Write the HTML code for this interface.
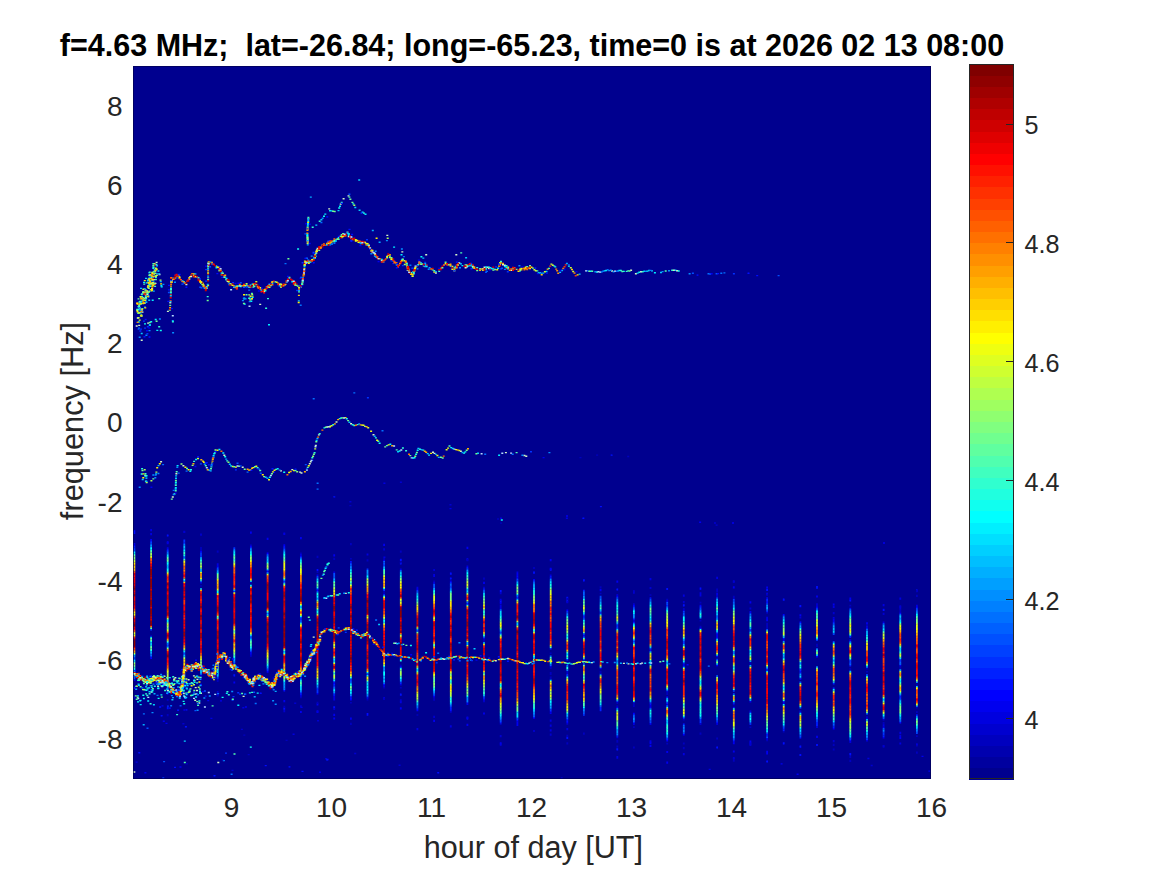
<!DOCTYPE html>
<html lang="en"><head><meta charset="utf-8"><title>spectrogram</title>
<style>
html,body{margin:0;padding:0;background:#fff}
body{width:1167px;height:875px;position:relative;overflow:hidden;font-family:"Liberation Sans",Arial,Helvetica,sans-serif;color:#262626}
.t{position:absolute;white-space:pre;line-height:1;font-size:28px}
#title{font-weight:bold;color:#000;font-size:30.5px;left:0;width:1064px;text-align:center;top:29.8px}
.xl{top:794.3px;width:100px;text-align:center}
.yl{left:0;width:122.5px;text-align:right}
.cl{left:1024.5px;font-size:25.2px}
#xlab{left:134.4px;width:798px;text-align:center;top:832.4px;font-size:30.6px}
#ylab{left:72.6px;top:421.3px;font-size:30.75px;transform:translate(-50%,-50%) rotate(-90deg)}
svg{position:absolute;left:0;top:0}
</style></head><body>
<div class="t" id="title">f=4.63 MHz;  lat=-26.84; long=-65.23, time=0 is at 2026 02 13 08:00</div>
<div class="t xl" style="left:181.5px">9</div>
<div class="t xl" style="left:281.5px">10</div>
<div class="t xl" style="left:381.5px">11</div>
<div class="t xl" style="left:481.5px">12</div>
<div class="t xl" style="left:581.5px">13</div>
<div class="t xl" style="left:681.5px">14</div>
<div class="t xl" style="left:781.5px">15</div>
<div class="t xl" style="left:881.5px">16</div>
<div class="t yl" style="top:92.5px">8</div>
<div class="t yl" style="top:171.7px">6</div>
<div class="t yl" style="top:251.0px">4</div>
<div class="t yl" style="top:330.2px">2</div>
<div class="t yl" style="top:409.4px">0</div>
<div class="t yl" style="top:488.6px">-2</div>
<div class="t yl" style="top:567.8px">-4</div>
<div class="t yl" style="top:647.1px">-6</div>
<div class="t yl" style="top:726.3px">-8</div>
<div class="t cl" style="top:112.7px">5</div>
<div class="t cl" style="top:231.7px">4.8</div>
<div class="t cl" style="top:350.7px">4.6</div>
<div class="t cl" style="top:469.7px">4.4</div>
<div class="t cl" style="top:588.7px">4.2</div>
<div class="t cl" style="top:707.7px">4</div>
<div class="t" id="xlab">hour of day [UT]</div>
<div class="t" id="ylab">frequency [Hz]</div>
<svg width="1167" height="875" viewBox="0 0 1167 875" shape-rendering="crispEdges">
<rect x="133" y="66" width="798" height="713" fill="#00008f"/>
<defs><filter id="sb" x="0" y="0" width="1" height="1"><feGaussianBlur stdDeviation="0.35"/></filter></defs>
<g shape-rendering="auto" filter="url(#sb)">
<path fill="#00cfff" d="M145 277.7h2v1.4h-2zM139.8 301.6h2v1.4h-2zM156 273.2h2v1.4h-2zM154.6 275.2h2v1.4h-2zM151.1 279.5h2v1.4h-2zM142.3 291.6h2v1.4h-2zM144.6 300.2h2v1.4h-2zM137.9 306.5h2v1.4h-2zM142.8 292.1h2v1.4h-2zM152.1 275.7h2v1.4h-2zM148.2 299.6h2v1.4h-2zM141 300.4h2v1.4h-2zM140 287.7h2v1.4h-2zM145 293.9h2v1.4h-2zM149.7 274.7h2v1.4h-2zM542.3 272.4h2v1.4h-2zM545.5 270.8h2v1.4h-2zM553.3 265.3h2v1.4h-2zM559.1 271.5h2v1.4h-2zM578.6 273.4h2v1.4h-2zM643.3 270.5h2v1.4h-2zM651 270.2h2v1.4h-2zM660 271.8h2v1.4h-2zM674.4 269.6h2v1.4h-2zM306.8 241.1h2v1.4h-2zM306.7 238.4h2v1.4h-2zM306.3 233h2v1.4h-2zM306.3 234.4h2v1.4h-2zM315.3 224.4h2v1.4h-2zM320.4 219h2v1.4h-2zM337.5 209.9h2v1.4h-2zM354.3 206.8h2v1.4h-2zM358.6 209.5h2v1.4h-2zM422.3 257.4h2v1.4h-2zM465.1 257h2v1.4h-2zM358.2 179.3h2v1.4h-2zM249.3 297.4h2v1.4h-2zM250.5 298.1h2v1.4h-2zM243 298.1h2v1.4h-2zM243.3 297.5h2v1.4h-2zM140.7 332.8h2v1.4h-2zM297.8 300.2h2v1.4h-2zM141.7 478.8h2v1.4h-2zM174.7 488.3h2v1.4h-2zM174.8 483.2h2v1.4h-2zM175 477.5h2v1.4h-2zM175.1 475.2h2v1.4h-2zM203.8 463.4h2v1.4h-2zM209.7 470.2h2v1.4h-2zM210.8 464h2v1.4h-2zM228.8 463.5h2v1.4h-2zM257.9 468.4h2v1.4h-2zM264.7 476.5h2v1.4h-2zM315.6 439.8h2v1.4h-2zM348.4 421.5h2v1.4h-2zM397 451.1h2v1.4h-2zM417.4 447.7h2v1.4h-2zM426.7 452.9h2v1.4h-2zM451.8 447.8h2v1.4h-2zM477 452.6h2v1.4h-2zM133.5 670.5h1.8v1.6h-1.8zM150.2 546.5h1.8v1.6h-1.8zM150.2 636.5h1.8v1.6h-1.8zM150.2 644h1.8v1.6h-1.8zM216.8 674.3h1.8v1.6h-1.8zM233.4 589.3h1.8v1.6h-1.8zM300 686.1h1.8v1.6h-1.8zM300 687.6h1.8v1.6h-1.8zM300 689.1h1.8v1.6h-1.8zM316.6 579h1.8v1.6h-1.8zM316.6 597h1.8v1.6h-1.8zM316.6 684h1.8v1.6h-1.8zM350 692.9h1.8v1.6h-1.8zM383.2 674.9h1.8v1.6h-1.8zM399.9 573h1.8v1.6h-1.8zM483.1 592.7h1.8v1.6h-1.8zM499.8 610.8h1.8v1.6h-1.8zM499.8 612.3h1.8v1.6h-1.8zM499.8 613.8h1.8v1.6h-1.8zM516.5 624h1.8v1.6h-1.8zM533.1 709.6h1.8v1.6h-1.8zM549.8 663h1.8v1.6h-1.8zM549.8 679.5h1.8v1.6h-1.8zM549.8 703.5h1.8v1.6h-1.8zM599.7 603.2h1.8v1.6h-1.8zM616.4 601.7h1.8v1.6h-1.8zM616.4 628.7h1.8v1.6h-1.8zM616.4 727.7h1.8v1.6h-1.8zM633 700.8h1.8v1.6h-1.8zM649.6 603.2h1.8v1.6h-1.8zM649.6 651.2h1.8v1.6h-1.8zM666.3 663.3h1.8v1.6h-1.8zM666.3 733.8h1.8v1.6h-1.8zM682.9 666.4h1.8v1.6h-1.8zM716.2 715.7h1.8v1.6h-1.8zM732.9 606.2h1.8v1.6h-1.8zM749.5 618.4h1.8v1.6h-1.8zM749.5 651.4h1.8v1.6h-1.8zM766.2 670.7h1.8v1.6h-1.8zM799.5 675.4h1.8v1.6h-1.8zM799.5 730.9h1.8v1.6h-1.8zM832.8 630.4h1.8v1.6h-1.8zM832.8 658.9h1.8v1.6h-1.8zM849.4 613.8h1.8v1.6h-1.8zM899.4 619.8h1.8v1.6h-1.8zM899.4 648.3h1.8v1.6h-1.8zM899.4 649.8h1.8v1.6h-1.8zM899.4 715.8h1.8v1.6h-1.8zM916 685.8h1.8v1.6h-1.8zM916 717.3h1.8v1.6h-1.8zM916 726.3h1.8v1.6h-1.8z"/>
<path fill="#d4f4c4" d="M151.9 282.1h2v1.4h-2zM136.8 317.3h2v1.4h-2zM154.5 282.7h2v1.4h-2zM147.2 286.1h2v1.4h-2zM150 282.6h2v1.4h-2zM151 287.9h2v1.4h-2zM146 290.5h2v1.4h-2zM155.6 261.7h2v1.4h-2zM146.7 291.4h2v1.4h-2zM146.5 293.7h2v1.4h-2zM152.9 278.9h2v1.4h-2zM138.9 307.9h2v1.4h-2zM141.5 311.4h2v1.4h-2zM144.9 297.1h2v1.4h-2zM137.7 308.7h2v1.4h-2zM154.2 270.4h2v1.4h-2zM138.1 305.8h2v1.4h-2zM158.5 273.8h2v1.4h-2zM166.9 310.7h2v1.4h-2zM169.3 302.1h2v1.4h-2zM170.1 281.3h2v1.4h-2zM170.8 280.2h2v1.4h-2zM185.4 283.8h2v1.4h-2zM188.3 278.4h2v1.4h-2zM189.3 275.9h2v1.4h-2zM190.2 275.8h2v1.4h-2zM177.6 275.7h2v1.4h-2zM226.6 280.5h2v1.4h-2zM263.1 290.6h2v1.4h-2zM278.7 283.6h2v1.4h-2zM305.2 260.9h2v1.4h-2zM315.3 252.3h2v1.4h-2zM315.9 249.2h2v1.4h-2zM316.6 247.8h2v1.4h-2zM329 240.9h2v1.4h-2zM225.7 278.7h2v1.4h-2zM315.6 250.5h2v1.4h-2zM321.4 244.5h2v1.4h-2zM347.8 235.9h2v1.4h-2zM350.4 237.7h2v1.4h-2zM367.9 244.6h2v1.4h-2zM369.1 247.3h2v1.4h-2zM380.8 259.9h2v1.4h-2zM418.4 261.4h2v1.4h-2zM376 256.7h2v1.4h-2zM434.9 272.3h2v1.4h-2zM458.3 262.3h2v1.4h-2zM464.6 267h2v1.4h-2zM466 266h2v1.4h-2zM471.9 265.6h2v1.4h-2zM482.1 268.1h2v1.4h-2zM483.5 266.6h2v1.4h-2zM486.4 266.6h2v1.4h-2zM487.9 267.9h2v1.4h-2zM499.1 263.4h2v1.4h-2zM502 264.1h2v1.4h-2zM503.9 264.5h2v1.4h-2zM510.4 269.6h2v1.4h-2zM611.1 270.3h2v1.4h-2zM630.1 269.5h2v1.4h-2zM634.9 273h2v1.4h-2zM640 271.1h2v1.4h-2zM672.8 269.5h2v1.4h-2zM676.1 270.1h2v1.4h-2zM306.8 242.8h2v1.4h-2zM306.6 240h2v1.4h-2zM328.2 208.2h2v1.4h-2zM339.7 203.4h2v1.4h-2zM342.6 198h2v1.4h-2zM347.5 195.2h2v1.4h-2zM386.3 234.7h2v1.4h-2zM401.3 251.2h2v1.4h-2zM406.7 269.7h2v1.4h-2zM425.2 254.1h2v1.4h-2zM455.3 254.1h2v1.4h-2zM259.2 303.7h2v1.4h-2zM140.7 339.6h2v1.4h-2zM135.7 325.3h2v1.4h-2zM138.2 324.7h2v1.4h-2zM147.1 322.4h2v1.4h-2zM160.1 461.1h2v1.4h-2zM171.8 496.3h2v1.4h-2zM175.4 473h2v1.4h-2zM182.4 465h2v1.4h-2zM223.3 454.6h2v1.4h-2zM241.7 466.6h2v1.4h-2zM280 470.2h2v1.4h-2zM291.3 468.9h2v1.4h-2zM299.1 471.4h2v1.4h-2zM300.5 472.3h2v1.4h-2zM308.8 463h2v1.4h-2zM309.8 461.1h2v1.4h-2zM314.8 444.7h2v1.4h-2zM317.9 434.2h2v1.4h-2zM326.2 426.3h2v1.4h-2zM335.5 421.3h2v1.4h-2zM350.1 423h2v1.4h-2zM372.5 434.1h2v1.4h-2zM432 451.5h2v1.4h-2zM433.5 452.7h2v1.4h-2zM459.9 450.5h2v1.4h-2zM504.9 451.9h2v1.4h-2zM523.4 454.8h2v1.4h-2zM525.3 455.5h2v1.4h-2z"/>
<path fill="#ff3000" d="M150.8 274.4h2v1.4h-2zM142.5 293h2v1.4h-2zM144.5 289.8h2v1.4h-2zM136.5 302.6h2v1.4h-2zM154.3 264.4h2v1.4h-2zM152.2 277.1h2v1.4h-2zM149.4 274.4h2v1.4h-2zM144.2 293.5h2v1.4h-2zM140.1 308h2v1.4h-2zM151.1 273.6h2v1.4h-2zM169.6 300.1h2v1.4h-2zM169.9 294.3h2v1.4h-2zM173.2 278.5h2v1.4h-2zM186.3 280.6h2v1.4h-2zM190.2 274.4h2v1.4h-2zM203.3 285.3h2v1.4h-2zM206.7 285.4h2v1.4h-2zM207.1 273.1h2v1.4h-2zM218.4 268.8h2v1.4h-2zM223.1 275.1h2v1.4h-2zM230.1 283.8h2v1.4h-2zM243 283.7h2v1.4h-2zM255.3 283.8h2v1.4h-2zM259.2 288.3h2v1.4h-2zM265.7 286.1h2v1.4h-2zM285.5 280.3h2v1.4h-2zM285.5 281.7h2v1.4h-2zM303.2 270.5h2v1.4h-2zM303.9 263.2h2v1.4h-2zM307.8 261.3h2v1.4h-2zM309.4 260h2v1.4h-2zM324.5 244.6h2v1.4h-2zM357.5 240.3h2v1.4h-2zM364 241.7h2v1.4h-2zM397 266.3h2v1.4h-2zM398 264.5h2v1.4h-2zM407 267.4h2v1.4h-2zM412.2 273h2v1.4h-2zM342.6 235.1h2v1.4h-2zM346.5 231.5h2v1.4h-2zM374.4 253.5h2v1.4h-2zM395.4 262.1h2v1.4h-2zM397 264.4h2v1.4h-2zM418.4 261.4h2v1.4h-2zM425.7 264.4h2v1.4h-2zM439.8 267.5h2v1.4h-2zM446.3 264.3h2v1.4h-2zM455.8 264.2h2v1.4h-2zM489.3 268.3h2v1.4h-2zM505.5 267.9h2v1.4h-2zM513.6 267.1h2v1.4h-2zM521.9 267.7h2v1.4h-2zM529 266h2v1.4h-2zM549.2 265.4h2v1.4h-2zM563.5 266h2v1.4h-2zM564.7 264.2h2v1.4h-2zM574.7 275h2v1.4h-2zM306.5 236h2v1.4h-2zM166.8 575.8h1.8v1.6h-1.8zM166.8 664.3h1.8v1.6h-1.8zM183.4 572.5h1.8v1.6h-1.8zM183.4 599.5h1.8v1.6h-1.8zM183.4 601h1.8v1.6h-1.8zM183.4 602.5h1.8v1.6h-1.8zM200.1 630.2h1.8v1.6h-1.8zM200.1 642.2h1.8v1.6h-1.8zM216.8 651.8h1.8v1.6h-1.8zM216.8 653.3h1.8v1.6h-1.8zM216.8 654.8h1.8v1.6h-1.8zM233.4 580.3h1.8v1.6h-1.8zM233.4 581.8h1.8v1.6h-1.8zM233.4 583.3h1.8v1.6h-1.8zM250 577.3h1.8v1.6h-1.8zM266.7 647.1h1.8v1.6h-1.8zM333.3 649.5h1.8v1.6h-1.8zM350 665.9h1.8v1.6h-1.8zM366.6 619.4h1.8v1.6h-1.8zM366.6 620.9h1.8v1.6h-1.8zM383.2 608.9h1.8v1.6h-1.8zM383.2 655.4h1.8v1.6h-1.8zM399.9 591h1.8v1.6h-1.8zM399.9 597h1.8v1.6h-1.8zM399.9 637.5h1.8v1.6h-1.8zM416.5 625.7h1.8v1.6h-1.8zM416.5 634.7h1.8v1.6h-1.8zM416.5 637.7h1.8v1.6h-1.8zM416.5 652.7h1.8v1.6h-1.8zM416.5 664.7h1.8v1.6h-1.8zM433.2 607.6h1.8v1.6h-1.8zM433.2 615.1h1.8v1.6h-1.8zM433.2 634.6h1.8v1.6h-1.8zM449.9 612.1h1.8v1.6h-1.8zM449.9 619.6h1.8v1.6h-1.8zM449.9 621.1h1.8v1.6h-1.8zM449.9 637.6h1.8v1.6h-1.8zM449.9 639.1h1.8v1.6h-1.8zM449.9 640.6h1.8v1.6h-1.8zM466.5 598.4h1.8v1.6h-1.8zM483.1 625.7h1.8v1.6h-1.8zM483.1 660.2h1.8v1.6h-1.8zM483.1 669.2h1.8v1.6h-1.8zM499.8 696.3h1.8v1.6h-1.8zM533.1 633.1h1.8v1.6h-1.8zM533.1 660.1h1.8v1.6h-1.8zM549.8 615h1.8v1.6h-1.8zM549.8 631.5h1.8v1.6h-1.8zM566.4 643.9h1.8v1.6h-1.8zM566.4 691.9h1.8v1.6h-1.8zM583 687.2h1.8v1.6h-1.8zM599.7 622.7h1.8v1.6h-1.8zM599.7 624.2h1.8v1.6h-1.8zM599.7 627.2h1.8v1.6h-1.8zM599.7 642.2h1.8v1.6h-1.8zM599.7 648.2h1.8v1.6h-1.8zM599.7 651.2h1.8v1.6h-1.8zM599.7 663.2h1.8v1.6h-1.8zM616.4 645.2h1.8v1.6h-1.8zM616.4 651.2h1.8v1.6h-1.8zM616.4 670.7h1.8v1.6h-1.8zM616.4 672.2h1.8v1.6h-1.8zM616.4 673.7h1.8v1.6h-1.8zM616.4 693.2h1.8v1.6h-1.8zM633 633.3h1.8v1.6h-1.8zM633 649.8h1.8v1.6h-1.8zM633 651.3h1.8v1.6h-1.8zM633 654.3h1.8v1.6h-1.8zM633 676.8h1.8v1.6h-1.8zM633 678.3h1.8v1.6h-1.8zM633 696.3h1.8v1.6h-1.8zM649.6 639.2h1.8v1.6h-1.8zM649.6 681.2h1.8v1.6h-1.8zM649.6 682.7h1.8v1.6h-1.8zM649.6 690.2h1.8v1.6h-1.8zM666.3 630.3h1.8v1.6h-1.8zM666.3 631.8h1.8v1.6h-1.8zM666.3 649.8h1.8v1.6h-1.8zM666.3 654.3h1.8v1.6h-1.8zM716.2 649.7h1.8v1.6h-1.8zM716.2 688.7h1.8v1.6h-1.8zM716.2 690.2h1.8v1.6h-1.8zM732.9 630.2h1.8v1.6h-1.8zM732.9 658.7h1.8v1.6h-1.8zM732.9 660.2h1.8v1.6h-1.8zM732.9 675.2h1.8v1.6h-1.8zM766.2 640.7h1.8v1.6h-1.8zM766.2 642.2h1.8v1.6h-1.8zM766.2 648.2h1.8v1.6h-1.8zM766.2 706.7h1.8v1.6h-1.8zM782.8 645.4h1.8v1.6h-1.8zM782.8 672.4h1.8v1.6h-1.8zM799.5 700.9h1.8v1.6h-1.8zM816.1 676.8h1.8v1.6h-1.8zM816.1 681.3h1.8v1.6h-1.8zM832.8 699.4h1.8v1.6h-1.8zM832.8 703.9h1.8v1.6h-1.8zM849.4 696.3h1.8v1.6h-1.8zM849.4 709.8h1.8v1.6h-1.8zM849.4 714.3h1.8v1.6h-1.8zM866.1 692h1.8v1.6h-1.8zM866.1 704h1.8v1.6h-1.8zM882.7 651.4h1.8v1.6h-1.8zM882.7 663.4h1.8v1.6h-1.8zM882.7 687.4h1.8v1.6h-1.8zM899.4 637.8h1.8v1.6h-1.8zM899.4 640.8h1.8v1.6h-1.8zM916 676.8h1.8v1.6h-1.8z"/>
<path fill="#30ffcf" d="M139.8 296.3h2v1.4h-2zM141.4 307.9h2v1.4h-2zM142.2 296.9h2v1.4h-2zM138.3 311.7h2v1.4h-2zM155 275.6h2v1.4h-2zM152.5 266.5h2v1.4h-2zM154.1 285.7h2v1.4h-2zM155.4 263.7h2v1.4h-2zM136.2 308.8h2v1.4h-2zM145.2 290.1h2v1.4h-2zM137 312.4h2v1.4h-2zM142.8 291.6h2v1.4h-2zM137.5 305.9h2v1.4h-2zM140.7 309.9h2v1.4h-2zM139.5 312.1h2v1.4h-2zM142.3 299.2h2v1.4h-2zM137.6 305.9h2v1.4h-2zM142.1 299.2h2v1.4h-2zM154.9 276.7h2v1.4h-2zM144.9 296.2h2v1.4h-2zM148 282.2h2v1.4h-2zM169.9 292h2v1.4h-2zM170 288.9h2v1.4h-2zM170 287.5h2v1.4h-2zM197.5 277h2v1.4h-2zM200.1 282.7h2v1.4h-2zM175.6 275.9h2v1.4h-2zM207.1 268.3h2v1.4h-2zM207.1 264.7h2v1.4h-2zM220.7 271.3h2v1.4h-2zM224.2 276.4h2v1.4h-2zM225.4 279.1h2v1.4h-2zM237.4 285.3h2v1.4h-2zM240.3 285h2v1.4h-2zM245.6 284.3h2v1.4h-2zM249.5 284.4h2v1.4h-2zM252.4 286.4h2v1.4h-2zM264.4 290h2v1.4h-2zM267 286.3h2v1.4h-2zM274.3 281.1h2v1.4h-2zM294.2 283h2v1.4h-2zM295.5 284.6h2v1.4h-2zM306.5 261.7h2v1.4h-2zM309.4 261.4h2v1.4h-2zM312.7 258.2h2v1.4h-2zM314.6 253.2h2v1.4h-2zM239.8 285.9h2v1.4h-2zM255.3 283.9h2v1.4h-2zM307.8 261.3h2v1.4h-2zM313.6 257.1h2v1.4h-2zM314.6 255.6h2v1.4h-2zM333.4 241.1h2v1.4h-2zM337.7 238.5h2v1.4h-2zM366.6 244.3h2v1.4h-2zM405.9 263h2v1.4h-2zM410.1 272.1h2v1.4h-2zM412.8 271.6h2v1.4h-2zM412.8 273h2v1.4h-2zM417.1 264h2v1.4h-2zM340.7 236.4h2v1.4h-2zM372.7 252.2h2v1.4h-2zM412.3 271.1h2v1.4h-2zM418.4 262.8h2v1.4h-2zM433.3 270h2v1.4h-2zM438.2 270.5h2v1.4h-2zM453.4 267.2h2v1.4h-2zM470.4 265.2h2v1.4h-2zM471.9 267h2v1.4h-2zM476.2 267h2v1.4h-2zM479.1 268.1h2v1.4h-2zM487.9 266.5h2v1.4h-2zM500 260.8h2v1.4h-2zM505.5 265.1h2v1.4h-2zM507.2 268h2v1.4h-2zM519 270h2v1.4h-2zM526.2 266h2v1.4h-2zM536.3 270.2h2v1.4h-2zM548 267.7h2v1.4h-2zM554.3 266.2h2v1.4h-2zM619.9 269.8h2v1.4h-2zM625.7 270.7h2v1.4h-2zM641.7 271h2v1.4h-2zM671.2 269.6h2v1.4h-2zM306.7 226.3h2v1.4h-2zM311.7 226.5h2v1.4h-2zM318.7 220.5h2v1.4h-2zM340.7 201.8h2v1.4h-2zM363 212.4h2v1.4h-2zM248.1 297.6h2v1.4h-2zM265.1 307.6h2v1.4h-2zM206.7 295.9h2v1.4h-2zM267 297.9h2v1.4h-2zM171.9 321h2v1.4h-2zM158.2 326h2v1.4h-2zM144.6 475.4h2v1.4h-2zM144.5 473h2v1.4h-2zM141.1 468.1h2v1.4h-2zM144.9 480.6h2v1.4h-2zM173.7 493.1h2v1.4h-2zM193.1 460.7h2v1.4h-2zM210.4 466.2h2v1.4h-2zM226.2 460.2h2v1.4h-2zM233.3 466.1h2v1.4h-2zM253.9 466h2v1.4h-2zM256.6 467h2v1.4h-2zM311.3 457h2v1.4h-2zM313.6 452h2v1.4h-2zM318.7 433.1h2v1.4h-2zM332.2 424h2v1.4h-2zM374.9 437.2h2v1.4h-2zM401.9 447.3h2v1.4h-2zM405.1 450h2v1.4h-2zM419.1 448.6h2v1.4h-2zM422.3 449.4h2v1.4h-2zM133.5 553.5h1.8v1.6h-1.8zM133.5 654h1.8v1.6h-1.8zM133.5 667.5h1.8v1.6h-1.8zM150.2 549.5h1.8v1.6h-1.8zM166.8 556.3h1.8v1.6h-1.8zM166.8 682.3h1.8v1.6h-1.8zM183.4 551.5h1.8v1.6h-1.8zM233.4 554.8h1.8v1.6h-1.8zM300 608.1h1.8v1.6h-1.8zM316.6 586.5h1.8v1.6h-1.8zM316.6 679.5h1.8v1.6h-1.8zM350 581.9h1.8v1.6h-1.8zM350 676.4h1.8v1.6h-1.8zM366.6 680.9h1.8v1.6h-1.8zM399.9 576h1.8v1.6h-1.8zM449.9 700.6h1.8v1.6h-1.8zM466.5 587.9h1.8v1.6h-1.8zM466.5 604.4h1.8v1.6h-1.8zM483.1 610.7h1.8v1.6h-1.8zM483.1 612.2h1.8v1.6h-1.8zM483.1 691.7h1.8v1.6h-1.8zM483.1 693.2h1.8v1.6h-1.8zM499.8 685.8h1.8v1.6h-1.8zM499.8 712.8h1.8v1.6h-1.8zM516.5 711h1.8v1.6h-1.8zM533.1 703.6h1.8v1.6h-1.8zM533.1 705.1h1.8v1.6h-1.8zM533.1 706.6h1.8v1.6h-1.8zM549.8 586.5h1.8v1.6h-1.8zM566.4 616.9h1.8v1.6h-1.8zM566.4 667.9h1.8v1.6h-1.8zM566.4 676.9h1.8v1.6h-1.8zM583 621.2h1.8v1.6h-1.8zM616.4 610.7h1.8v1.6h-1.8zM616.4 621.2h1.8v1.6h-1.8zM616.4 699.2h1.8v1.6h-1.8zM616.4 709.7h1.8v1.6h-1.8zM666.3 724.8h1.8v1.6h-1.8zM666.3 726.3h1.8v1.6h-1.8zM666.3 729.3h1.8v1.6h-1.8zM666.3 730.8h1.8v1.6h-1.8zM682.9 621.4h1.8v1.6h-1.8zM699.6 613.8h1.8v1.6h-1.8zM699.6 708.3h1.8v1.6h-1.8zM716.2 619.7h1.8v1.6h-1.8zM716.2 660.2h1.8v1.6h-1.8zM732.9 666.2h1.8v1.6h-1.8zM732.9 688.7h1.8v1.6h-1.8zM732.9 729.2h1.8v1.6h-1.8zM749.5 621.4h1.8v1.6h-1.8zM749.5 625.9h1.8v1.6h-1.8zM766.2 666.2h1.8v1.6h-1.8zM766.2 727.7h1.8v1.6h-1.8zM782.8 622.9h1.8v1.6h-1.8zM782.8 688.9h1.8v1.6h-1.8zM782.8 699.4h1.8v1.6h-1.8zM799.5 705.4h1.8v1.6h-1.8zM816.1 612.3h1.8v1.6h-1.8zM816.1 711.3h1.8v1.6h-1.8zM849.4 732.3h1.8v1.6h-1.8zM866.1 638h1.8v1.6h-1.8zM866.1 729.5h1.8v1.6h-1.8zM882.7 630.4h1.8v1.6h-1.8zM916 615.3h1.8v1.6h-1.8z"/>
<path fill="#10ffef" d="M149.2 280.5h2v1.4h-2zM145.2 298h2v1.4h-2zM146.7 292.6h2v1.4h-2zM139.9 315.1h2v1.4h-2zM153 282.9h2v1.4h-2zM138.3 303.8h2v1.4h-2zM150.4 276.6h2v1.4h-2zM143.4 302.6h2v1.4h-2zM143.8 302.6h2v1.4h-2zM138.3 301.4h2v1.4h-2zM137.4 309.1h2v1.4h-2zM149 285.5h2v1.4h-2zM152.3 267.5h2v1.4h-2zM152.1 283.8h2v1.4h-2zM145.6 282.2h2v1.4h-2zM155 268.3h2v1.4h-2zM137.7 321.3h2v1.4h-2zM154 270.2h2v1.4h-2zM141.1 295.7h2v1.4h-2zM146.9 280h2v1.4h-2zM160.7 286.2h2v1.4h-2zM537.7 272.2h2v1.4h-2zM567.9 265.4h2v1.4h-2zM589.6 270.5h2v1.4h-2zM595.9 271.3h2v1.4h-2zM622.8 270.7h2v1.4h-2zM638.3 271.6h2v1.4h-2zM677.7 270.3h2v1.4h-2zM306.5 237.4h2v1.4h-2zM306.4 234.6h2v1.4h-2zM306.4 236h2v1.4h-2zM307 222.4h2v1.4h-2zM307 223.8h2v1.4h-2zM307.3 220.9h2v1.4h-2zM323 215.5h2v1.4h-2zM338.2 207.3h2v1.4h-2zM352.3 203.2h2v1.4h-2zM420.4 256.1h2v1.4h-2zM297.1 248.3h2v1.4h-2zM144 323.2h2v1.4h-2zM159.8 329.8h2v1.4h-2zM150.2 321.1h2v1.4h-2zM140.7 473.3h2v1.4h-2zM174.9 481.5h2v1.4h-2zM189.3 470.7h2v1.4h-2zM190 469h2v1.4h-2zM224.2 456.1h2v1.4h-2zM268.9 476.5h2v1.4h-2zM283.2 471.6h2v1.4h-2zM323.4 427.2h2v1.4h-2zM340.2 417.3h2v1.4h-2zM345.8 418.1h2v1.4h-2zM351.7 424.1h2v1.4h-2zM378.6 442.5h2v1.4h-2zM389.3 443.5h2v1.4h-2zM398.6 450.3h2v1.4h-2zM413.5 457.1h2v1.4h-2zM415.1 453.5h2v1.4h-2zM463.1 452.4h2v1.4h-2zM464.4 451.2h2v1.4h-2zM150.2 641h1.8v1.6h-1.8zM150.2 650h1.8v1.6h-1.8zM183.4 554.5h1.8v1.6h-1.8zM216.8 572.3h1.8v1.6h-1.8zM216.8 590.3h1.8v1.6h-1.8zM216.8 591.8h1.8v1.6h-1.8zM233.4 553.3h1.8v1.6h-1.8zM250 646.3h1.8v1.6h-1.8zM266.7 561.6h1.8v1.6h-1.8zM300 605.1h1.8v1.6h-1.8zM300 615.6h1.8v1.6h-1.8zM300 680.1h1.8v1.6h-1.8zM316.6 580.5h1.8v1.6h-1.8zM316.6 682.5h1.8v1.6h-1.8zM333.3 580.5h1.8v1.6h-1.8zM350 571.4h1.8v1.6h-1.8zM350 689.9h1.8v1.6h-1.8zM366.6 671.9h1.8v1.6h-1.8zM383.2 587.9h1.8v1.6h-1.8zM383.2 619.4h1.8v1.6h-1.8zM449.9 591.1h1.8v1.6h-1.8zM449.9 681.1h1.8v1.6h-1.8zM483.1 594.2h1.8v1.6h-1.8zM533.1 589.6h1.8v1.6h-1.8zM533.1 630.1h1.8v1.6h-1.8zM549.8 583.5h1.8v1.6h-1.8zM566.4 636.4h1.8v1.6h-1.8zM566.4 666.4h1.8v1.6h-1.8zM583 598.7h1.8v1.6h-1.8zM599.7 604.7h1.8v1.6h-1.8zM599.7 702.2h1.8v1.6h-1.8zM616.4 607.7h1.8v1.6h-1.8zM616.4 663.2h1.8v1.6h-1.8zM649.6 616.7h1.8v1.6h-1.8zM649.6 699.2h1.8v1.6h-1.8zM649.6 709.7h1.8v1.6h-1.8zM649.6 712.7h1.8v1.6h-1.8zM666.3 660.3h1.8v1.6h-1.8zM699.6 615.3h1.8v1.6h-1.8zM699.6 628.8h1.8v1.6h-1.8zM699.6 712.8h1.8v1.6h-1.8zM716.2 714.2h1.8v1.6h-1.8zM732.9 730.7h1.8v1.6h-1.8zM749.5 652.9h1.8v1.6h-1.8zM782.8 621.4h1.8v1.6h-1.8zM782.8 652.9h1.8v1.6h-1.8zM782.8 685.9h1.8v1.6h-1.8zM799.5 666.4h1.8v1.6h-1.8zM849.4 733.8h1.8v1.6h-1.8zM882.7 697.9h1.8v1.6h-1.8zM899.4 678.3h1.8v1.6h-1.8zM899.4 681.3h1.8v1.6h-1.8zM916 724.8h1.8v1.6h-1.8z"/>
<path fill="#cfff30" d="M155.9 274.7h2v1.4h-2zM138 312.3h2v1.4h-2zM151 285.4h2v1.4h-2zM142.4 299.4h2v1.4h-2zM154.5 275.6h2v1.4h-2zM153.1 273.3h2v1.4h-2zM155.1 269.1h2v1.4h-2zM150.6 290.2h2v1.4h-2zM138.7 319.4h2v1.4h-2zM154.8 267.6h2v1.4h-2zM151.2 271.7h2v1.4h-2zM142.2 302.8h2v1.4h-2zM136.2 309.7h2v1.4h-2zM137.6 317h2v1.4h-2zM142.4 288.6h2v1.4h-2zM147.9 291.4h2v1.4h-2zM150.3 277.8h2v1.4h-2zM140 303.1h2v1.4h-2zM170.1 280h2v1.4h-2zM192.8 273.2h2v1.4h-2zM201.9 282.8h2v1.4h-2zM207.1 284.5h2v1.4h-2zM207.1 276.9h2v1.4h-2zM207.1 272.2h2v1.4h-2zM215.5 265.7h2v1.4h-2zM235.9 285.6h2v1.4h-2zM244.3 285h2v1.4h-2zM245.6 282.9h2v1.4h-2zM255.3 281h2v1.4h-2zM259.2 286.9h2v1.4h-2zM280 283.5h2v1.4h-2zM280 286.3h2v1.4h-2zM299.6 286.5h2v1.4h-2zM303.6 264.3h2v1.4h-2zM303.9 261.8h2v1.4h-2zM314 257h2v1.4h-2zM327.5 242.9h2v1.4h-2zM288.4 276.7h2v1.4h-2zM305.9 260.9h2v1.4h-2zM333.4 239.7h2v1.4h-2zM365.3 242.8h2v1.4h-2zM371.5 249.8h2v1.4h-2zM403.3 260h2v1.4h-2zM405.9 264.4h2v1.4h-2zM413.4 270.3h2v1.4h-2zM413.9 267.5h2v1.4h-2zM414.5 266.8h2v1.4h-2zM336.8 238.2h2v1.4h-2zM364 241.8h2v1.4h-2zM451.4 265.8h2v1.4h-2zM451.4 268.6h2v1.4h-2zM453.4 270h2v1.4h-2zM457 264.3h2v1.4h-2zM466 264.6h2v1.4h-2zM482.1 269.5h2v1.4h-2zM499.1 262h2v1.4h-2zM519 268.6h2v1.4h-2zM520.4 267.8h2v1.4h-2zM533.4 269.1h2v1.4h-2zM534.8 270.1h2v1.4h-2zM543.9 271h2v1.4h-2zM550.4 263.4h2v1.4h-2zM551.8 264.6h2v1.4h-2zM569.8 267.1h2v1.4h-2zM572.2 270.8h2v1.4h-2zM306.8 242.5h2v1.4h-2zM306.6 237.2h2v1.4h-2zM197 457.8h2v1.4h-2zM231.7 465.8h2v1.4h-2zM314.2 448.2h2v1.4h-2zM361.1 424.4h2v1.4h-2zM367.2 427.1h2v1.4h-2zM458.3 449.8h2v1.4h-2zM133.5 633h1.8v1.6h-1.8zM133.5 652.5h1.8v1.6h-1.8zM166.8 623.8h1.8v1.6h-1.8zM183.4 658h1.8v1.6h-1.8zM200.1 658.7h1.8v1.6h-1.8zM216.8 578.3h1.8v1.6h-1.8zM216.8 662.3h1.8v1.6h-1.8zM266.7 573.6h1.8v1.6h-1.8zM283.4 577.3h1.8v1.6h-1.8zM283.4 670.3h1.8v1.6h-1.8zM283.4 671.8h1.8v1.6h-1.8zM283.4 674.8h1.8v1.6h-1.8zM316.6 607.5h1.8v1.6h-1.8zM416.5 693.2h1.8v1.6h-1.8zM416.5 694.7h1.8v1.6h-1.8zM416.5 696.2h1.8v1.6h-1.8zM449.9 600.1h1.8v1.6h-1.8zM449.9 678.1h1.8v1.6h-1.8zM449.9 691.6h1.8v1.6h-1.8zM466.5 581.9h1.8v1.6h-1.8zM466.5 599.9h1.8v1.6h-1.8zM466.5 640.4h1.8v1.6h-1.8zM483.1 682.7h1.8v1.6h-1.8zM499.8 705.3h1.8v1.6h-1.8zM516.5 703.5h1.8v1.6h-1.8zM533.1 631.6h1.8v1.6h-1.8zM533.1 699.1h1.8v1.6h-1.8zM549.8 591h1.8v1.6h-1.8zM549.8 592.5h1.8v1.6h-1.8zM549.8 696h1.8v1.6h-1.8zM566.4 624.4h1.8v1.6h-1.8zM566.4 639.4h1.8v1.6h-1.8zM616.4 715.7h1.8v1.6h-1.8zM616.4 717.2h1.8v1.6h-1.8zM616.4 718.7h1.8v1.6h-1.8zM649.6 658.7h1.8v1.6h-1.8zM666.3 618.3h1.8v1.6h-1.8zM666.3 658.8h1.8v1.6h-1.8zM699.6 699.3h1.8v1.6h-1.8zM716.2 640.7h1.8v1.6h-1.8zM716.2 703.7h1.8v1.6h-1.8zM749.5 666.4h1.8v1.6h-1.8zM782.8 631.9h1.8v1.6h-1.8zM782.8 633.4h1.8v1.6h-1.8zM782.8 682.9h1.8v1.6h-1.8zM782.8 705.4h1.8v1.6h-1.8zM782.8 712.9h1.8v1.6h-1.8zM799.5 724.9h1.8v1.6h-1.8zM816.1 621.3h1.8v1.6h-1.8zM832.8 664.9h1.8v1.6h-1.8zM832.8 711.4h1.8v1.6h-1.8zM849.4 672.3h1.8v1.6h-1.8zM866.1 722h1.8v1.6h-1.8zM882.7 633.4h1.8v1.6h-1.8zM882.7 634.9h1.8v1.6h-1.8zM899.4 624.3h1.8v1.6h-1.8z"/>
<path fill="#ff8f00" d="M136.6 303.6h2v1.4h-2zM143.9 301.9h2v1.4h-2zM142.2 301.3h2v1.4h-2zM153.6 283.7h2v1.4h-2zM140.2 310.8h2v1.4h-2zM151.9 279.7h2v1.4h-2zM151.3 286.4h2v1.4h-2zM150.9 278.6h2v1.4h-2zM140.4 297.8h2v1.4h-2zM136.6 321.7h2v1.4h-2zM144.3 291.5h2v1.4h-2zM172 278.7h2v1.4h-2zM174.4 277.3h2v1.4h-2zM192.8 274.6h2v1.4h-2zM199 281.1h2v1.4h-2zM211 261.8h2v1.4h-2zM220.7 274.1h2v1.4h-2zM234.4 286.9h2v1.4h-2zM246.9 285.3h2v1.4h-2zM256.6 285.9h2v1.4h-2zM264.4 288.6h2v1.4h-2zM277.2 282.4h2v1.4h-2zM280 284.9h2v1.4h-2zM313.3 256.4h2v1.4h-2zM316.6 249.2h2v1.4h-2zM326 242.7h2v1.4h-2zM351.8 238.9h2v1.4h-2zM360.1 241.4h2v1.4h-2zM365.3 244.2h2v1.4h-2zM370.3 248.9h2v1.4h-2zM387.3 254.7h2v1.4h-2zM388.9 254h2v1.4h-2zM399 262.8h2v1.4h-2zM404.8 260.6h2v1.4h-2zM406.5 267.3h2v1.4h-2zM410.1 273.5h2v1.4h-2zM415.8 265h2v1.4h-2zM555.2 268.4h2v1.4h-2zM556.2 270.1h2v1.4h-2zM557.2 272.5h2v1.4h-2zM562.3 267.8h2v1.4h-2zM573.5 272.3h2v1.4h-2zM306.7 241.2h2v1.4h-2zM306.3 232.5h2v1.4h-2zM306.4 229.6h2v1.4h-2zM166.8 631.3h1.8v1.6h-1.8zM200.1 573.2h1.8v1.6h-1.8zM200.1 574.7h1.8v1.6h-1.8zM216.8 585.8h1.8v1.6h-1.8zM216.8 657.8h1.8v1.6h-1.8zM233.4 625.3h1.8v1.6h-1.8zM233.4 635.8h1.8v1.6h-1.8zM250 563.8h1.8v1.6h-1.8zM250 631.3h1.8v1.6h-1.8zM283.4 667.3h1.8v1.6h-1.8zM300 626.1h1.8v1.6h-1.8zM300 668.1h1.8v1.6h-1.8zM333.3 669h1.8v1.6h-1.8zM366.6 587.9h1.8v1.6h-1.8zM366.6 589.4h1.8v1.6h-1.8zM366.6 590.9h1.8v1.6h-1.8zM366.6 617.9h1.8v1.6h-1.8zM383.2 584.9h1.8v1.6h-1.8zM383.2 625.4h1.8v1.6h-1.8zM383.2 659.9h1.8v1.6h-1.8zM416.5 688.7h1.8v1.6h-1.8zM433.2 603.1h1.8v1.6h-1.8zM466.5 680.9h1.8v1.6h-1.8zM483.1 676.7h1.8v1.6h-1.8zM499.8 697.8h1.8v1.6h-1.8zM516.5 699h1.8v1.6h-1.8zM533.1 690.1h1.8v1.6h-1.8zM533.1 691.6h1.8v1.6h-1.8zM566.4 681.4h1.8v1.6h-1.8zM583 691.7h1.8v1.6h-1.8zM599.7 618.2h1.8v1.6h-1.8zM599.7 619.7h1.8v1.6h-1.8zM633 645.3h1.8v1.6h-1.8zM649.6 625.7h1.8v1.6h-1.8zM649.6 694.7h1.8v1.6h-1.8zM666.3 712.8h1.8v1.6h-1.8zM682.9 630.4h1.8v1.6h-1.8zM682.9 631.9h1.8v1.6h-1.8zM732.9 697.7h1.8v1.6h-1.8zM732.9 711.2h1.8v1.6h-1.8zM766.2 711.2h1.8v1.6h-1.8zM782.8 708.4h1.8v1.6h-1.8zM816.1 700.8h1.8v1.6h-1.8zM849.4 646.8h1.8v1.6h-1.8zM866.1 662h1.8v1.6h-1.8zM866.1 681.5h1.8v1.6h-1.8zM899.4 672.3h1.8v1.6h-1.8zM916 634.8h1.8v1.6h-1.8z"/>
<path fill="#ffef00" d="M152.9 262.9h2v1.4h-2zM151.4 272.9h2v1.4h-2zM136.2 302.5h2v1.4h-2zM153.8 269h2v1.4h-2zM147.4 282h2v1.4h-2zM148.6 277.5h2v1.4h-2zM149.8 288.9h2v1.4h-2zM151.6 282.3h2v1.4h-2zM143.8 279.9h2v1.4h-2zM144.1 299.6h2v1.4h-2zM151.2 288.3h2v1.4h-2zM147.2 284.9h2v1.4h-2zM136.5 311h2v1.4h-2zM145.4 290h2v1.4h-2zM149.2 283.3h2v1.4h-2zM151.9 279.1h2v1.4h-2zM153.5 262.9h2v1.4h-2zM155.9 268.4h2v1.4h-2zM151 289.7h2v1.4h-2zM139.6 296.1h2v1.4h-2zM160.1 283.2h2v1.4h-2zM194.4 276.1h2v1.4h-2zM200.4 281.6h2v1.4h-2zM263.1 289.2h2v1.4h-2zM268.5 286.6h2v1.4h-2zM275.7 281.6h2v1.4h-2zM302.7 274h2v1.4h-2zM303.1 270.9h2v1.4h-2zM303.8 264.1h2v1.4h-2zM303.9 260.4h2v1.4h-2zM307.8 262.7h2v1.4h-2zM340.7 235.5h2v1.4h-2zM356.2 239.8h2v1.4h-2zM366.6 242.9h2v1.4h-2zM370.3 250.3h2v1.4h-2zM373.9 254.2h2v1.4h-2zM386.1 255.7h2v1.4h-2zM388.9 256.8h2v1.4h-2zM400.9 260.1h2v1.4h-2zM390.5 258.8h2v1.4h-2zM410.1 273.3h2v1.4h-2zM413.8 268h2v1.4h-2zM433.3 271.4h2v1.4h-2zM444.6 263h2v1.4h-2zM496.2 269.1h2v1.4h-2zM498.1 265.4h2v1.4h-2zM507.2 266.6h2v1.4h-2zM517.5 270.6h2v1.4h-2zM520.4 269.2h2v1.4h-2zM524.8 266.6h2v1.4h-2zM529 267.8h2v1.4h-2zM530.5 266.6h2v1.4h-2zM576.6 274.2h2v1.4h-2zM306.6 227.5h2v1.4h-2zM307.4 218.1h2v1.4h-2zM375.6 237.6h2v1.4h-2zM249.6 295.5h2v1.4h-2zM251 298h2v1.4h-2zM243 294h2v1.4h-2zM297.7 301.8h2v1.4h-2zM142.4 473.2h2v1.4h-2zM142.3 477.1h2v1.4h-2zM156.2 467h2v1.4h-2zM158.8 463h2v1.4h-2zM184.4 466.5h2v1.4h-2zM187.6 469h2v1.4h-2zM201.9 460.4h2v1.4h-2zM202.9 461.5h2v1.4h-2zM216.5 449.6h2v1.4h-2zM234.9 466.4h2v1.4h-2zM249.5 469.3h2v1.4h-2zM261.8 474h2v1.4h-2zM273.5 469.5h2v1.4h-2zM292.9 469.9h2v1.4h-2zM344.5 416.9h2v1.4h-2zM430.1 452.7h2v1.4h-2zM133.5 562.5h1.8v1.6h-1.8zM133.5 612h1.8v1.6h-1.8zM183.4 664h1.8v1.6h-1.8zM216.8 660.8h1.8v1.6h-1.8zM250 560.8h1.8v1.6h-1.8zM333.3 646.5h1.8v1.6h-1.8zM333.3 663h1.8v1.6h-1.8zM366.6 677.9h1.8v1.6h-1.8zM383.2 662.9h1.8v1.6h-1.8zM399.9 585h1.8v1.6h-1.8zM433.2 600.1h1.8v1.6h-1.8zM466.5 683.9h1.8v1.6h-1.8zM483.1 604.7h1.8v1.6h-1.8zM499.8 636.3h1.8v1.6h-1.8zM499.8 702.3h1.8v1.6h-1.8zM516.5 702h1.8v1.6h-1.8zM533.1 697.6h1.8v1.6h-1.8zM549.8 645h1.8v1.6h-1.8zM549.8 682.5h1.8v1.6h-1.8zM566.4 706.9h1.8v1.6h-1.8zM616.4 666.2h1.8v1.6h-1.8zM649.6 622.7h1.8v1.6h-1.8zM649.6 654.2h1.8v1.6h-1.8zM649.6 696.2h1.8v1.6h-1.8zM666.3 622.8h1.8v1.6h-1.8zM666.3 666.3h1.8v1.6h-1.8zM666.3 714.3h1.8v1.6h-1.8zM682.9 699.4h1.8v1.6h-1.8zM699.6 687.3h1.8v1.6h-1.8zM716.2 627.2h1.8v1.6h-1.8zM716.2 702.2h1.8v1.6h-1.8zM732.9 622.7h1.8v1.6h-1.8zM732.9 709.7h1.8v1.6h-1.8zM749.5 634.9h1.8v1.6h-1.8zM749.5 696.4h1.8v1.6h-1.8zM782.8 649.9h1.8v1.6h-1.8zM799.5 634.9h1.8v1.6h-1.8zM799.5 703.9h1.8v1.6h-1.8zM832.8 691.9h1.8v1.6h-1.8zM832.8 708.4h1.8v1.6h-1.8zM849.4 624.3h1.8v1.6h-1.8zM849.4 630.3h1.8v1.6h-1.8zM866.1 644h1.8v1.6h-1.8zM866.1 678.5h1.8v1.6h-1.8zM882.7 637.9h1.8v1.6h-1.8zM899.4 627.3h1.8v1.6h-1.8z"/>
<path fill="#00afff" d="M138.7 307h2v1.4h-2zM147.7 287.6h2v1.4h-2zM145.4 301.6h2v1.4h-2zM147.4 295.1h2v1.4h-2zM139 308.8h2v1.4h-2zM144.8 289.5h2v1.4h-2zM148.3 272h2v1.4h-2zM147.4 279.1h2v1.4h-2zM152.8 290.4h2v1.4h-2zM153.9 269.2h2v1.4h-2zM152.9 270.7h2v1.4h-2zM143.7 287.9h2v1.4h-2zM147.7 296.1h2v1.4h-2zM145.1 290.7h2v1.4h-2zM147.8 278.5h2v1.4h-2zM141.2 293.1h2v1.4h-2zM152.5 280.4h2v1.4h-2zM144 306.5h2v1.4h-2zM138.8 307.1h2v1.4h-2zM156 265h2v1.4h-2zM158.2 273.1h2v1.4h-2zM159.8 280.8h2v1.4h-2zM169.5 300.8h2v1.4h-2zM194.4 273.3h2v1.4h-2zM203.6 287.6h2v1.4h-2zM206.7 283.8h2v1.4h-2zM172.4 277.3h2v1.4h-2zM196.1 276.5h2v1.4h-2zM207.1 275.4h2v1.4h-2zM211 263.2h2v1.4h-2zM220.7 272.7h2v1.4h-2zM233 286.6h2v1.4h-2zM234.4 285.5h2v1.4h-2zM260.5 289.6h2v1.4h-2zM271.4 282.6h2v1.4h-2zM278.7 285h2v1.4h-2zM288.4 277.5h2v1.4h-2zM301 283.5h2v1.4h-2zM301.6 281.7h2v1.4h-2zM301.8 281h2v1.4h-2zM303.5 266h2v1.4h-2zM237.8 284.9h2v1.4h-2zM247.6 284.9h2v1.4h-2zM251.4 283.4h2v1.4h-2zM302 277.2h2v1.4h-2zM327.1 241.4h2v1.4h-2zM334.8 240.7h2v1.4h-2zM346.5 231.5h2v1.4h-2zM346.5 232.9h2v1.4h-2zM358.8 242h2v1.4h-2zM360.1 242.8h2v1.4h-2zM400.9 258.7h2v1.4h-2zM329 241.9h2v1.4h-2zM392.2 260.1h2v1.4h-2zM411.6 275.5h2v1.4h-2zM424.2 263.1h2v1.4h-2zM424.2 265.9h2v1.4h-2zM428.6 267h2v1.4h-2zM434.9 270.9h2v1.4h-2zM470.4 263.8h2v1.4h-2zM485 266h2v1.4h-2zM485 268.8h2v1.4h-2zM492.3 268h2v1.4h-2zM539.2 272.1h2v1.4h-2zM561.1 269.8h2v1.4h-2zM565.9 262.8h2v1.4h-2zM648 269.8h2v1.4h-2zM306.8 244.2h2v1.4h-2zM306.7 239.8h2v1.4h-2zM306.8 224.8h2v1.4h-2zM307.3 218.1h2v1.4h-2zM307.3 219.5h2v1.4h-2zM371.8 229.8h2v1.4h-2zM378.6 241.5h2v1.4h-2zM309.8 196.4h2v1.4h-2zM244.6 298.2h2v1.4h-2zM171.8 319.9h2v1.4h-2zM298 289.7h2v1.4h-2zM144.3 475.4h2v1.4h-2zM145.6 480.8h2v1.4h-2zM155 473.3h2v1.4h-2zM157.5 464.9h2v1.4h-2zM208.2 469.6h2v1.4h-2zM225.2 458.4h2v1.4h-2zM266.4 477.6h2v1.4h-2zM316.4 437.8h2v1.4h-2zM329 425.5h2v1.4h-2zM358.2 423.2h2v1.4h-2zM373.7 435.5h2v1.4h-2zM420.7 449.1h2v1.4h-2zM434.9 453.7h2v1.4h-2zM437.8 456.7h2v1.4h-2zM461.5 451.8h2v1.4h-2zM133.5 672h1.8v1.6h-1.8zM150.2 651.5h1.8v1.6h-1.8zM166.8 565.3h1.8v1.6h-1.8zM166.8 566.8h1.8v1.6h-1.8zM166.8 646.3h1.8v1.6h-1.8zM166.8 685.3h1.8v1.6h-1.8zM183.4 548.5h1.8v1.6h-1.8zM200.1 568.7h1.8v1.6h-1.8zM250 550.3h1.8v1.6h-1.8zM266.7 557.1h1.8v1.6h-1.8zM266.7 569.1h1.8v1.6h-1.8zM283.4 650.8h1.8v1.6h-1.8zM300 606.6h1.8v1.6h-1.8zM333.3 579h1.8v1.6h-1.8zM350 568.4h1.8v1.6h-1.8zM383.2 566.9h1.8v1.6h-1.8zM383.2 679.4h1.8v1.6h-1.8zM399.9 679.5h1.8v1.6h-1.8zM499.8 633.3h1.8v1.6h-1.8zM516.5 582h1.8v1.6h-1.8zM516.5 598.5h1.8v1.6h-1.8zM533.1 585.1h1.8v1.6h-1.8zM533.1 586.6h1.8v1.6h-1.8zM533.1 711.1h1.8v1.6h-1.8zM549.8 705h1.8v1.6h-1.8zM566.4 714.4h1.8v1.6h-1.8zM583 597.2h1.8v1.6h-1.8zM599.7 613.7h1.8v1.6h-1.8zM616.4 729.2h1.8v1.6h-1.8zM633 609.3h1.8v1.6h-1.8zM666.3 700.8h1.8v1.6h-1.8zM666.3 721.8h1.8v1.6h-1.8zM682.9 615.4h1.8v1.6h-1.8zM699.6 616.8h1.8v1.6h-1.8zM716.2 618.2h1.8v1.6h-1.8zM732.9 733.7h1.8v1.6h-1.8zM749.5 616.9h1.8v1.6h-1.8zM749.5 627.4h1.8v1.6h-1.8zM749.5 664.9h1.8v1.6h-1.8zM749.5 720.4h1.8v1.6h-1.8zM782.8 636.4h1.8v1.6h-1.8zM782.8 654.4h1.8v1.6h-1.8zM799.5 663.4h1.8v1.6h-1.8zM832.8 631.9h1.8v1.6h-1.8zM832.8 681.4h1.8v1.6h-1.8zM849.4 612.3h1.8v1.6h-1.8zM849.4 634.8h1.8v1.6h-1.8zM849.4 658.8h1.8v1.6h-1.8zM866.1 630.5h1.8v1.6h-1.8zM866.1 632h1.8v1.6h-1.8zM866.1 633.5h1.8v1.6h-1.8zM866.1 734h1.8v1.6h-1.8zM882.7 625.9h1.8v1.6h-1.8zM899.4 616.8h1.8v1.6h-1.8zM899.4 693.3h1.8v1.6h-1.8zM916 727.8h1.8v1.6h-1.8z"/>
<path fill="#8fff70" d="M147.7 278.3h2v1.4h-2zM143.4 297.7h2v1.4h-2zM147.8 287.6h2v1.4h-2zM146.9 286.5h2v1.4h-2zM153.6 282.4h2v1.4h-2zM140.8 315.3h2v1.4h-2zM144.6 289.4h2v1.4h-2zM144.8 295.2h2v1.4h-2zM140.4 314.3h2v1.4h-2zM142.1 291.8h2v1.4h-2zM151.3 283.5h2v1.4h-2zM154.3 272.6h2v1.4h-2zM149.2 274.1h2v1.4h-2zM139.8 303.2h2v1.4h-2zM531.9 267.4h2v1.4h-2zM306.6 238.6h2v1.4h-2zM180.5 463.3h2v1.4h-2zM191.6 464.7h2v1.4h-2zM211.1 462.4h2v1.4h-2zM214.5 449.3h2v1.4h-2zM227.5 461.6h2v1.4h-2zM263.1 475.9h2v1.4h-2zM296.2 471.1h2v1.4h-2zM312.1 455.6h2v1.4h-2zM341.6 417.2h2v1.4h-2zM364 425.7h2v1.4h-2zM414.3 455.6h2v1.4h-2zM133.5 558h1.8v1.6h-1.8zM133.5 664.5h1.8v1.6h-1.8zM150.2 552.5h1.8v1.6h-1.8zM166.8 628.3h1.8v1.6h-1.8zM166.8 647.8h1.8v1.6h-1.8zM166.8 677.8h1.8v1.6h-1.8zM200.1 660.2h1.8v1.6h-1.8zM216.8 615.8h1.8v1.6h-1.8zM233.4 629.8h1.8v1.6h-1.8zM250 556.3h1.8v1.6h-1.8zM316.6 613.5h1.8v1.6h-1.8zM316.6 678h1.8v1.6h-1.8zM333.3 586.5h1.8v1.6h-1.8zM383.2 664.4h1.8v1.6h-1.8zM399.9 670.5h1.8v1.6h-1.8zM433.2 594.1h1.8v1.6h-1.8zM433.2 676.6h1.8v1.6h-1.8zM433.2 682.6h1.8v1.6h-1.8zM433.2 684.1h1.8v1.6h-1.8zM466.5 689.9h1.8v1.6h-1.8zM483.1 600.2h1.8v1.6h-1.8zM499.8 627.3h1.8v1.6h-1.8zM516.5 586.5h1.8v1.6h-1.8zM516.5 600h1.8v1.6h-1.8zM533.1 597.1h1.8v1.6h-1.8zM549.8 660h1.8v1.6h-1.8zM566.4 621.4h1.8v1.6h-1.8zM566.4 631.9h1.8v1.6h-1.8zM583 673.7h1.8v1.6h-1.8zM599.7 615.2h1.8v1.6h-1.8zM616.4 720.2h1.8v1.6h-1.8zM649.6 645.2h1.8v1.6h-1.8zM649.6 697.7h1.8v1.6h-1.8zM716.2 661.7h1.8v1.6h-1.8zM732.9 612.2h1.8v1.6h-1.8zM732.9 613.7h1.8v1.6h-1.8zM749.5 648.4h1.8v1.6h-1.8zM749.5 655.9h1.8v1.6h-1.8zM766.2 720.2h1.8v1.6h-1.8zM782.8 627.4h1.8v1.6h-1.8zM782.8 628.9h1.8v1.6h-1.8zM782.8 630.4h1.8v1.6h-1.8zM782.8 642.4h1.8v1.6h-1.8zM816.1 618.3h1.8v1.6h-1.8zM816.1 651.3h1.8v1.6h-1.8zM816.1 652.8h1.8v1.6h-1.8zM832.8 655.9h1.8v1.6h-1.8zM832.8 690.4h1.8v1.6h-1.8zM849.4 618.3h1.8v1.6h-1.8zM849.4 727.8h1.8v1.6h-1.8zM866.1 677h1.8v1.6h-1.8zM882.7 712.9h1.8v1.6h-1.8zM899.4 645.3h1.8v1.6h-1.8zM899.4 652.8h1.8v1.6h-1.8zM899.4 709.8h1.8v1.6h-1.8zM899.4 711.3h1.8v1.6h-1.8zM916 720.3h1.8v1.6h-1.8z"/>
<path fill="#50ffaf" d="M148.4 290.5h2v1.4h-2zM141 309.3h2v1.4h-2zM138.2 305h2v1.4h-2zM148.3 284.3h2v1.4h-2zM154.9 278.8h2v1.4h-2zM148.8 271.4h2v1.4h-2zM148.8 271.4h2v1.4h-2zM152.3 265.1h2v1.4h-2zM139.1 300.8h2v1.4h-2zM143.2 283.4h2v1.4h-2zM140.7 293.7h2v1.4h-2zM152.4 263h2v1.4h-2zM148.5 283.2h2v1.4h-2zM591.2 270.5h2v1.4h-2zM621.3 270.8h2v1.4h-2zM627.2 270.2h2v1.4h-2zM664.7 270.3h2v1.4h-2zM307.4 216.7h2v1.4h-2zM348.4 196.4h2v1.4h-2zM460.2 252.2h2v1.4h-2zM245.5 294.1h2v1.4h-2zM250.9 292.7h2v1.4h-2zM158.2 297.9h2v1.4h-2zM298 291.2h2v1.4h-2zM174.7 490h2v1.4h-2zM174.8 484.5h2v1.4h-2zM175.7 471h2v1.4h-2zM186 467.8h2v1.4h-2zM204.8 465.1h2v1.4h-2zM210 468.1h2v1.4h-2zM213.9 452h2v1.4h-2zM259.2 469.8h2v1.4h-2zM275.1 468.7h2v1.4h-2zM294.5 469.8h2v1.4h-2zM306.8 466.7h2v1.4h-2zM338.7 417.9h2v1.4h-2zM353.3 424.8h2v1.4h-2zM356.5 423.9h2v1.4h-2zM377.3 440.6h2v1.4h-2zM385.9 444.9h2v1.4h-2zM395.7 449.2h2v1.4h-2zM448.5 445.3h2v1.4h-2zM515.6 451.9h2v1.4h-2zM133.5 661.5h1.8v1.6h-1.8zM166.8 560.8h1.8v1.6h-1.8zM166.8 680.8h1.8v1.6h-1.8zM183.4 559h1.8v1.6h-1.8zM183.4 578.5h1.8v1.6h-1.8zM200.1 561.2h1.8v1.6h-1.8zM216.8 668.3h1.8v1.6h-1.8zM233.4 557.8h1.8v1.6h-1.8zM250 554.8h1.8v1.6h-1.8zM250 643.3h1.8v1.6h-1.8zM300 623.1h1.8v1.6h-1.8zM300 674.1h1.8v1.6h-1.8zM300 681.6h1.8v1.6h-1.8zM350 574.4h1.8v1.6h-1.8zM350 685.4h1.8v1.6h-1.8zM350 688.4h1.8v1.6h-1.8zM383.2 569.9h1.8v1.6h-1.8zM383.2 571.4h1.8v1.6h-1.8zM383.2 572.9h1.8v1.6h-1.8zM416.5 667.7h1.8v1.6h-1.8zM433.2 645.1h1.8v1.6h-1.8zM466.5 577.4h1.8v1.6h-1.8zM466.5 694.4h1.8v1.6h-1.8zM483.1 609.2h1.8v1.6h-1.8zM483.1 672.2h1.8v1.6h-1.8zM499.8 618.3h1.8v1.6h-1.8zM499.8 711.3h1.8v1.6h-1.8zM533.1 594.1h1.8v1.6h-1.8zM549.8 699h1.8v1.6h-1.8zM566.4 651.4h1.8v1.6h-1.8zM566.4 711.4h1.8v1.6h-1.8zM583 603.2h1.8v1.6h-1.8zM583 702.2h1.8v1.6h-1.8zM583 703.7h1.8v1.6h-1.8zM583 705.2h1.8v1.6h-1.8zM599.7 607.7h1.8v1.6h-1.8zM599.7 666.2h1.8v1.6h-1.8zM599.7 699.2h1.8v1.6h-1.8zM649.6 664.7h1.8v1.6h-1.8zM666.3 687.3h1.8v1.6h-1.8zM666.3 706.8h1.8v1.6h-1.8zM682.9 645.4h1.8v1.6h-1.8zM682.9 705.4h1.8v1.6h-1.8zM716.2 712.7h1.8v1.6h-1.8zM732.9 649.7h1.8v1.6h-1.8zM732.9 669.2h1.8v1.6h-1.8zM732.9 694.7h1.8v1.6h-1.8zM732.9 727.7h1.8v1.6h-1.8zM766.2 630.2h1.8v1.6h-1.8zM782.8 624.4h1.8v1.6h-1.8zM782.8 634.9h1.8v1.6h-1.8zM782.8 658.9h1.8v1.6h-1.8zM816.1 615.3h1.8v1.6h-1.8zM832.8 715.9h1.8v1.6h-1.8zM849.4 633.3h1.8v1.6h-1.8zM849.4 730.8h1.8v1.6h-1.8zM866.1 728h1.8v1.6h-1.8zM899.4 691.8h1.8v1.6h-1.8zM916 723.3h1.8v1.6h-1.8z"/>
<path fill="#008fff" d="M139.7 309.6h2v1.4h-2zM138.3 306.9h2v1.4h-2zM151.9 276.4h2v1.4h-2zM148.8 276.5h2v1.4h-2zM141 309.6h2v1.4h-2zM138.7 336.6h2v1.4h-2zM145.4 334.5h2v1.4h-2zM148.6 324.4h2v1.4h-2zM162.4 283.7h2v1.4h-2zM174 281.5h2v1.4h-2zM214.9 265.1h2v1.4h-2zM286 281.4h2v1.4h-2zM307.2 259.5h2v1.4h-2zM313.1 257.5h2v1.4h-2zM310.7 255.4h2v1.4h-2zM329.1 244.2h2v1.4h-2zM349.8 236.1h2v1.4h-2zM370.3 253.1h2v1.4h-2zM374.7 250.6h2v1.4h-2zM373.9 255.6h2v1.4h-2zM416.5 268.2h2v1.4h-2zM331 243.3h2v1.4h-2zM427.7 268.6h2v1.4h-2zM459 267.1h2v1.4h-2zM503.9 268.7h2v1.4h-2zM518.4 265h2v1.4h-2zM540.7 272.7h2v1.4h-2zM594.3 271.1h2v1.4h-2zM600.5 271.3h2v1.4h-2zM608.2 269.9h2v1.4h-2zM609.7 269.6h2v1.4h-2zM612.6 271h2v1.4h-2zM616.9 270.3h2v1.4h-2zM644.8 270.7h2v1.4h-2zM661.6 270.9h2v1.4h-2zM668 270.1h2v1.4h-2zM688.6 273h2v1.4h-2zM321.7 217.5h2v1.4h-2zM385.9 239.9h2v1.4h-2zM400.9 248.3h2v1.4h-2zM248.7 300.9h2v1.4h-2zM242.8 297.7h2v1.4h-2zM241.9 299.9h2v1.4h-2zM172.1 332.1h2v1.4h-2zM158.9 318.3h2v1.4h-2zM148.5 329.9h2v1.4h-2zM154.3 477.1h2v1.4h-2zM152.3 474.3h2v1.4h-2zM154.7 474.4h2v1.4h-2zM157.4 472.8h2v1.4h-2zM172.7 493.8h2v1.4h-2zM176.3 466.6h2v1.4h-2zM278.7 469.4h2v1.4h-2zM521.4 454.5h2v1.4h-2zM548.4 451.9h2v1.4h-2zM138.7 486.5h2v1.4h-2zM133.5 550.5h1.8v1.6h-1.8zM133.5 655.5h1.8v1.6h-1.8zM150.2 545h1.8v1.6h-1.8zM150.2 653h1.8v1.6h-1.8zM166.8 553.3h1.8v1.6h-1.8zM183.4 557.5h1.8v1.6h-1.8zM183.4 682h1.8v1.6h-1.8zM200.1 556.7h1.8v1.6h-1.8zM216.8 675.8h1.8v1.6h-1.8zM266.7 572.1h1.8v1.6h-1.8zM283.4 685.3h1.8v1.6h-1.8zM283.4 686.8h1.8v1.6h-1.8zM300 621.6h1.8v1.6h-1.8zM316.6 588h1.8v1.6h-1.8zM316.6 685.5h1.8v1.6h-1.8zM333.3 691.5h1.8v1.6h-1.8zM350 677.9h1.8v1.6h-1.8zM366.6 569.9h1.8v1.6h-1.8zM366.6 571.4h1.8v1.6h-1.8zM383.2 668.9h1.8v1.6h-1.8zM416.5 628.7h1.8v1.6h-1.8zM416.5 705.2h1.8v1.6h-1.8zM433.2 691.6h1.8v1.6h-1.8zM449.9 703.6h1.8v1.6h-1.8zM466.5 569.9h1.8v1.6h-1.8zM483.1 636.2h1.8v1.6h-1.8zM499.8 630.3h1.8v1.6h-1.8zM499.8 717.3h1.8v1.6h-1.8zM516.5 717h1.8v1.6h-1.8zM533.1 712.6h1.8v1.6h-1.8zM566.4 675.4h1.8v1.6h-1.8zM566.4 715.9h1.8v1.6h-1.8zM583 595.7h1.8v1.6h-1.8zM616.4 660.2h1.8v1.6h-1.8zM616.4 730.7h1.8v1.6h-1.8zM616.4 732.2h1.8v1.6h-1.8zM633 613.8h1.8v1.6h-1.8zM633 615.3h1.8v1.6h-1.8zM633 639.3h1.8v1.6h-1.8zM633 717.3h1.8v1.6h-1.8zM633 718.8h1.8v1.6h-1.8zM649.6 708.2h1.8v1.6h-1.8zM649.6 717.2h1.8v1.6h-1.8zM716.2 717.2h1.8v1.6h-1.8zM749.5 615.4h1.8v1.6h-1.8zM766.2 604.7h1.8v1.6h-1.8zM782.8 616.9h1.8v1.6h-1.8zM799.5 667.9h1.8v1.6h-1.8zM799.5 676.9h1.8v1.6h-1.8zM816.1 609.3h1.8v1.6h-1.8zM816.1 666.3h1.8v1.6h-1.8zM849.4 610.8h1.8v1.6h-1.8zM849.4 736.8h1.8v1.6h-1.8zM866.1 735.5h1.8v1.6h-1.8zM899.4 699.3h1.8v1.6h-1.8zM916 681.3h1.8v1.6h-1.8zM916 705.3h1.8v1.6h-1.8z"/>
<path fill="#ffcf00" d="M152.5 275.8h2v1.4h-2zM138.8 303.2h2v1.4h-2zM141.1 309.1h2v1.4h-2zM148.8 280.2h2v1.4h-2zM144.3 307.2h2v1.4h-2zM154.3 270.1h2v1.4h-2zM145.6 290.4h2v1.4h-2zM141.6 297.4h2v1.4h-2zM152.3 285.1h2v1.4h-2zM148.1 282.7h2v1.4h-2zM150.8 275.3h2v1.4h-2zM140.1 315.1h2v1.4h-2zM140.2 298.2h2v1.4h-2zM149.3 281.4h2v1.4h-2zM147.3 286h2v1.4h-2zM148.4 278.8h2v1.4h-2zM142.8 302.6h2v1.4h-2zM151.8 284.2h2v1.4h-2zM147 295.8h2v1.4h-2zM170.8 281.6h2v1.4h-2zM188.3 277h2v1.4h-2zM199 279.7h2v1.4h-2zM202.5 285.7h2v1.4h-2zM243 285.1h2v1.4h-2zM245.6 285.7h2v1.4h-2zM252.4 283.6h2v1.4h-2zM260.5 288.2h2v1.4h-2zM301.3 282.4h2v1.4h-2zM303 273.7h2v1.4h-2zM303.4 267.9h2v1.4h-2zM314 254.2h2v1.4h-2zM315.3 250.9h2v1.4h-2zM329 242.3h2v1.4h-2zM406.5 265.9h2v1.4h-2zM407.6 268.4h2v1.4h-2zM411.6 274.1h2v1.4h-2zM540.7 274.1h2v1.4h-2zM546.7 268.4h2v1.4h-2zM571 268.8h2v1.4h-2zM306.6 228.9h2v1.4h-2zM307.1 221.7h2v1.4h-2zM297.9 294.7h2v1.4h-2zM133.5 565.5h1.8v1.6h-1.8zM133.5 567h1.8v1.6h-1.8zM133.5 631.5h1.8v1.6h-1.8zM150.2 557h1.8v1.6h-1.8zM183.4 581.5h1.8v1.6h-1.8zM183.4 662.5h1.8v1.6h-1.8zM216.8 579.8h1.8v1.6h-1.8zM233.4 643.3h1.8v1.6h-1.8zM233.4 647.8h1.8v1.6h-1.8zM283.4 584.8h1.8v1.6h-1.8zM300 573.6h1.8v1.6h-1.8zM316.6 672h1.8v1.6h-1.8zM350 673.4h1.8v1.6h-1.8zM366.6 584.9h1.8v1.6h-1.8zM399.9 636h1.8v1.6h-1.8zM433.2 601.6h1.8v1.6h-1.8zM433.2 616.6h1.8v1.6h-1.8zM449.9 687.1h1.8v1.6h-1.8zM449.9 688.6h1.8v1.6h-1.8zM466.5 593.9h1.8v1.6h-1.8zM466.5 682.4h1.8v1.6h-1.8zM483.1 670.7h1.8v1.6h-1.8zM533.1 694.6h1.8v1.6h-1.8zM549.8 597h1.8v1.6h-1.8zM566.4 649.9h1.8v1.6h-1.8zM566.4 703.9h1.8v1.6h-1.8zM583 697.7h1.8v1.6h-1.8zM649.6 655.7h1.8v1.6h-1.8zM666.3 625.8h1.8v1.6h-1.8zM666.3 708.3h1.8v1.6h-1.8zM699.6 675.3h1.8v1.6h-1.8zM732.9 672.2h1.8v1.6h-1.8zM732.9 696.2h1.8v1.6h-1.8zM782.8 691.9h1.8v1.6h-1.8zM782.8 709.9h1.8v1.6h-1.8zM799.5 636.4h1.8v1.6h-1.8zM816.1 625.8h1.8v1.6h-1.8zM866.1 645.5h1.8v1.6h-1.8zM866.1 647h1.8v1.6h-1.8zM866.1 648.5h1.8v1.6h-1.8zM899.4 643.8h1.8v1.6h-1.8zM916 631.8h1.8v1.6h-1.8z"/>
<path fill="#00efff" d="M143 281.7h2v1.4h-2zM151.7 299.5h2v1.4h-2zM157.4 270.3h2v1.4h-2zM160.4 285.1h2v1.4h-2zM169.8 295.2h2v1.4h-2zM205.8 286.1h2v1.4h-2zM181.5 280.3h2v1.4h-2zM209.3 261.4h2v1.4h-2zM215.5 267.1h2v1.4h-2zM225.4 277.7h2v1.4h-2zM248.2 286.6h2v1.4h-2zM291.3 281h2v1.4h-2zM299.6 285.1h2v1.4h-2zM326 244.1h2v1.4h-2zM228.6 283.8h2v1.4h-2zM245.6 286.1h2v1.4h-2zM301 283.2h2v1.4h-2zM329 240.5h2v1.4h-2zM334.8 239.3h2v1.4h-2zM337.7 237.1h2v1.4h-2zM347.8 233.1h2v1.4h-2zM347.8 234.5h2v1.4h-2zM375.2 256.3h2v1.4h-2zM395.8 264.2h2v1.4h-2zM407.6 269.8h2v1.4h-2zM380.8 258.8h2v1.4h-2zM382.4 261.3h2v1.4h-2zM406.7 265.7h2v1.4h-2zM419.9 262.2h2v1.4h-2zM424.2 264.5h2v1.4h-2zM425.7 265.8h2v1.4h-2zM454.6 265.8h2v1.4h-2zM459.9 263.2h2v1.4h-2zM461.5 264.9h2v1.4h-2zM467.5 265.3h2v1.4h-2zM468.9 264.4h2v1.4h-2zM489.3 266.9h2v1.4h-2zM490.8 267.8h2v1.4h-2zM497.1 267.6h2v1.4h-2zM503.9 265.9h2v1.4h-2zM505.5 266.5h2v1.4h-2zM603.6 270.2h2v1.4h-2zM605.2 269.8h2v1.4h-2zM618.4 269.8h2v1.4h-2zM636.6 272.4h2v1.4h-2zM646.4 270.4h2v1.4h-2zM653.9 272.1h2v1.4h-2zM324.3 213.4h2v1.4h-2zM329 210.1h2v1.4h-2zM330.6 210.2h2v1.4h-2zM339 205.5h2v1.4h-2zM361.6 211.5h2v1.4h-2zM364.5 213.6h2v1.4h-2zM393.1 246.4h2v1.4h-2zM400.5 254.1h2v1.4h-2zM251.7 296.7h2v1.4h-2zM250.3 300.5h2v1.4h-2zM243.8 303.4h2v1.4h-2zM268 324.1h2v1.4h-2zM156.3 329.7h2v1.4h-2zM154.7 318.8h2v1.4h-2zM149 324.3h2v1.4h-2zM145.6 475.1h2v1.4h-2zM145.4 477.4h2v1.4h-2zM174.8 487.1h2v1.4h-2zM176.6 464.9h2v1.4h-2zM195.1 458.8h2v1.4h-2zM212.6 455.1h2v1.4h-2zM213.2 453.1h2v1.4h-2zM218.4 448.8h2v1.4h-2zM222.3 452.3h2v1.4h-2zM230.1 465.2h2v1.4h-2zM276.7 468h2v1.4h-2zM412.1 457.3h2v1.4h-2zM416.7 449.6h2v1.4h-2zM428.1 454.4h2v1.4h-2zM450.2 446.9h2v1.4h-2zM498.1 454.6h2v1.4h-2zM133.5 552h1.8v1.6h-1.8zM133.5 669h1.8v1.6h-1.8zM166.8 568.3h1.8v1.6h-1.8zM166.8 619.3h1.8v1.6h-1.8zM166.8 620.8h1.8v1.6h-1.8zM166.8 683.8h1.8v1.6h-1.8zM183.4 550h1.8v1.6h-1.8zM183.4 650.5h1.8v1.6h-1.8zM183.4 677.5h1.8v1.6h-1.8zM183.4 679h1.8v1.6h-1.8zM200.1 588.2h1.8v1.6h-1.8zM200.1 667.7h1.8v1.6h-1.8zM216.8 669.8h1.8v1.6h-1.8zM250 580.3h1.8v1.6h-1.8zM250 634.3h1.8v1.6h-1.8zM283.4 680.8h1.8v1.6h-1.8zM300 560.1h1.8v1.6h-1.8zM333.3 658.5h1.8v1.6h-1.8zM350 683.9h1.8v1.6h-1.8zM350 691.4h1.8v1.6h-1.8zM366.6 674.9h1.8v1.6h-1.8zM366.6 685.4h1.8v1.6h-1.8zM366.6 686.9h1.8v1.6h-1.8zM366.6 689.9h1.8v1.6h-1.8zM383.2 620.9h1.8v1.6h-1.8zM399.9 667.5h1.8v1.6h-1.8zM416.5 595.7h1.8v1.6h-1.8zM416.5 669.2h1.8v1.6h-1.8zM433.2 589.6h1.8v1.6h-1.8zM466.5 695.9h1.8v1.6h-1.8zM499.8 615.3h1.8v1.6h-1.8zM499.8 714.3h1.8v1.6h-1.8zM516.5 594h1.8v1.6h-1.8zM549.8 702h1.8v1.6h-1.8zM583 619.7h1.8v1.6h-1.8zM599.7 609.2h1.8v1.6h-1.8zM649.6 618.2h1.8v1.6h-1.8zM649.6 714.2h1.8v1.6h-1.8zM666.3 609.3h1.8v1.6h-1.8zM666.3 699.3h1.8v1.6h-1.8zM666.3 723.3h1.8v1.6h-1.8zM682.9 660.4h1.8v1.6h-1.8zM699.6 612.3h1.8v1.6h-1.8zM699.6 681.3h1.8v1.6h-1.8zM699.6 682.8h1.8v1.6h-1.8zM699.6 703.8h1.8v1.6h-1.8zM699.6 705.3h1.8v1.6h-1.8zM716.2 603.2h1.8v1.6h-1.8zM716.2 604.7h1.8v1.6h-1.8zM716.2 610.7h1.8v1.6h-1.8zM716.2 654.2h1.8v1.6h-1.8zM716.2 663.2h1.8v1.6h-1.8zM732.9 607.7h1.8v1.6h-1.8zM732.9 700.7h1.8v1.6h-1.8zM749.5 619.9h1.8v1.6h-1.8zM749.5 714.4h1.8v1.6h-1.8zM749.5 715.9h1.8v1.6h-1.8zM782.8 723.4h1.8v1.6h-1.8zM799.5 727.9h1.8v1.6h-1.8zM816.1 654.3h1.8v1.6h-1.8zM816.1 714.3h1.8v1.6h-1.8zM832.8 688.9h1.8v1.6h-1.8zM849.4 642.3h1.8v1.6h-1.8zM866.1 635h1.8v1.6h-1.8zM866.1 675.5h1.8v1.6h-1.8zM866.1 731h1.8v1.6h-1.8zM882.7 628.9h1.8v1.6h-1.8zM899.4 679.8h1.8v1.6h-1.8zM899.4 702.3h1.8v1.6h-1.8zM899.4 714.3h1.8v1.6h-1.8zM916 613.8h1.8v1.6h-1.8z"/>
<path fill="#afff50" d="M145.7 292.2h2v1.4h-2zM142.3 291.2h2v1.4h-2zM159.5 279.4h2v1.4h-2zM353.3 204.5h2v1.4h-2zM386.7 237.6h2v1.4h-2zM403.8 263.8h2v1.4h-2zM248.2 294.2h2v1.4h-2zM251.2 293.7h2v1.4h-2zM251.5 295.4h2v1.4h-2zM249.2 299.2h2v1.4h-2zM145.7 481.9h2v1.4h-2zM143.7 469.1h2v1.4h-2zM150.4 480h2v1.4h-2zM155.4 471.4h2v1.4h-2zM150.2 554h1.8v1.6h-1.8zM166.8 625.3h1.8v1.6h-1.8zM183.4 671.5h1.8v1.6h-1.8zM266.7 657.6h1.8v1.6h-1.8zM283.4 560.8h1.8v1.6h-1.8zM333.3 670.5h1.8v1.6h-1.8zM350 577.4h1.8v1.6h-1.8zM366.6 580.4h1.8v1.6h-1.8zM366.6 581.9h1.8v1.6h-1.8zM366.6 679.4h1.8v1.6h-1.8zM399.9 600h1.8v1.6h-1.8zM399.9 672h1.8v1.6h-1.8zM399.9 673.5h1.8v1.6h-1.8zM433.2 675.1h1.8v1.6h-1.8zM466.5 580.4h1.8v1.6h-1.8zM466.5 686.9h1.8v1.6h-1.8zM483.1 615.2h1.8v1.6h-1.8zM499.8 621.3h1.8v1.6h-1.8zM499.8 687.3h1.8v1.6h-1.8zM533.1 658.6h1.8v1.6h-1.8zM566.4 630.4h1.8v1.6h-1.8zM583 609.2h1.8v1.6h-1.8zM583 625.7h1.8v1.6h-1.8zM599.7 693.2h1.8v1.6h-1.8zM616.4 615.2h1.8v1.6h-1.8zM616.4 664.7h1.8v1.6h-1.8zM616.4 711.2h1.8v1.6h-1.8zM633 699.3h1.8v1.6h-1.8zM649.6 652.7h1.8v1.6h-1.8zM666.3 615.3h1.8v1.6h-1.8zM666.3 715.8h1.8v1.6h-1.8zM682.9 625.9h1.8v1.6h-1.8zM699.6 676.8h1.8v1.6h-1.8zM699.6 685.8h1.8v1.6h-1.8zM716.2 705.2h1.8v1.6h-1.8zM732.9 670.7h1.8v1.6h-1.8zM766.2 718.7h1.8v1.6h-1.8zM799.5 714.4h1.8v1.6h-1.8zM816.1 622.8h1.8v1.6h-1.8zM816.1 706.8h1.8v1.6h-1.8zM832.8 643.9h1.8v1.6h-1.8zM849.4 724.8h1.8v1.6h-1.8zM849.4 726.3h1.8v1.6h-1.8zM866.1 725h1.8v1.6h-1.8zM916 703.8h1.8v1.6h-1.8z"/>
<path fill="#70ff8f" d="M137.5 298.2h2v1.4h-2zM152.7 271.3h2v1.4h-2zM148.3 274.6h2v1.4h-2zM168.8 309.3h2v1.4h-2zM169.2 304.7h2v1.4h-2zM169.9 290.4h2v1.4h-2zM182.8 281h2v1.4h-2zM201.3 283.8h2v1.4h-2zM205.8 287.5h2v1.4h-2zM183.4 282h2v1.4h-2zM207.1 279h2v1.4h-2zM207.1 266.1h2v1.4h-2zM207.1 262.6h2v1.4h-2zM221.9 272.6h2v1.4h-2zM223.1 276.5h2v1.4h-2zM228.9 282.9h2v1.4h-2zM252.4 285h2v1.4h-2zM268.5 283.8h2v1.4h-2zM269.9 284.8h2v1.4h-2zM284 284.2h2v1.4h-2zM296.8 285.4h2v1.4h-2zM301.3 283.8h2v1.4h-2zM301.6 280.3h2v1.4h-2zM318.2 249.7h2v1.4h-2zM218.4 270.1h2v1.4h-2zM230.1 283.3h2v1.4h-2zM253.4 285.7h2v1.4h-2zM303.6 264.9h2v1.4h-2zM331.9 240.4h2v1.4h-2zM336.3 238.6h2v1.4h-2zM339.2 235.7h2v1.4h-2zM340.7 234.1h2v1.4h-2zM342.1 233.1h2v1.4h-2zM386.1 257.1h2v1.4h-2zM388.9 255.4h2v1.4h-2zM390.5 256.9h2v1.4h-2zM395.8 262.8h2v1.4h-2zM401.9 258.5h2v1.4h-2zM405.4 262.1h2v1.4h-2zM419.9 263.6h2v1.4h-2zM421.3 263.3h2v1.4h-2zM422.8 265.2h2v1.4h-2zM431.7 269.2h2v1.4h-2zM441.4 267h2v1.4h-2zM444.6 261.6h2v1.4h-2zM447.9 264.1h2v1.4h-2zM454.6 267.2h2v1.4h-2zM464.6 264.2h2v1.4h-2zM476.2 269.8h2v1.4h-2zM485 267.4h2v1.4h-2zM492.3 269.4h2v1.4h-2zM494.2 268.8h2v1.4h-2zM512 268.2h2v1.4h-2zM515.6 268.7h2v1.4h-2zM529 265h2v1.4h-2zM588.1 270.5h2v1.4h-2zM628.6 270.3h2v1.4h-2zM332.1 210.5h2v1.4h-2zM333.7 210.8h2v1.4h-2zM349.4 198.5h2v1.4h-2zM351.4 201.7h2v1.4h-2zM287.4 258h2v1.4h-2zM242.9 302.8h2v1.4h-2zM206.7 299.8h2v1.4h-2zM148.8 321.8h2v1.4h-2zM155.6 320.5h2v1.4h-2zM141.5 469.9h2v1.4h-2zM144.2 474.5h2v1.4h-2zM152.3 478.2h2v1.4h-2zM170.8 498.4h2v1.4h-2zM174.9 479.8h2v1.4h-2zM238.2 465.5h2v1.4h-2zM243.7 468.5h2v1.4h-2zM270.9 473.1h2v1.4h-2zM312.9 453.5h2v1.4h-2zM315.3 441h2v1.4h-2zM324.8 426.5h2v1.4h-2zM347.1 419.9h2v1.4h-2zM384.2 446.2h2v1.4h-2zM409.3 454.9h2v1.4h-2zM415.9 451.8h2v1.4h-2zM439.8 456.5h2v1.4h-2zM441.7 457.3h2v1.4h-2zM465.7 449.6h2v1.4h-2zM475.4 453.1h2v1.4h-2zM133.5 555h1.8v1.6h-1.8zM150.2 638h1.8v1.6h-1.8zM150.2 647h1.8v1.6h-1.8zM166.8 559.3h1.8v1.6h-1.8zM166.8 571.3h1.8v1.6h-1.8zM166.8 679.3h1.8v1.6h-1.8zM200.1 664.7h1.8v1.6h-1.8zM216.8 617.3h1.8v1.6h-1.8zM233.4 560.8h1.8v1.6h-1.8zM233.4 631.3h1.8v1.6h-1.8zM266.7 563.1h1.8v1.6h-1.8zM266.7 659.1h1.8v1.6h-1.8zM283.4 559.3h1.8v1.6h-1.8zM333.3 582h1.8v1.6h-1.8zM350 580.4h1.8v1.6h-1.8zM350 583.4h1.8v1.6h-1.8zM383.2 617.9h1.8v1.6h-1.8zM383.2 622.4h1.8v1.6h-1.8zM399.9 577.5h1.8v1.6h-1.8zM399.9 669h1.8v1.6h-1.8zM416.5 601.7h1.8v1.6h-1.8zM433.2 643.6h1.8v1.6h-1.8zM449.9 592.6h1.8v1.6h-1.8zM449.9 696.1h1.8v1.6h-1.8zM466.5 688.4h1.8v1.6h-1.8zM483.1 598.7h1.8v1.6h-1.8zM499.8 619.8h1.8v1.6h-1.8zM499.8 634.8h1.8v1.6h-1.8zM499.8 709.8h1.8v1.6h-1.8zM516.5 589.5h1.8v1.6h-1.8zM516.5 706.5h1.8v1.6h-1.8zM533.1 628.6h1.8v1.6h-1.8zM583 600.2h1.8v1.6h-1.8zM583 624.2h1.8v1.6h-1.8zM583 631.7h1.8v1.6h-1.8zM583 664.7h1.8v1.6h-1.8zM599.7 694.7h1.8v1.6h-1.8zM599.7 696.2h1.8v1.6h-1.8zM599.7 697.7h1.8v1.6h-1.8zM616.4 657.2h1.8v1.6h-1.8zM633 625.8h1.8v1.6h-1.8zM633 637.8h1.8v1.6h-1.8zM633 643.8h1.8v1.6h-1.8zM649.6 610.7h1.8v1.6h-1.8zM666.3 612.3h1.8v1.6h-1.8zM699.6 700.8h1.8v1.6h-1.8zM716.2 709.7h1.8v1.6h-1.8zM766.2 721.7h1.8v1.6h-1.8zM782.8 625.9h1.8v1.6h-1.8zM782.8 717.4h1.8v1.6h-1.8zM816.1 667.8h1.8v1.6h-1.8zM832.8 663.4h1.8v1.6h-1.8zM849.4 729.3h1.8v1.6h-1.8zM899.4 622.8h1.8v1.6h-1.8zM899.4 705.3h1.8v1.6h-1.8zM916 721.8h1.8v1.6h-1.8z"/>
<path fill="#0070ff" d="M138 327.4h2v1.4h-2zM177.6 274.3h2v1.4h-2zM203.3 286.7h2v1.4h-2zM248.2 289.4h2v1.4h-2zM300.1 276.7h2v1.4h-2zM305.9 257.6h2v1.4h-2zM333.4 242.5h2v1.4h-2zM402.9 255.9h2v1.4h-2zM409.4 264.5h2v1.4h-2zM449.9 265.5h2v1.4h-2zM485.9 270.7h2v1.4h-2zM567.9 264.2h2v1.4h-2zM586.5 270h2v1.4h-2zM602.1 270.6h2v1.4h-2zM606.7 269.1h2v1.4h-2zM615.5 270.5h2v1.4h-2zM649.5 269.7h2v1.4h-2zM707.5 273.1h2v1.4h-2zM720.3 272.6h2v1.4h-2zM723.4 272.2h2v1.4h-2zM320.4 221.8h2v1.4h-2zM284.5 262.9h2v1.4h-2zM299.7 304.6h2v1.4h-2zM162.1 463.9h2v1.4h-2zM172.7 489.7h2v1.4h-2zM177.7 472.4h2v1.4h-2zM185.6 470.4h2v1.4h-2zM212.6 456.5h2v1.4h-2zM246.6 471.4h2v1.4h-2zM484.2 453.6h2v1.4h-2zM511.7 453.6h2v1.4h-2zM353.3 392.2h2v1.4h-2zM381.5 430.1h2v1.4h-2zM312.7 398h2v1.4h-2zM316.6 482.6h2v1.4h-2zM316.6 488.4h2v1.4h-2zM133.5 658.5h1.8v1.6h-1.8zM150.2 654.5h1.8v1.6h-1.8zM166.8 551.8h1.8v1.6h-1.8zM216.8 569.3h1.8v1.6h-1.8zM233.4 548.8h1.8v1.6h-1.8zM233.4 661.3h1.8v1.6h-1.8zM266.7 612.6h1.8v1.6h-1.8zM283.4 581.8h1.8v1.6h-1.8zM300 675.6h1.8v1.6h-1.8zM350 565.4h1.8v1.6h-1.8zM383.2 565.4h1.8v1.6h-1.8zM399.9 681h1.8v1.6h-1.8zM449.9 588.1h1.8v1.6h-1.8zM466.5 601.4h1.8v1.6h-1.8zM499.8 718.8h1.8v1.6h-1.8zM516.5 580.5h1.8v1.6h-1.8zM533.1 582.1h1.8v1.6h-1.8zM533.1 714.1h1.8v1.6h-1.8zM549.8 655.5h1.8v1.6h-1.8zM549.8 708h1.8v1.6h-1.8zM583 618.2h1.8v1.6h-1.8zM583 633.2h1.8v1.6h-1.8zM583 711.2h1.8v1.6h-1.8zM599.7 598.7h1.8v1.6h-1.8zM599.7 610.7h1.8v1.6h-1.8zM599.7 673.7h1.8v1.6h-1.8zM616.4 598.7h1.8v1.6h-1.8zM649.6 600.2h1.8v1.6h-1.8zM649.6 718.7h1.8v1.6h-1.8zM666.3 736.8h1.8v1.6h-1.8zM682.9 661.9h1.8v1.6h-1.8zM682.9 724.9h1.8v1.6h-1.8zM682.9 727.9h1.8v1.6h-1.8zM699.6 609.3h1.8v1.6h-1.8zM732.9 652.7h1.8v1.6h-1.8zM749.5 613.9h1.8v1.6h-1.8zM749.5 630.4h1.8v1.6h-1.8zM766.2 609.2h1.8v1.6h-1.8zM766.2 667.7h1.8v1.6h-1.8zM766.2 732.2h1.8v1.6h-1.8zM799.5 733.9h1.8v1.6h-1.8zM816.1 648.3h1.8v1.6h-1.8zM849.4 663.3h1.8v1.6h-1.8zM866.1 713h1.8v1.6h-1.8zM866.1 737h1.8v1.6h-1.8zM899.4 663.3h1.8v1.6h-1.8zM899.4 720.3h1.8v1.6h-1.8zM916 610.8h1.8v1.6h-1.8z"/>
<path fill="#0030ff" d="M142.9 320.4h2v1.4h-2zM146.8 326.1h2v1.4h-2zM144 327.4h2v1.4h-2zM146.4 333h2v1.4h-2zM140 328.4h2v1.4h-2zM139.4 330.3h2v1.4h-2zM182.8 282.4h2v1.4h-2zM199 278.3h2v1.4h-2zM207.1 277.4h2v1.4h-2zM205.1 280.4h2v1.4h-2zM205.1 268.9h2v1.4h-2zM218.4 266h2v1.4h-2zM296.1 289.8h2v1.4h-2zM232.1 281.9h2v1.4h-2zM268.9 282.9h2v1.4h-2zM301.6 262.1h2v1.4h-2zM401.9 264.9h2v1.4h-2zM411.4 267.5h2v1.4h-2zM415.9 264.7h2v1.4h-2zM342.7 235h2v1.4h-2zM350.3 239.7h2v1.4h-2zM366 239h2v1.4h-2zM390.5 260.2h2v1.4h-2zM424.2 261.7h2v1.4h-2zM453.4 270h2v1.4h-2zM470.4 268h2v1.4h-2zM469.9 262.8h2v1.4h-2zM495.1 266.2h2v1.4h-2zM498 263.6h2v1.4h-2zM506.8 271.1h2v1.4h-2zM534.3 267.4h2v1.4h-2zM732.9 273h2v1.4h-2zM360.6 212.3h2v1.4h-2zM204.8 462.3h2v1.4h-2zM211.8 457.2h2v1.4h-2zM234.9 469.2h2v1.4h-2zM311.3 459.8h2v1.4h-2zM530 451.1h2v1.4h-2zM366.9 397.1h2v1.4h-2zM133.5 547.5h1.8v1.6h-1.8zM150.2 656h1.8v1.6h-1.8zM183.4 539.5h1.8v1.6h-1.8zM183.4 541h1.8v1.6h-1.8zM200.1 552.2h1.8v1.6h-1.8zM200.1 553.7h1.8v1.6h-1.8zM200.1 555.2h1.8v1.6h-1.8zM216.8 677.3h1.8v1.6h-1.8zM233.4 547.3h1.8v1.6h-1.8zM233.4 590.8h1.8v1.6h-1.8zM233.4 662.8h1.8v1.6h-1.8zM250 650.8h1.8v1.6h-1.8zM266.7 669.6h1.8v1.6h-1.8zM283.4 580.3h1.8v1.6h-1.8zM300 692.1h1.8v1.6h-1.8zM316.6 690h1.8v1.6h-1.8zM316.6 691.5h1.8v1.6h-1.8zM333.3 685.5h1.8v1.6h-1.8zM350 562.4h1.8v1.6h-1.8zM366.6 568.4h1.8v1.6h-1.8zM383.2 589.4h1.8v1.6h-1.8zM416.5 589.7h1.8v1.6h-1.8zM416.5 708.2h1.8v1.6h-1.8zM433.2 694.6h1.8v1.6h-1.8zM466.5 701.9h1.8v1.6h-1.8zM516.5 718.5h1.8v1.6h-1.8zM549.8 577.5h1.8v1.6h-1.8zM549.8 648h1.8v1.6h-1.8zM549.8 709.5h1.8v1.6h-1.8zM566.4 610.9h1.8v1.6h-1.8zM566.4 658.9h1.8v1.6h-1.8zM583 615.2h1.8v1.6h-1.8zM583 714.2h1.8v1.6h-1.8zM616.4 624.2h1.8v1.6h-1.8zM616.4 735.2h1.8v1.6h-1.8zM633 606.3h1.8v1.6h-1.8zM649.6 648.2h1.8v1.6h-1.8zM649.6 702.2h1.8v1.6h-1.8zM666.3 702.3h1.8v1.6h-1.8zM666.3 738.3h1.8v1.6h-1.8zM699.6 718.8h1.8v1.6h-1.8zM699.6 720.3h1.8v1.6h-1.8zM699.6 721.8h1.8v1.6h-1.8zM749.5 612.4h1.8v1.6h-1.8zM749.5 711.4h1.8v1.6h-1.8zM766.2 735.2h1.8v1.6h-1.8zM782.8 700.9h1.8v1.6h-1.8zM782.8 727.9h1.8v1.6h-1.8zM799.5 669.4h1.8v1.6h-1.8zM799.5 711.4h1.8v1.6h-1.8zM816.1 607.8h1.8v1.6h-1.8zM816.1 639.3h1.8v1.6h-1.8zM832.8 687.4h1.8v1.6h-1.8zM849.4 660.3h1.8v1.6h-1.8zM882.7 732.4h1.8v1.6h-1.8zM882.7 733.9h1.8v1.6h-1.8zM899.4 660.3h1.8v1.6h-1.8zM899.4 697.8h1.8v1.6h-1.8zM916 607.8h1.8v1.6h-1.8z"/>
<path fill="#0050ff" d="M137.6 328.4h2v1.4h-2zM167.9 291.8h2v1.4h-2zM170.1 279.9h2v1.4h-2zM199.3 286.6h2v1.4h-2zM200.5 287.1h2v1.4h-2zM177.6 277.3h2v1.4h-2zM181.4 283.4h2v1.4h-2zM207.1 269.4h2v1.4h-2zM209.1 266.1h2v1.4h-2zM212 263.7h2v1.4h-2zM227.7 282.4h2v1.4h-2zM243 286.5h2v1.4h-2zM312.6 251.8h2v1.4h-2zM239.8 282.1h2v1.4h-2zM485 271.6h2v1.4h-2zM500.1 268.2h2v1.4h-2zM501.1 267.6h2v1.4h-2zM691.9 272.6h2v1.4h-2zM709.1 273.3h2v1.4h-2zM715.6 273h2v1.4h-2zM777.6 274.9h2v1.4h-2zM304.4 233.2h2v1.4h-2zM348.4 193.6h2v1.4h-2zM199.9 463.2h2v1.4h-2zM207.7 468.8h2v1.4h-2zM210.4 464.8h2v1.4h-2zM236.5 462.5h2v1.4h-2zM239.7 465.2h2v1.4h-2zM259.8 472.6h2v1.4h-2zM305.9 468.2h2v1.4h-2zM304.8 463.9h2v1.4h-2zM133.5 675h1.8v1.6h-1.8zM133.5 676.5h1.8v1.6h-1.8zM133.5 678h1.8v1.6h-1.8zM166.8 689.8h1.8v1.6h-1.8zM200.1 673.7h1.8v1.6h-1.8zM250 547.3h1.8v1.6h-1.8zM250 637.3h1.8v1.6h-1.8zM266.7 668.1h1.8v1.6h-1.8zM283.4 548.8h1.8v1.6h-1.8zM300 557.1h1.8v1.6h-1.8zM300 617.1h1.8v1.6h-1.8zM300 620.1h1.8v1.6h-1.8zM316.6 591h1.8v1.6h-1.8zM333.3 573h1.8v1.6h-1.8zM333.3 574.5h1.8v1.6h-1.8zM333.3 576h1.8v1.6h-1.8zM333.3 681h1.8v1.6h-1.8zM350 563.9h1.8v1.6h-1.8zM350 680.9h1.8v1.6h-1.8zM366.6 695.9h1.8v1.6h-1.8zM383.2 562.4h1.8v1.6h-1.8zM399.9 570h1.8v1.6h-1.8zM433.2 583.6h1.8v1.6h-1.8zM433.2 585.1h1.8v1.6h-1.8zM433.2 586.6h1.8v1.6h-1.8zM449.9 585.1h1.8v1.6h-1.8zM483.1 589.7h1.8v1.6h-1.8zM483.1 696.2h1.8v1.6h-1.8zM499.8 631.8h1.8v1.6h-1.8zM499.8 720.3h1.8v1.6h-1.8zM516.5 595.5h1.8v1.6h-1.8zM583 712.7h1.8v1.6h-1.8zM616.4 627.2h1.8v1.6h-1.8zM633 607.8h1.8v1.6h-1.8zM633 714.3h1.8v1.6h-1.8zM649.6 661.7h1.8v1.6h-1.8zM649.6 720.2h1.8v1.6h-1.8zM666.3 601.8h1.8v1.6h-1.8zM682.9 612.4h1.8v1.6h-1.8zM682.9 613.9h1.8v1.6h-1.8zM732.9 600.2h1.8v1.6h-1.8zM732.9 693.2h1.8v1.6h-1.8zM766.2 603.2h1.8v1.6h-1.8zM766.2 628.7h1.8v1.6h-1.8zM766.2 736.7h1.8v1.6h-1.8zM799.5 622.9h1.8v1.6h-1.8zM799.5 672.4h1.8v1.6h-1.8zM799.5 681.4h1.8v1.6h-1.8zM799.5 735.4h1.8v1.6h-1.8zM849.4 640.8h1.8v1.6h-1.8zM882.7 717.4h1.8v1.6h-1.8zM882.7 727.9h1.8v1.6h-1.8zM899.4 658.8h1.8v1.6h-1.8zM899.4 694.8h1.8v1.6h-1.8zM916 609.3h1.8v1.6h-1.8z"/>
<path fill="#0010ff" d="M144.6 318.8h2v1.4h-2zM148.5 336.3h2v1.4h-2zM143.5 336.1h2v1.4h-2zM170.8 307.9h2v1.4h-2zM167.3 300.7h2v1.4h-2zM167.9 289.2h2v1.4h-2zM168 284.7h2v1.4h-2zM178.6 273.7h2v1.4h-2zM185.4 286.6h2v1.4h-2zM174.4 274.5h2v1.4h-2zM261.1 287.8h2v1.4h-2zM286.9 275.8h2v1.4h-2zM301 284.9h2v1.4h-2zM299.3 286.6h2v1.4h-2zM299.6 277.5h2v1.4h-2zM304.5 257.5h2v1.4h-2zM327.5 240.1h2v1.4h-2zM216.4 272.9h2v1.4h-2zM221.3 276.7h2v1.4h-2zM245.6 286.3h2v1.4h-2zM312.7 262h2v1.4h-2zM312.6 252.8h2v1.4h-2zM337.7 235.7h2v1.4h-2zM351.1 233.8h2v1.4h-2zM350.4 240.5h2v1.4h-2zM369.1 248.7h2v1.4h-2zM394.2 261.1h2v1.4h-2zM395.8 267h2v1.4h-2zM348.5 228.7h2v1.4h-2zM392.2 262.9h2v1.4h-2zM423.3 264.7h2v1.4h-2zM455.8 261.4h2v1.4h-2zM488.8 269.2h2v1.4h-2zM536.8 272.9h2v1.4h-2zM545.9 272.4h2v1.4h-2zM559.2 269.7h2v1.4h-2zM696.5 274.4h2v1.4h-2zM717.1 272.9h2v1.4h-2zM747.5 272.6h2v1.4h-2zM756.2 274.9h2v1.4h-2zM308.6 242.8h2v1.4h-2zM306.4 228.2h2v1.4h-2zM326.3 216.2h2v1.4h-2zM341 202.7h2v1.4h-2zM197.1 456h2v1.4h-2zM205.8 462h2v1.4h-2zM207.8 464.2h2v1.4h-2zM214.5 451h2v1.4h-2zM250.4 469.7h2v1.4h-2zM271.5 468.1h2v1.4h-2zM273.1 471.5h2v1.4h-2zM294.5 468.4h2v1.4h-2zM610.6 454.4h2v1.4h-2zM133.5 530.2h1.8v2.2h-1.8zM133.5 531.7h1.8v2.2h-1.8zM133.5 686.7h1.8v2.2h-1.8zM166.8 548.8h1.8v1.6h-1.8zM166.8 692.8h1.8v1.6h-1.8zM166.8 707h1.8v2.2h-1.8zM166.8 534.4h1.8v2.2h-1.8zM200.1 683.8h1.8v2.2h-1.8zM216.8 566.3h1.8v1.6h-1.8zM233.4 674.3h1.8v2.2h-1.8zM283.4 545.8h1.8v1.6h-1.8zM283.4 689.8h1.8v1.6h-1.8zM283.4 707.5h1.8v2.2h-1.8zM300 555.6h1.8v1.6h-1.8zM300 677.1h1.8v1.6h-1.8zM300 693.6h1.8v1.6h-1.8zM316.6 589.5h1.8v1.6h-1.8zM316.6 569h1.8v2.2h-1.8zM333.3 694.5h1.8v1.6h-1.8zM333.3 706.3h1.8v2.2h-1.8zM350 560.9h1.8v1.6h-1.8zM350 697.4h1.8v1.6h-1.8zM366.6 713.1h1.8v2.2h-1.8zM366.6 713.6h1.8v2.2h-1.8zM383.2 683.9h1.8v1.6h-1.8zM399.9 558.8h1.8v2.2h-1.8zM399.9 693.6h1.8v2.2h-1.8zM399.9 562.2h1.8v2.2h-1.8zM449.9 709.6h1.8v1.6h-1.8zM449.9 572.5h1.8v2.2h-1.8zM449.9 577.4h1.8v2.2h-1.8zM466.5 566.9h1.8v1.6h-1.8zM466.5 717.2h1.8v2.2h-1.8zM499.8 600.2h1.8v2.2h-1.8zM499.8 590.1h1.8v2.2h-1.8zM516.5 577.5h1.8v1.6h-1.8zM516.5 720h1.8v1.6h-1.8zM533.1 571.5h1.8v2.2h-1.8zM549.8 576h1.8v1.6h-1.8zM549.8 711h1.8v1.6h-1.8zM549.8 568.5h1.8v2.2h-1.8zM566.4 720.4h1.8v1.6h-1.8zM566.4 596.8h1.8v2.2h-1.8zM566.4 736.8h1.8v2.2h-1.8zM566.4 600.2h1.8v2.2h-1.8zM566.4 597.6h1.8v2.2h-1.8zM583 579.3h1.8v2.2h-1.8zM616.4 588.4h1.8v2.2h-1.8zM616.4 748.3h1.8v2.2h-1.8zM633 618.3h1.8v1.6h-1.8zM649.6 597.2h1.8v1.6h-1.8zM649.6 649.7h1.8v1.6h-1.8zM649.6 703.7h1.8v1.6h-1.8zM666.3 587.9h1.8v2.2h-1.8zM682.9 604.3h1.8v2.2h-1.8zM699.6 627.3h1.8v1.6h-1.8zM699.6 587.5h1.8v2.2h-1.8zM716.2 721.7h1.8v1.6h-1.8zM716.2 746.4h1.8v2.2h-1.8zM732.9 706.7h1.8v1.6h-1.8zM766.2 601.7h1.8v1.6h-1.8zM766.2 733.7h1.8v1.6h-1.8zM766.2 588.7h1.8v2.2h-1.8zM766.2 760.4h1.8v2.2h-1.8zM782.8 637.9h1.8v1.6h-1.8zM782.8 598.6h1.8v2.2h-1.8zM782.8 742.3h1.8v2.2h-1.8zM799.5 621.4h1.8v1.6h-1.8zM799.5 670.9h1.8v1.6h-1.8zM799.5 753.9h1.8v2.2h-1.8zM799.5 745.5h1.8v2.2h-1.8zM799.5 605h1.8v2.2h-1.8zM816.1 585.9h1.8v2.2h-1.8zM816.1 743.9h1.8v2.2h-1.8zM816.1 586.6h1.8v2.2h-1.8zM849.4 607.8h1.8v1.6h-1.8zM849.4 636.3h1.8v1.6h-1.8zM849.4 739.8h1.8v1.6h-1.8zM849.4 599.4h1.8v2.2h-1.8zM849.4 753.4h1.8v2.2h-1.8zM849.4 753.1h1.8v2.2h-1.8zM866.1 627.5h1.8v1.6h-1.8zM882.7 608.7h1.8v2.2h-1.8zM899.4 721.8h1.8v1.6h-1.8zM916 714.3h1.8v1.6h-1.8zM916 589.6h1.8v2.2h-1.8z"/>
<path fill="#0000ef" d="M148.3 327.3h2v1.4h-2zM146 330h2v1.4h-2zM205.1 265.5h2v1.4h-2zM234.4 282.7h2v1.4h-2zM237.4 282.5h2v1.4h-2zM257.9 290.3h2v1.4h-2zM359.4 244.9h2v1.4h-2zM396 263.1h2v1.4h-2zM377.6 260.9h2v1.4h-2zM417.9 259.4h2v1.4h-2zM438.2 267.7h2v1.4h-2zM442.6 264.4h2v1.4h-2zM521.4 266.2h2v1.4h-2zM559.1 270.1h2v1.4h-2zM563.5 268.8h2v1.4h-2zM575.5 270.9h2v1.4h-2zM710.7 273h2v1.4h-2zM308.7 223.5h2v1.4h-2zM305.1 223.1h2v1.4h-2zM174.7 492.4h2v1.4h-2zM194.4 465.8h2v1.4h-2zM211.5 463.2h2v1.4h-2zM257.3 468.4h2v1.4h-2zM542.6 456.9h2v1.4h-2zM150.4 486.5h2v1.4h-2zM133.5 543h1.8v1.6h-1.8zM133.5 679.5h1.8v1.6h-1.8zM166.8 541.3h1.8v2.2h-1.8zM183.4 695.2h1.8v2.2h-1.8zM216.8 693.8h1.8v2.2h-1.8zM233.4 665.8h1.8v1.6h-1.8zM233.4 681.4h1.8v2.2h-1.8zM250 652.3h1.8v1.6h-1.8zM250 531.5h1.8v2.2h-1.8zM266.7 537.8h1.8v2.2h-1.8zM283.4 544.3h1.8v1.6h-1.8zM283.4 700.1h1.8v2.2h-1.8zM300 537h1.8v2.2h-1.8zM300 710.9h1.8v2.2h-1.8zM316.6 574.5h1.8v1.6h-1.8zM316.6 693h1.8v1.6h-1.8zM316.6 710.8h1.8v2.2h-1.8zM316.6 703.2h1.8v2.2h-1.8zM333.3 713.8h1.8v2.2h-1.8zM333.3 554.2h1.8v2.2h-1.8zM333.3 717.4h1.8v2.2h-1.8zM350 717.6h1.8v2.2h-1.8zM383.2 559.4h1.8v1.6h-1.8zM383.2 543.8h1.8v2.2h-1.8zM383.2 697.2h1.8v2.2h-1.8zM399.9 666h1.8v1.6h-1.8zM399.9 707.2h1.8v2.2h-1.8zM433.2 696.1h1.8v1.6h-1.8zM433.2 719.7h1.8v2.2h-1.8zM449.9 580.6h1.8v1.6h-1.8zM466.5 703.4h1.8v1.6h-1.8zM466.5 558.3h1.8v2.2h-1.8zM466.5 546.7h1.8v2.2h-1.8zM466.5 723.7h1.8v2.2h-1.8zM483.1 637.7h1.8v1.6h-1.8zM483.1 699.2h1.8v1.6h-1.8zM483.1 581.7h1.8v2.2h-1.8zM483.1 712.4h1.8v2.2h-1.8zM499.8 742.3h1.8v2.2h-1.8zM499.8 602.1h1.8v2.2h-1.8zM516.5 573h1.8v1.6h-1.8zM516.5 574.5h1.8v1.6h-1.8zM516.5 721.5h1.8v1.6h-1.8zM516.5 723h1.8v1.6h-1.8zM516.5 724.5h1.8v1.6h-1.8zM549.8 666h1.8v1.6h-1.8zM549.8 712.5h1.8v1.6h-1.8zM549.8 567.7h1.8v2.2h-1.8zM549.8 559h1.8v2.2h-1.8zM583 634.7h1.8v1.6h-1.8zM599.7 589h1.8v2.2h-1.8zM616.4 580.6h1.8v2.2h-1.8zM649.6 705.2h1.8v1.6h-1.8zM649.6 741.8h1.8v2.2h-1.8zM649.6 744.7h1.8v2.2h-1.8zM666.3 696.3h1.8v1.6h-1.8zM666.3 750.9h1.8v2.2h-1.8zM666.3 761.6h1.8v2.2h-1.8zM682.9 663.4h1.8v1.6h-1.8zM682.9 664.9h1.8v1.6h-1.8zM716.2 634.7h1.8v1.6h-1.8zM716.2 636.2h1.8v1.6h-1.8zM716.2 655.7h1.8v1.6h-1.8zM716.2 723.2h1.8v1.6h-1.8zM732.9 742.7h1.8v1.6h-1.8zM732.9 586.3h1.8v2.2h-1.8zM732.9 750.4h1.8v2.2h-1.8zM749.5 610.9h1.8v1.6h-1.8zM749.5 700.9h1.8v1.6h-1.8zM749.5 601.3h1.8v2.2h-1.8zM749.5 740.5h1.8v2.2h-1.8zM766.2 597.2h1.8v1.6h-1.8zM766.2 619.7h1.8v1.6h-1.8zM766.2 738.2h1.8v1.6h-1.8zM766.2 750.8h1.8v2.2h-1.8zM766.2 592.7h1.8v2.2h-1.8zM766.2 586.4h1.8v2.2h-1.8zM766.2 752.2h1.8v2.2h-1.8zM782.8 639.4h1.8v1.6h-1.8zM799.5 678.4h1.8v1.6h-1.8zM799.5 614.3h1.8v2.2h-1.8zM816.1 595.4h1.8v2.2h-1.8zM816.1 735.8h1.8v2.2h-1.8zM832.8 618.4h1.8v1.6h-1.8zM832.8 619.9h1.8v1.6h-1.8zM832.8 603.4h1.8v2.2h-1.8zM849.4 639.3h1.8v1.6h-1.8zM849.4 597.6h1.8v2.2h-1.8zM866.1 622.3h1.8v2.2h-1.8zM882.7 726.4h1.8v1.6h-1.8zM882.7 736.9h1.8v1.6h-1.8zM899.4 612.3h1.8v1.6h-1.8zM899.4 664.8h1.8v1.6h-1.8zM899.4 736.9h1.8v2.2h-1.8zM916 743.4h1.8v2.2h-1.8z"/>
<path fill="#cf0000" d="M169 308.4h2v1.4h-2zM173.2 277.1h2v1.4h-2zM174.4 274.5h2v1.4h-2zM175.6 275.2h2v1.4h-2zM204.8 289.9h2v1.4h-2zM197.5 279.9h2v1.4h-2zM207.1 280.2h2v1.4h-2zM226.6 279.1h2v1.4h-2zM227.7 279.6h2v1.4h-2zM228.9 284.3h2v1.4h-2zM231.5 283.3h2v1.4h-2zM256.6 284.5h2v1.4h-2zM257.9 287.5h2v1.4h-2zM269.9 283.4h2v1.4h-2zM281.3 285.4h2v1.4h-2zM295.5 283.2h2v1.4h-2zM312.7 259.6h2v1.4h-2zM314 255.6h2v1.4h-2zM321.4 246h2v1.4h-2zM327.5 244.3h2v1.4h-2zM219.9 270.3h2v1.4h-2zM221.3 273.9h2v1.4h-2zM299.6 285.1h2v1.4h-2zM302.6 272.8h2v1.4h-2zM318.2 246.1h2v1.4h-2zM349.1 235.2h2v1.4h-2zM353.3 237.6h2v1.4h-2zM382.4 261.2h2v1.4h-2zM387.3 253.3h2v1.4h-2zM392.2 258.3h2v1.4h-2zM407 268.8h2v1.4h-2zM412.8 270.2h2v1.4h-2zM413.4 268.9h2v1.4h-2zM350.4 238h2v1.4h-2zM371.1 251.4h2v1.4h-2zM422.8 263.8h2v1.4h-2zM431.7 267.8h2v1.4h-2zM438.2 269.1h2v1.4h-2zM439.8 268.9h2v1.4h-2zM441.4 265.6h2v1.4h-2zM457 262.9h2v1.4h-2zM463.1 265.4h2v1.4h-2zM467.5 263.9h2v1.4h-2zM471.9 264.2h2v1.4h-2zM474.8 268.3h2v1.4h-2zM483.5 268h2v1.4h-2zM483.5 269.4h2v1.4h-2zM492.3 266.6h2v1.4h-2zM508.8 268.3h2v1.4h-2zM513.6 268.5h2v1.4h-2zM526.2 267.4h2v1.4h-2zM529 266.4h2v1.4h-2zM133.5 592.5h1.8v1.6h-1.8zM133.5 595.5h1.8v1.6h-1.8zM133.5 601.5h1.8v1.6h-1.8zM133.5 603h1.8v1.6h-1.8zM150.2 566h1.8v1.6h-1.8zM150.2 588.5h1.8v1.6h-1.8zM150.2 618.5h1.8v1.6h-1.8zM166.8 584.8h1.8v1.6h-1.8zM166.8 587.8h1.8v1.6h-1.8zM166.8 590.8h1.8v1.6h-1.8zM166.8 598.3h1.8v1.6h-1.8zM166.8 635.8h1.8v1.6h-1.8zM166.8 652.3h1.8v1.6h-1.8zM166.8 656.8h1.8v1.6h-1.8zM183.4 590.5h1.8v1.6h-1.8zM183.4 637h1.8v1.6h-1.8zM200.1 594.2h1.8v1.6h-1.8zM200.1 607.7h1.8v1.6h-1.8zM200.1 613.7h1.8v1.6h-1.8zM200.1 637.7h1.8v1.6h-1.8zM200.1 648.2h1.8v1.6h-1.8zM216.8 605.3h1.8v1.6h-1.8zM216.8 638.3h1.8v1.6h-1.8zM216.8 642.8h1.8v1.6h-1.8zM233.4 586.3h1.8v1.6h-1.8zM233.4 598.3h1.8v1.6h-1.8zM233.4 599.8h1.8v1.6h-1.8zM233.4 602.8h1.8v1.6h-1.8zM233.4 604.3h1.8v1.6h-1.8zM233.4 605.8h1.8v1.6h-1.8zM233.4 617.8h1.8v1.6h-1.8zM250 598.3h1.8v1.6h-1.8zM250 602.8h1.8v1.6h-1.8zM250 625.3h1.8v1.6h-1.8zM266.7 590.1h1.8v1.6h-1.8zM266.7 632.1h1.8v1.6h-1.8zM266.7 642.6h1.8v1.6h-1.8zM283.4 590.8h1.8v1.6h-1.8zM283.4 599.8h1.8v1.6h-1.8zM283.4 605.8h1.8v1.6h-1.8zM283.4 610.3h1.8v1.6h-1.8zM283.4 616.3h1.8v1.6h-1.8zM283.4 655.3h1.8v1.6h-1.8zM283.4 656.8h1.8v1.6h-1.8zM300 588.6h1.8v1.6h-1.8zM300 600.6h1.8v1.6h-1.8zM300 629.1h1.8v1.6h-1.8zM300 642.6h1.8v1.6h-1.8zM300 656.1h1.8v1.6h-1.8zM300 660.6h1.8v1.6h-1.8zM316.6 618h1.8v1.6h-1.8zM316.6 630h1.8v1.6h-1.8zM316.6 645h1.8v1.6h-1.8zM333.3 600h1.8v1.6h-1.8zM333.3 616.5h1.8v1.6h-1.8zM333.3 630h1.8v1.6h-1.8zM350 608.9h1.8v1.6h-1.8zM350 613.4h1.8v1.6h-1.8zM350 617.9h1.8v1.6h-1.8zM350 622.4h1.8v1.6h-1.8zM350 628.4h1.8v1.6h-1.8zM350 631.4h1.8v1.6h-1.8zM350 638.9h1.8v1.6h-1.8zM350 649.4h1.8v1.6h-1.8zM350 652.4h1.8v1.6h-1.8zM350 653.9h1.8v1.6h-1.8zM350 661.4h1.8v1.6h-1.8zM366.6 631.4h1.8v1.6h-1.8zM366.6 650.9h1.8v1.6h-1.8zM383.2 602.9h1.8v1.6h-1.8zM383.2 604.4h1.8v1.6h-1.8zM383.2 605.9h1.8v1.6h-1.8zM383.2 644.9h1.8v1.6h-1.8zM383.2 646.4h1.8v1.6h-1.8zM383.2 647.9h1.8v1.6h-1.8zM383.2 649.4h1.8v1.6h-1.8zM383.2 650.9h1.8v1.6h-1.8zM399.9 618h1.8v1.6h-1.8zM399.9 621h1.8v1.6h-1.8zM416.5 619.7h1.8v1.6h-1.8zM416.5 622.7h1.8v1.6h-1.8zM416.5 645.2h1.8v1.6h-1.8zM416.5 646.7h1.8v1.6h-1.8zM433.2 612.1h1.8v1.6h-1.8zM433.2 660.1h1.8v1.6h-1.8zM433.2 666.1h1.8v1.6h-1.8zM433.2 667.6h1.8v1.6h-1.8zM449.9 615.1h1.8v1.6h-1.8zM449.9 646.6h1.8v1.6h-1.8zM449.9 661.6h1.8v1.6h-1.8zM466.5 613.4h1.8v1.6h-1.8zM466.5 626.9h1.8v1.6h-1.8zM466.5 647.9h1.8v1.6h-1.8zM483.1 648.2h1.8v1.6h-1.8zM483.1 649.7h1.8v1.6h-1.8zM483.1 651.2h1.8v1.6h-1.8zM499.8 651.3h1.8v1.6h-1.8zM499.8 654.3h1.8v1.6h-1.8zM499.8 664.8h1.8v1.6h-1.8zM499.8 672.3h1.8v1.6h-1.8zM499.8 675.3h1.8v1.6h-1.8zM499.8 679.8h1.8v1.6h-1.8zM499.8 694.8h1.8v1.6h-1.8zM516.5 618h1.8v1.6h-1.8zM516.5 645h1.8v1.6h-1.8zM516.5 660h1.8v1.6h-1.8zM516.5 679.5h1.8v1.6h-1.8zM533.1 643.6h1.8v1.6h-1.8zM533.1 649.6h1.8v1.6h-1.8zM533.1 676.6h1.8v1.6h-1.8zM549.8 628.5h1.8v1.6h-1.8zM633 660.3h1.8v1.6h-1.8zM633 663.3h1.8v1.6h-1.8zM633 672.3h1.8v1.6h-1.8zM633 684.3h1.8v1.6h-1.8zM633 690.3h1.8v1.6h-1.8zM666.3 643.8h1.8v1.6h-1.8zM666.3 645.3h1.8v1.6h-1.8zM666.3 672.3h1.8v1.6h-1.8zM666.3 675.3h1.8v1.6h-1.8zM666.3 676.8h1.8v1.6h-1.8zM682.9 678.4h1.8v1.6h-1.8zM699.6 637.8h1.8v1.6h-1.8zM699.6 651.3h1.8v1.6h-1.8zM699.6 654.3h1.8v1.6h-1.8zM699.6 666.3h1.8v1.6h-1.8zM699.6 667.8h1.8v1.6h-1.8zM732.9 636.2h1.8v1.6h-1.8zM732.9 639.2h1.8v1.6h-1.8zM732.9 642.2h1.8v1.6h-1.8zM732.9 643.7h1.8v1.6h-1.8zM749.5 673.9h1.8v1.6h-1.8zM749.5 678.4h1.8v1.6h-1.8zM749.5 679.9h1.8v1.6h-1.8zM749.5 691.9h1.8v1.6h-1.8zM766.2 676.7h1.8v1.6h-1.8zM766.2 700.7h1.8v1.6h-1.8zM782.8 667.9h1.8v1.6h-1.8zM799.5 652.9h1.8v1.6h-1.8zM849.4 681.3h1.8v1.6h-1.8zM849.4 682.8h1.8v1.6h-1.8zM882.7 648.4h1.8v1.6h-1.8zM882.7 673.9h1.8v1.6h-1.8z"/>
<path fill="#ffaf00" d="M169.1 306.9h2v1.4h-2zM170 285.4h2v1.4h-2zM199 281.1h2v1.4h-2zM207.1 270.2h2v1.4h-2zM207.7 261.2h2v1.4h-2zM224.2 274.5h2v1.4h-2zM257.3 287.1h2v1.4h-2zM282.5 283.7h2v1.4h-2zM284.5 283.7h2v1.4h-2zM319.8 246.6h2v1.4h-2zM449.5 263.6h2v1.4h-2zM449.5 265h2v1.4h-2zM453.4 268.6h2v1.4h-2zM473.3 266.3h2v1.4h-2zM473.3 267.7h2v1.4h-2zM479.1 269.5h2v1.4h-2zM480.6 268.3h2v1.4h-2zM500 262.2h2v1.4h-2zM502 262.7h2v1.4h-2zM508.8 269.7h2v1.4h-2zM523.4 267.6h2v1.4h-2zM524.8 268h2v1.4h-2zM192.4 463h2v1.4h-2zM200.3 459.1h2v1.4h-2zM206.7 469h2v1.4h-2zM211.5 460.4h2v1.4h-2zM211.8 458.6h2v1.4h-2zM246.6 468.6h2v1.4h-2zM248 469.4h2v1.4h-2zM251 467.6h2v1.4h-2zM289.7 470.8h2v1.4h-2zM303.9 471h2v1.4h-2zM333.9 423.2h2v1.4h-2zM337.1 418.9h2v1.4h-2zM359.6 424.2h2v1.4h-2zM365.6 426h2v1.4h-2zM391.2 445.1h2v1.4h-2zM423.8 450.6h2v1.4h-2zM425.2 451.5h2v1.4h-2zM456.6 449.3h2v1.4h-2zM467 448.1h2v1.4h-2zM133.5 568.5h1.8v1.6h-1.8zM133.5 615h1.8v1.6h-1.8zM166.8 668.8h1.8v1.6h-1.8zM183.4 563.5h1.8v1.6h-1.8zM200.1 655.7h1.8v1.6h-1.8zM233.4 644.8h1.8v1.6h-1.8zM316.6 606h1.8v1.6h-1.8zM316.6 669h1.8v1.6h-1.8zM366.6 586.4h1.8v1.6h-1.8zM366.6 614.9h1.8v1.6h-1.8zM383.2 578.9h1.8v1.6h-1.8zM383.2 661.4h1.8v1.6h-1.8zM416.5 610.7h1.8v1.6h-1.8zM416.5 687.2h1.8v1.6h-1.8zM433.2 642.1h1.8v1.6h-1.8zM449.9 607.6h1.8v1.6h-1.8zM483.1 631.7h1.8v1.6h-1.8zM483.1 675.2h1.8v1.6h-1.8zM483.1 678.2h1.8v1.6h-1.8zM499.8 700.8h1.8v1.6h-1.8zM533.1 627.1h1.8v1.6h-1.8zM533.1 693.1h1.8v1.6h-1.8zM549.8 687h1.8v1.6h-1.8zM566.4 640.9h1.8v1.6h-1.8zM583 630.2h1.8v1.6h-1.8zM583 666.2h1.8v1.6h-1.8zM583 670.7h1.8v1.6h-1.8zM583 693.2h1.8v1.6h-1.8zM583 694.7h1.8v1.6h-1.8zM599.7 664.7h1.8v1.6h-1.8zM649.6 624.2h1.8v1.6h-1.8zM666.3 657.3h1.8v1.6h-1.8zM699.6 688.8h1.8v1.6h-1.8zM716.2 624.2h1.8v1.6h-1.8zM716.2 697.7h1.8v1.6h-1.8zM732.9 718.7h1.8v1.6h-1.8zM782.8 706.9h1.8v1.6h-1.8zM799.5 715.9h1.8v1.6h-1.8zM799.5 717.4h1.8v1.6h-1.8zM816.1 627.3h1.8v1.6h-1.8zM832.8 676.9h1.8v1.6h-1.8zM849.4 673.8h1.8v1.6h-1.8zM866.1 680h1.8v1.6h-1.8zM882.7 639.4h1.8v1.6h-1.8zM916 633.3h1.8v1.6h-1.8z"/>
<path fill="#ef0000" d="M169.7 297h2v1.4h-2zM170.2 277.5h2v1.4h-2zM175.6 273.8h2v1.4h-2zM204.8 288.5h2v1.4h-2zM248.2 285.2h2v1.4h-2zM282.5 283.7h2v1.4h-2zM286.9 278.6h2v1.4h-2zM289.8 278.6h2v1.4h-2zM303.8 262.7h2v1.4h-2zM318.2 246.9h2v1.4h-2zM318.2 248.3h2v1.4h-2zM212.6 263.4h2v1.4h-2zM312.7 259.2h2v1.4h-2zM342.1 234.5h2v1.4h-2zM349.1 236.6h2v1.4h-2zM361.4 240.7h2v1.4h-2zM376.4 257.4h2v1.4h-2zM397 264.9h2v1.4h-2zM399.9 262.1h2v1.4h-2zM407 266h2v1.4h-2zM352.3 238.3h2v1.4h-2zM407.4 267.3h2v1.4h-2zM446.3 262.9h2v1.4h-2zM451.4 267.2h2v1.4h-2zM455.8 265.6h2v1.4h-2zM464.6 265.6h2v1.4h-2zM468.9 263h2v1.4h-2zM476.2 268.4h2v1.4h-2zM499.1 264.8h2v1.4h-2zM512 266.8h2v1.4h-2zM512 269.6h2v1.4h-2zM517.5 269.2h2v1.4h-2zM133.5 579h1.8v1.6h-1.8zM133.5 580.5h1.8v1.6h-1.8zM133.5 582h1.8v1.6h-1.8zM133.5 591h1.8v1.6h-1.8zM133.5 597h1.8v1.6h-1.8zM133.5 598.5h1.8v1.6h-1.8zM133.5 606h1.8v1.6h-1.8zM133.5 618h1.8v1.6h-1.8zM133.5 627h1.8v1.6h-1.8zM150.2 564.5h1.8v1.6h-1.8zM166.8 581.8h1.8v1.6h-1.8zM166.8 602.8h1.8v1.6h-1.8zM166.8 604.3h1.8v1.6h-1.8zM183.4 575.5h1.8v1.6h-1.8zM183.4 593.5h1.8v1.6h-1.8zM183.4 598h1.8v1.6h-1.8zM183.4 605.5h1.8v1.6h-1.8zM183.4 623.5h1.8v1.6h-1.8zM183.4 625h1.8v1.6h-1.8zM183.4 640h1.8v1.6h-1.8zM200.1 595.7h1.8v1.6h-1.8zM200.1 619.7h1.8v1.6h-1.8zM200.1 622.7h1.8v1.6h-1.8zM200.1 628.7h1.8v1.6h-1.8zM200.1 631.7h1.8v1.6h-1.8zM200.1 646.7h1.8v1.6h-1.8zM200.1 649.7h1.8v1.6h-1.8zM216.8 620.3h1.8v1.6h-1.8zM216.8 629.3h1.8v1.6h-1.8zM216.8 641.3h1.8v1.6h-1.8zM216.8 644.3h1.8v1.6h-1.8zM216.8 650.3h1.8v1.6h-1.8zM233.4 608.8h1.8v1.6h-1.8zM233.4 611.8h1.8v1.6h-1.8zM250 587.8h1.8v1.6h-1.8zM250 590.8h1.8v1.6h-1.8zM250 620.8h1.8v1.6h-1.8zM250 626.8h1.8v1.6h-1.8zM266.7 618.6h1.8v1.6h-1.8zM266.7 644.1h1.8v1.6h-1.8zM283.4 589.3h1.8v1.6h-1.8zM283.4 658.3h1.8v1.6h-1.8zM300 632.1h1.8v1.6h-1.8zM300 636.6h1.8v1.6h-1.8zM300 654.6h1.8v1.6h-1.8zM300 662.1h1.8v1.6h-1.8zM316.6 628.5h1.8v1.6h-1.8zM316.6 646.5h1.8v1.6h-1.8zM316.6 648h1.8v1.6h-1.8zM316.6 654h1.8v1.6h-1.8zM316.6 655.5h1.8v1.6h-1.8zM316.6 657h1.8v1.6h-1.8zM316.6 658.5h1.8v1.6h-1.8zM316.6 660h1.8v1.6h-1.8zM333.3 603h1.8v1.6h-1.8zM333.3 612h1.8v1.6h-1.8zM333.3 613.5h1.8v1.6h-1.8zM333.3 615h1.8v1.6h-1.8zM333.3 625.5h1.8v1.6h-1.8zM333.3 628.5h1.8v1.6h-1.8zM333.3 667.5h1.8v1.6h-1.8zM350 596.9h1.8v1.6h-1.8zM350 598.4h1.8v1.6h-1.8zM350 602.9h1.8v1.6h-1.8zM350 610.4h1.8v1.6h-1.8zM350 629.9h1.8v1.6h-1.8zM350 643.4h1.8v1.6h-1.8zM350 644.9h1.8v1.6h-1.8zM350 662.9h1.8v1.6h-1.8zM366.6 596.9h1.8v1.6h-1.8zM366.6 622.4h1.8v1.6h-1.8zM366.6 643.4h1.8v1.6h-1.8zM383.2 632.9h1.8v1.6h-1.8zM383.2 640.4h1.8v1.6h-1.8zM383.2 643.4h1.8v1.6h-1.8zM399.9 606h1.8v1.6h-1.8zM399.9 640.5h1.8v1.6h-1.8zM399.9 646.5h1.8v1.6h-1.8zM399.9 648h1.8v1.6h-1.8zM399.9 649.5h1.8v1.6h-1.8zM399.9 651h1.8v1.6h-1.8zM399.9 652.5h1.8v1.6h-1.8zM416.5 663.2h1.8v1.6h-1.8zM416.5 679.7h1.8v1.6h-1.8zM433.2 609.1h1.8v1.6h-1.8zM433.2 627.1h1.8v1.6h-1.8zM433.2 639.1h1.8v1.6h-1.8zM433.2 649.6h1.8v1.6h-1.8zM433.2 651.1h1.8v1.6h-1.8zM433.2 652.6h1.8v1.6h-1.8zM433.2 654.1h1.8v1.6h-1.8zM449.9 624.1h1.8v1.6h-1.8zM449.9 636.1h1.8v1.6h-1.8zM449.9 642.1h1.8v1.6h-1.8zM449.9 651.1h1.8v1.6h-1.8zM449.9 658.6h1.8v1.6h-1.8zM466.5 608.9h1.8v1.6h-1.8zM466.5 614.9h1.8v1.6h-1.8zM466.5 632.9h1.8v1.6h-1.8zM466.5 656.9h1.8v1.6h-1.8zM466.5 662.9h1.8v1.6h-1.8zM466.5 667.4h1.8v1.6h-1.8zM466.5 671.9h1.8v1.6h-1.8zM483.1 652.7h1.8v1.6h-1.8zM499.8 640.8h1.8v1.6h-1.8zM499.8 646.8h1.8v1.6h-1.8zM499.8 657.3h1.8v1.6h-1.8zM499.8 669.3h1.8v1.6h-1.8zM499.8 670.8h1.8v1.6h-1.8zM516.5 613.5h1.8v1.6h-1.8zM516.5 628.5h1.8v1.6h-1.8zM516.5 646.5h1.8v1.6h-1.8zM516.5 651h1.8v1.6h-1.8zM516.5 663h1.8v1.6h-1.8zM516.5 672h1.8v1.6h-1.8zM516.5 675h1.8v1.6h-1.8zM516.5 678h1.8v1.6h-1.8zM516.5 681h1.8v1.6h-1.8zM516.5 688.5h1.8v1.6h-1.8zM533.1 639.1h1.8v1.6h-1.8zM533.1 646.6h1.8v1.6h-1.8zM533.1 666.1h1.8v1.6h-1.8zM533.1 684.1h1.8v1.6h-1.8zM549.8 627h1.8v1.6h-1.8zM566.4 685.9h1.8v1.6h-1.8zM566.4 687.4h1.8v1.6h-1.8zM566.4 688.9h1.8v1.6h-1.8zM583 643.7h1.8v1.6h-1.8zM599.7 631.7h1.8v1.6h-1.8zM599.7 633.2h1.8v1.6h-1.8zM599.7 634.7h1.8v1.6h-1.8zM599.7 657.2h1.8v1.6h-1.8zM599.7 658.7h1.8v1.6h-1.8zM599.7 660.2h1.8v1.6h-1.8zM616.4 637.7h1.8v1.6h-1.8zM616.4 643.7h1.8v1.6h-1.8zM616.4 685.7h1.8v1.6h-1.8zM616.4 687.2h1.8v1.6h-1.8zM633 657.3h1.8v1.6h-1.8zM633 661.8h1.8v1.6h-1.8zM633 666.3h1.8v1.6h-1.8zM633 675.3h1.8v1.6h-1.8zM633 694.8h1.8v1.6h-1.8zM649.6 631.7h1.8v1.6h-1.8zM649.6 688.7h1.8v1.6h-1.8zM666.3 648.3h1.8v1.6h-1.8zM666.3 678.3h1.8v1.6h-1.8zM666.3 681.3h1.8v1.6h-1.8zM666.3 682.8h1.8v1.6h-1.8zM699.6 636.3h1.8v1.6h-1.8zM699.6 640.8h1.8v1.6h-1.8zM699.6 652.8h1.8v1.6h-1.8zM699.6 657.3h1.8v1.6h-1.8zM699.6 663.3h1.8v1.6h-1.8zM699.6 691.8h1.8v1.6h-1.8zM699.6 693.3h1.8v1.6h-1.8zM732.9 640.7h1.8v1.6h-1.8zM732.9 681.2h1.8v1.6h-1.8zM732.9 685.7h1.8v1.6h-1.8zM749.5 672.4h1.8v1.6h-1.8zM766.2 651.2h1.8v1.6h-1.8zM766.2 660.2h1.8v1.6h-1.8zM766.2 679.7h1.8v1.6h-1.8zM766.2 685.7h1.8v1.6h-1.8zM766.2 694.7h1.8v1.6h-1.8zM766.2 696.2h1.8v1.6h-1.8zM799.5 651.4h1.8v1.6h-1.8zM799.5 654.4h1.8v1.6h-1.8zM849.4 685.8h1.8v1.6h-1.8zM849.4 699.3h1.8v1.6h-1.8zM849.4 700.8h1.8v1.6h-1.8zM849.4 702.3h1.8v1.6h-1.8zM866.1 657.5h1.8v1.6h-1.8zM866.1 687.5h1.8v1.6h-1.8zM882.7 649.9h1.8v1.6h-1.8zM882.7 652.9h1.8v1.6h-1.8zM882.7 676.9h1.8v1.6h-1.8zM882.7 678.4h1.8v1.6h-1.8zM882.7 682.9h1.8v1.6h-1.8zM882.7 690.4h1.8v1.6h-1.8zM916 654.3h1.8v1.6h-1.8zM916 655.8h1.8v1.6h-1.8zM916 663.3h1.8v1.6h-1.8zM916 667.8h1.8v1.6h-1.8z"/>
<path fill="#ff7000" d="M170.1 283.5h2v1.4h-2zM170.2 276.9h2v1.4h-2zM178.6 277.9h2v1.4h-2zM181.5 280.9h2v1.4h-2zM184.1 282.3h2v1.4h-2zM191.2 272.9h2v1.4h-2zM204.8 287.1h2v1.4h-2zM219.6 269.5h2v1.4h-2zM233 285.2h2v1.4h-2zM238.8 283.8h2v1.4h-2zM241.7 285.1h2v1.4h-2zM271.4 284h2v1.4h-2zM282.5 285.1h2v1.4h-2zM298.1 288.4h2v1.4h-2zM302.4 275.3h2v1.4h-2zM319.8 247.6h2v1.4h-2zM322.9 243.3h2v1.4h-2zM235.9 287.1h2v1.4h-2zM249.5 286.4h2v1.4h-2zM270.9 281.5h2v1.4h-2zM329 242.1h2v1.4h-2zM333.4 238.3h2v1.4h-2zM340.7 236.9h2v1.4h-2zM367.9 246h2v1.4h-2zM379.2 258.2h2v1.4h-2zM393.4 262.1h2v1.4h-2zM394.6 262h2v1.4h-2zM408.1 270.2h2v1.4h-2zM344.5 235.1h2v1.4h-2zM377.6 258.1h2v1.4h-2zM404.8 261.7h2v1.4h-2zM430.1 268.3h2v1.4h-2zM443 264.3h2v1.4h-2zM455.8 267h2v1.4h-2zM510.4 268.2h2v1.4h-2zM523.4 269h2v1.4h-2zM526.2 268.8h2v1.4h-2zM527.6 267.3h2v1.4h-2zM212.2 457.3h2v1.4h-2zM220.4 450.6h2v1.4h-2zM286.4 474h2v1.4h-2zM317.1 436.4h2v1.4h-2zM321.4 429.4h2v1.4h-2zM354.9 424.5h2v1.4h-2zM408 453.5h2v1.4h-2zM442.7 455.4h2v1.4h-2zM150.2 626h1.8v1.6h-1.8zM166.8 667.3h1.8v1.6h-1.8zM200.1 654.2h1.8v1.6h-1.8zM216.8 614.3h1.8v1.6h-1.8zM233.4 566.8h1.8v1.6h-1.8zM233.4 571.3h1.8v1.6h-1.8zM233.4 587.8h1.8v1.6h-1.8zM233.4 641.8h1.8v1.6h-1.8zM266.7 575.1h1.8v1.6h-1.8zM283.4 571.3h1.8v1.6h-1.8zM283.4 647.8h1.8v1.6h-1.8zM283.4 662.8h1.8v1.6h-1.8zM300 581.1h1.8v1.6h-1.8zM300 612.6h1.8v1.6h-1.8zM316.6 603h1.8v1.6h-1.8zM316.6 604.5h1.8v1.6h-1.8zM350 586.4h1.8v1.6h-1.8zM383.2 626.9h1.8v1.6h-1.8zM416.5 612.2h1.8v1.6h-1.8zM416.5 633.2h1.8v1.6h-1.8zM516.5 697.5h1.8v1.6h-1.8zM533.1 606.1h1.8v1.6h-1.8zM533.1 609.1h1.8v1.6h-1.8zM533.1 610.6h1.8v1.6h-1.8zM549.8 603h1.8v1.6h-1.8zM549.8 643.5h1.8v1.6h-1.8zM549.8 685.5h1.8v1.6h-1.8zM566.4 682.9h1.8v1.6h-1.8zM566.4 700.9h1.8v1.6h-1.8zM583 654.2h1.8v1.6h-1.8zM583 669.2h1.8v1.6h-1.8zM599.7 684.2h1.8v1.6h-1.8zM616.4 646.7h1.8v1.6h-1.8zM616.4 669.2h1.8v1.6h-1.8zM649.6 676.7h1.8v1.6h-1.8zM666.3 655.8h1.8v1.6h-1.8zM666.3 667.8h1.8v1.6h-1.8zM666.3 684.3h1.8v1.6h-1.8zM682.9 655.9h1.8v1.6h-1.8zM682.9 669.4h1.8v1.6h-1.8zM682.9 696.4h1.8v1.6h-1.8zM699.6 673.8h1.8v1.6h-1.8zM716.2 681.2h1.8v1.6h-1.8zM732.9 657.2h1.8v1.6h-1.8zM732.9 661.7h1.8v1.6h-1.8zM749.5 636.4h1.8v1.6h-1.8zM749.5 645.4h1.8v1.6h-1.8zM749.5 667.9h1.8v1.6h-1.8zM749.5 694.9h1.8v1.6h-1.8zM782.8 678.4h1.8v1.6h-1.8zM799.5 702.4h1.8v1.6h-1.8zM816.1 631.8h1.8v1.6h-1.8zM816.1 670.8h1.8v1.6h-1.8zM816.1 673.8h1.8v1.6h-1.8zM816.1 685.8h1.8v1.6h-1.8zM816.1 687.3h1.8v1.6h-1.8zM832.8 648.4h1.8v1.6h-1.8zM832.8 673.9h1.8v1.6h-1.8zM832.8 693.4h1.8v1.6h-1.8zM849.4 652.8h1.8v1.6h-1.8zM849.4 675.3h1.8v1.6h-1.8zM866.1 699.5h1.8v1.6h-1.8zM882.7 709.9h1.8v1.6h-1.8zM916 688.8h1.8v1.6h-1.8z"/>
<path fill="#af0000" d="M174.4 275.9h2v1.4h-2zM185.4 282.4h2v1.4h-2zM187.3 280.7h2v1.4h-2zM194.4 274.7h2v1.4h-2zM201.3 282.4h2v1.4h-2zM209.3 262.8h2v1.4h-2zM214 265.1h2v1.4h-2zM219.6 270.9h2v1.4h-2zM251 285h2v1.4h-2zM255.3 282.4h2v1.4h-2zM261.8 289.3h2v1.4h-2zM303.1 269.5h2v1.4h-2zM321.4 244.6h2v1.4h-2zM339.2 237.1h2v1.4h-2zM345 233.8h2v1.4h-2zM353.3 239h2v1.4h-2zM361.4 243.5h2v1.4h-2zM408.7 271.1h2v1.4h-2zM408.7 272.5h2v1.4h-2zM133.5 586.5h1.8v1.6h-1.8zM133.5 622.5h1.8v1.6h-1.8zM133.5 625.5h1.8v1.6h-1.8zM150.2 578h1.8v1.6h-1.8zM150.2 590h1.8v1.6h-1.8zM150.2 596h1.8v1.6h-1.8zM150.2 599h1.8v1.6h-1.8zM150.2 608h1.8v1.6h-1.8zM150.2 615.5h1.8v1.6h-1.8zM150.2 620h1.8v1.6h-1.8zM150.2 624.5h1.8v1.6h-1.8zM166.8 613.3h1.8v1.6h-1.8zM166.8 634.3h1.8v1.6h-1.8zM166.8 653.8h1.8v1.6h-1.8zM183.4 587.5h1.8v1.6h-1.8zM183.4 631h1.8v1.6h-1.8zM183.4 635.5h1.8v1.6h-1.8zM200.1 616.7h1.8v1.6h-1.8zM200.1 627.2h1.8v1.6h-1.8zM200.1 633.2h1.8v1.6h-1.8zM200.1 634.7h1.8v1.6h-1.8zM200.1 636.2h1.8v1.6h-1.8zM216.8 608.3h1.8v1.6h-1.8zM216.8 609.8h1.8v1.6h-1.8zM216.8 630.8h1.8v1.6h-1.8zM216.8 632.3h1.8v1.6h-1.8zM216.8 635.3h1.8v1.6h-1.8zM216.8 648.8h1.8v1.6h-1.8zM250 596.8h1.8v1.6h-1.8zM250 599.8h1.8v1.6h-1.8zM250 613.3h1.8v1.6h-1.8zM266.7 585.6h1.8v1.6h-1.8zM266.7 587.1h1.8v1.6h-1.8zM266.7 606.6h1.8v1.6h-1.8zM266.7 626.1h1.8v1.6h-1.8zM266.7 627.6h1.8v1.6h-1.8zM266.7 633.6h1.8v1.6h-1.8zM283.4 592.3h1.8v1.6h-1.8zM283.4 593.8h1.8v1.6h-1.8zM283.4 601.3h1.8v1.6h-1.8zM283.4 611.8h1.8v1.6h-1.8zM283.4 614.8h1.8v1.6h-1.8zM283.4 617.8h1.8v1.6h-1.8zM283.4 625.3h1.8v1.6h-1.8zM300 590.1h1.8v1.6h-1.8zM300 591.6h1.8v1.6h-1.8zM300 594.6h1.8v1.6h-1.8zM300 657.6h1.8v1.6h-1.8zM316.6 621h1.8v1.6h-1.8zM316.6 624h1.8v1.6h-1.8zM316.6 631.5h1.8v1.6h-1.8zM316.6 633h1.8v1.6h-1.8zM316.6 634.5h1.8v1.6h-1.8zM316.6 636h1.8v1.6h-1.8zM316.6 637.5h1.8v1.6h-1.8zM333.3 618h1.8v1.6h-1.8zM333.3 619.5h1.8v1.6h-1.8zM333.3 621h1.8v1.6h-1.8zM333.3 666h1.8v1.6h-1.8zM350 607.4h1.8v1.6h-1.8zM350 616.4h1.8v1.6h-1.8zM350 623.9h1.8v1.6h-1.8zM350 632.9h1.8v1.6h-1.8zM350 655.4h1.8v1.6h-1.8zM366.6 598.4h1.8v1.6h-1.8zM366.6 607.4h1.8v1.6h-1.8zM366.6 623.9h1.8v1.6h-1.8zM366.6 628.4h1.8v1.6h-1.8zM366.6 635.9h1.8v1.6h-1.8zM366.6 640.4h1.8v1.6h-1.8zM399.9 616.5h1.8v1.6h-1.8zM399.9 622.5h1.8v1.6h-1.8zM399.9 624h1.8v1.6h-1.8zM399.9 642h1.8v1.6h-1.8zM399.9 645h1.8v1.6h-1.8zM433.2 610.6h1.8v1.6h-1.8zM449.9 625.6h1.8v1.6h-1.8zM449.9 631.6h1.8v1.6h-1.8zM449.9 633.1h1.8v1.6h-1.8zM449.9 634.6h1.8v1.6h-1.8zM449.9 666.1h1.8v1.6h-1.8zM466.5 610.4h1.8v1.6h-1.8zM466.5 620.9h1.8v1.6h-1.8zM466.5 625.4h1.8v1.6h-1.8zM466.5 650.9h1.8v1.6h-1.8zM499.8 673.8h1.8v1.6h-1.8zM516.5 630h1.8v1.6h-1.8zM516.5 633h1.8v1.6h-1.8zM516.5 640.5h1.8v1.6h-1.8zM516.5 642h1.8v1.6h-1.8zM516.5 643.5h1.8v1.6h-1.8zM533.1 615.1h1.8v1.6h-1.8zM533.1 616.6h1.8v1.6h-1.8zM533.1 618.1h1.8v1.6h-1.8zM533.1 621.1h1.8v1.6h-1.8zM533.1 636.1h1.8v1.6h-1.8zM533.1 637.6h1.8v1.6h-1.8zM533.1 661.6h1.8v1.6h-1.8zM533.1 678.1h1.8v1.6h-1.8zM533.1 681.1h1.8v1.6h-1.8zM583 649.7h1.8v1.6h-1.8zM633 658.8h1.8v1.6h-1.8zM633 664.8h1.8v1.6h-1.8zM633 687.3h1.8v1.6h-1.8zM633 688.8h1.8v1.6h-1.8zM666.3 640.8h1.8v1.6h-1.8zM699.6 655.8h1.8v1.6h-1.8zM799.5 697.9h1.8v1.6h-1.8zM882.7 654.4h1.8v1.6h-1.8zM882.7 672.4h1.8v1.6h-1.8z"/>
<path fill="#ff1000" d="M177.1 275.6h2v1.4h-2zM187.3 279.3h2v1.4h-2zM192.8 276h2v1.4h-2zM196.1 276.2h2v1.4h-2zM197.5 278.4h2v1.4h-2zM207.7 264.4h2v1.4h-2zM212.6 263.8h2v1.4h-2zM218.4 267.4h2v1.4h-2zM235.9 288.4h2v1.4h-2zM253.9 283.1h2v1.4h-2zM257.9 286.1h2v1.4h-2zM260.5 291h2v1.4h-2zM261.8 290.7h2v1.4h-2zM263.1 292h2v1.4h-2zM265.7 287.5h2v1.4h-2zM267 284.9h2v1.4h-2zM272.8 280.4h2v1.4h-2zM277.2 283.8h2v1.4h-2zM291.3 279.6h2v1.4h-2zM292.8 281.9h2v1.4h-2zM292.8 283.3h2v1.4h-2zM294.2 281.6h2v1.4h-2zM302.1 278.1h2v1.4h-2zM306.5 260.3h2v1.4h-2zM329 240.7h2v1.4h-2zM330.5 240h2v1.4h-2zM362.7 241.4h2v1.4h-2zM375.2 254.9h2v1.4h-2zM380.8 261.3h2v1.4h-2zM392.2 259.7h2v1.4h-2zM413.9 268.9h2v1.4h-2zM133.5 576h1.8v1.6h-1.8zM133.5 607.5h1.8v1.6h-1.8zM150.2 563h1.8v1.6h-1.8zM166.8 577.3h1.8v1.6h-1.8zM166.8 637.3h1.8v1.6h-1.8zM166.8 650.8h1.8v1.6h-1.8zM166.8 658.3h1.8v1.6h-1.8zM183.4 574h1.8v1.6h-1.8zM183.4 583h1.8v1.6h-1.8zM183.4 604h1.8v1.6h-1.8zM183.4 614.5h1.8v1.6h-1.8zM183.4 616h1.8v1.6h-1.8zM200.1 597.2h1.8v1.6h-1.8zM200.1 609.2h1.8v1.6h-1.8zM200.1 610.7h1.8v1.6h-1.8zM200.1 621.2h1.8v1.6h-1.8zM200.1 640.7h1.8v1.6h-1.8zM200.1 643.7h1.8v1.6h-1.8zM200.1 651.2h1.8v1.6h-1.8zM216.8 594.8h1.8v1.6h-1.8zM216.8 599.3h1.8v1.6h-1.8zM216.8 600.8h1.8v1.6h-1.8zM216.8 623.3h1.8v1.6h-1.8zM216.8 624.8h1.8v1.6h-1.8zM233.4 575.8h1.8v1.6h-1.8zM233.4 577.3h1.8v1.6h-1.8zM250 568.3h1.8v1.6h-1.8zM250 592.3h1.8v1.6h-1.8zM250 604.3h1.8v1.6h-1.8zM250 605.8h1.8v1.6h-1.8zM250 608.8h1.8v1.6h-1.8zM250 616.3h1.8v1.6h-1.8zM266.7 581.1h1.8v1.6h-1.8zM266.7 608.1h1.8v1.6h-1.8zM266.7 645.6h1.8v1.6h-1.8zM300 584.1h1.8v1.6h-1.8zM300 585.6h1.8v1.6h-1.8zM300 627.6h1.8v1.6h-1.8zM300 635.1h1.8v1.6h-1.8zM300 644.1h1.8v1.6h-1.8zM300 653.1h1.8v1.6h-1.8zM300 665.1h1.8v1.6h-1.8zM333.3 627h1.8v1.6h-1.8zM333.3 651h1.8v1.6h-1.8zM350 611.9h1.8v1.6h-1.8zM350 668.9h1.8v1.6h-1.8zM366.6 593.9h1.8v1.6h-1.8zM366.6 632.9h1.8v1.6h-1.8zM366.6 661.4h1.8v1.6h-1.8zM383.2 635.9h1.8v1.6h-1.8zM383.2 656.9h1.8v1.6h-1.8zM399.9 657h1.8v1.6h-1.8zM416.5 615.2h1.8v1.6h-1.8zM416.5 640.7h1.8v1.6h-1.8zM416.5 651.2h1.8v1.6h-1.8zM416.5 661.7h1.8v1.6h-1.8zM416.5 676.7h1.8v1.6h-1.8zM416.5 678.2h1.8v1.6h-1.8zM433.2 630.1h1.8v1.6h-1.8zM433.2 631.6h1.8v1.6h-1.8zM433.2 648.1h1.8v1.6h-1.8zM433.2 670.6h1.8v1.6h-1.8zM449.9 628.6h1.8v1.6h-1.8zM449.9 657.1h1.8v1.6h-1.8zM466.5 596.9h1.8v1.6h-1.8zM466.5 665.9h1.8v1.6h-1.8zM466.5 673.4h1.8v1.6h-1.8zM483.1 622.7h1.8v1.6h-1.8zM483.1 628.7h1.8v1.6h-1.8zM483.1 654.2h1.8v1.6h-1.8zM483.1 658.7h1.8v1.6h-1.8zM483.1 661.7h1.8v1.6h-1.8zM483.1 666.2h1.8v1.6h-1.8zM483.1 667.7h1.8v1.6h-1.8zM499.8 645.3h1.8v1.6h-1.8zM516.5 604.5h1.8v1.6h-1.8zM516.5 606h1.8v1.6h-1.8zM516.5 607.5h1.8v1.6h-1.8zM516.5 654h1.8v1.6h-1.8zM516.5 661.5h1.8v1.6h-1.8zM516.5 682.5h1.8v1.6h-1.8zM516.5 684h1.8v1.6h-1.8zM516.5 687h1.8v1.6h-1.8zM533.1 612.1h1.8v1.6h-1.8zM533.1 652.6h1.8v1.6h-1.8zM533.1 667.6h1.8v1.6h-1.8zM533.1 669.1h1.8v1.6h-1.8zM533.1 672.1h1.8v1.6h-1.8zM549.8 607.5h1.8v1.6h-1.8zM549.8 634.5h1.8v1.6h-1.8zM566.4 690.4h1.8v1.6h-1.8zM583 642.2h1.8v1.6h-1.8zM599.7 628.7h1.8v1.6h-1.8zM599.7 639.2h1.8v1.6h-1.8zM599.7 643.7h1.8v1.6h-1.8zM599.7 645.2h1.8v1.6h-1.8zM599.7 679.7h1.8v1.6h-1.8zM633 648.3h1.8v1.6h-1.8zM649.6 669.2h1.8v1.6h-1.8zM666.3 637.8h1.8v1.6h-1.8zM666.3 652.8h1.8v1.6h-1.8zM666.3 679.8h1.8v1.6h-1.8zM682.9 675.4h1.8v1.6h-1.8zM682.9 676.9h1.8v1.6h-1.8zM716.2 646.7h1.8v1.6h-1.8zM716.2 648.2h1.8v1.6h-1.8zM732.9 631.7h1.8v1.6h-1.8zM749.5 639.4h1.8v1.6h-1.8zM749.5 684.4h1.8v1.6h-1.8zM749.5 687.4h1.8v1.6h-1.8zM749.5 693.4h1.8v1.6h-1.8zM766.2 639.2h1.8v1.6h-1.8zM766.2 649.7h1.8v1.6h-1.8zM766.2 654.2h1.8v1.6h-1.8zM766.2 657.2h1.8v1.6h-1.8zM766.2 682.7h1.8v1.6h-1.8zM799.5 648.4h1.8v1.6h-1.8zM799.5 649.9h1.8v1.6h-1.8zM799.5 655.9h1.8v1.6h-1.8zM816.1 693.3h1.8v1.6h-1.8zM816.1 694.8h1.8v1.6h-1.8zM849.4 649.8h1.8v1.6h-1.8zM849.4 687.3h1.8v1.6h-1.8zM849.4 693.3h1.8v1.6h-1.8zM849.4 697.8h1.8v1.6h-1.8zM866.1 656h1.8v1.6h-1.8zM866.1 684.5h1.8v1.6h-1.8zM882.7 666.4h1.8v1.6h-1.8zM882.7 684.4h1.8v1.6h-1.8zM882.7 688.9h1.8v1.6h-1.8zM916 643.8h1.8v1.6h-1.8zM916 646.8h1.8v1.6h-1.8zM916 669.3h1.8v1.6h-1.8zM916 670.8h1.8v1.6h-1.8zM916 672.3h1.8v1.6h-1.8zM916 675.3h1.8v1.6h-1.8zM916 697.8h1.8v1.6h-1.8z"/>
<path fill="#efff10" d="M178.6 276.5h2v1.4h-2zM200.1 281.3h2v1.4h-2zM202.5 284.3h2v1.4h-2zM216.9 266.5h2v1.4h-2zM227.7 281h2v1.4h-2zM231.5 284.7h2v1.4h-2zM271.4 281.2h2v1.4h-2zM294.2 284.4h2v1.4h-2zM298.1 287h2v1.4h-2zM311.1 258.9h2v1.4h-2zM315.9 250.6h2v1.4h-2zM330.5 241.4h2v1.4h-2zM342.1 235.9h2v1.4h-2zM354.8 238.9h2v1.4h-2zM354.8 240.3h2v1.4h-2zM357.5 241.7h2v1.4h-2zM390.5 258.3h2v1.4h-2zM411.6 275.5h2v1.4h-2zM252.4 466.9h2v1.4h-2zM255.3 465.6h2v1.4h-2zM268 479h2v1.4h-2zM271.9 471.2h2v1.4h-2zM288.1 471.8h2v1.4h-2zM307.8 465h2v1.4h-2zM329 426.1h2v1.4h-2zM330.6 425h2v1.4h-2zM362.5 424.5h2v1.4h-2zM370.1 430.5h2v1.4h-2zM376.1 439.6h2v1.4h-2zM387.6 444.2h2v1.4h-2zM436.4 454.8h2v1.4h-2zM445.6 449.1h2v1.4h-2zM447.1 447.4h2v1.4h-2zM455 448.9h2v1.4h-2zM133.5 613.5h1.8v1.6h-1.8zM133.5 634.5h1.8v1.6h-1.8zM166.8 629.8h1.8v1.6h-1.8zM183.4 665.5h1.8v1.6h-1.8zM183.4 667h1.8v1.6h-1.8zM200.1 571.7h1.8v1.6h-1.8zM200.1 577.7h1.8v1.6h-1.8zM233.4 628.3h1.8v1.6h-1.8zM233.4 649.3h1.8v1.6h-1.8zM283.4 562.3h1.8v1.6h-1.8zM283.4 563.8h1.8v1.6h-1.8zM283.4 565.3h1.8v1.6h-1.8zM283.4 566.8h1.8v1.6h-1.8zM300 569.1h1.8v1.6h-1.8zM300 570.6h1.8v1.6h-1.8zM300 572.1h1.8v1.6h-1.8zM300 603.6h1.8v1.6h-1.8zM300 614.1h1.8v1.6h-1.8zM300 624.6h1.8v1.6h-1.8zM316.6 676.5h1.8v1.6h-1.8zM333.3 591h1.8v1.6h-1.8zM333.3 643.5h1.8v1.6h-1.8zM366.6 583.4h1.8v1.6h-1.8zM366.6 616.4h1.8v1.6h-1.8zM383.2 575.9h1.8v1.6h-1.8zM383.2 586.4h1.8v1.6h-1.8zM399.9 582h1.8v1.6h-1.8zM483.1 681.2h1.8v1.6h-1.8zM499.8 622.8h1.8v1.6h-1.8zM549.8 694.5h1.8v1.6h-1.8zM566.4 627.4h1.8v1.6h-1.8zM566.4 708.4h1.8v1.6h-1.8zM599.7 690.2h1.8v1.6h-1.8zM599.7 691.7h1.8v1.6h-1.8zM616.4 616.7h1.8v1.6h-1.8zM616.4 714.2h1.8v1.6h-1.8zM682.9 646.9h1.8v1.6h-1.8zM682.9 709.9h1.8v1.6h-1.8zM682.9 712.9h1.8v1.6h-1.8zM732.9 618.2h1.8v1.6h-1.8zM732.9 721.7h1.8v1.6h-1.8zM732.9 723.2h1.8v1.6h-1.8zM732.9 724.7h1.8v1.6h-1.8zM749.5 657.4h1.8v1.6h-1.8zM766.2 664.7h1.8v1.6h-1.8zM782.8 660.4h1.8v1.6h-1.8zM782.8 711.4h1.8v1.6h-1.8zM816.1 624.3h1.8v1.6h-1.8zM849.4 625.8h1.8v1.6h-1.8zM849.4 628.8h1.8v1.6h-1.8zM849.4 720.3h1.8v1.6h-1.8zM866.1 642.5h1.8v1.6h-1.8zM866.1 723.5h1.8v1.6h-1.8zM882.7 711.4h1.8v1.6h-1.8zM899.4 625.8h1.8v1.6h-1.8zM916 624.3h1.8v1.6h-1.8z"/>
<path fill="#ff5000" d="M180 279.1h2v1.4h-2zM203.6 286.2h2v1.4h-2zM235.9 287h2v1.4h-2zM268.5 285.2h2v1.4h-2zM301.8 278.2h2v1.4h-2zM303 270.9h2v1.4h-2zM311.1 260.3h2v1.4h-2zM322.9 244.7h2v1.4h-2zM327.5 241.5h2v1.4h-2zM343.6 235h2v1.4h-2zM358.8 240.6h2v1.4h-2zM376.4 256h2v1.4h-2zM382.4 259.8h2v1.4h-2zM383.7 259.4h2v1.4h-2zM384.9 258.2h2v1.4h-2zM393.4 260.7h2v1.4h-2zM399.9 260.7h2v1.4h-2zM418.4 262.8h2v1.4h-2zM133.5 609h1.8v1.6h-1.8zM150.2 560h1.8v1.6h-1.8zM166.8 665.8h1.8v1.6h-1.8zM183.4 566.5h1.8v1.6h-1.8zM183.4 571h1.8v1.6h-1.8zM183.4 577h1.8v1.6h-1.8zM216.8 618.8h1.8v1.6h-1.8zM233.4 568.3h1.8v1.6h-1.8zM233.4 638.8h1.8v1.6h-1.8zM250 629.8h1.8v1.6h-1.8zM300 666.6h1.8v1.6h-1.8zM350 670.4h1.8v1.6h-1.8zM366.6 592.4h1.8v1.6h-1.8zM383.2 658.4h1.8v1.6h-1.8zM399.9 589.5h1.8v1.6h-1.8zM416.5 657.2h1.8v1.6h-1.8zM416.5 658.7h1.8v1.6h-1.8zM416.5 660.2h1.8v1.6h-1.8zM433.2 606.1h1.8v1.6h-1.8zM466.5 595.4h1.8v1.6h-1.8zM466.5 607.4h1.8v1.6h-1.8zM466.5 677.9h1.8v1.6h-1.8zM483.1 624.2h1.8v1.6h-1.8zM499.8 690.3h1.8v1.6h-1.8zM499.8 691.8h1.8v1.6h-1.8zM516.5 619.5h1.8v1.6h-1.8zM516.5 696h1.8v1.6h-1.8zM533.1 625.6h1.8v1.6h-1.8zM533.1 687.1h1.8v1.6h-1.8zM549.8 616.5h1.8v1.6h-1.8zM549.8 618h1.8v1.6h-1.8zM566.4 648.4h1.8v1.6h-1.8zM566.4 699.4h1.8v1.6h-1.8zM583 682.7h1.8v1.6h-1.8zM583 688.7h1.8v1.6h-1.8zM599.7 678.2h1.8v1.6h-1.8zM599.7 682.7h1.8v1.6h-1.8zM616.4 678.2h1.8v1.6h-1.8zM616.4 681.2h1.8v1.6h-1.8zM616.4 682.7h1.8v1.6h-1.8zM633 630.3h1.8v1.6h-1.8zM649.6 637.7h1.8v1.6h-1.8zM649.6 678.2h1.8v1.6h-1.8zM649.6 685.7h1.8v1.6h-1.8zM666.3 634.8h1.8v1.6h-1.8zM666.3 709.8h1.8v1.6h-1.8zM666.3 711.3h1.8v1.6h-1.8zM699.6 631.8h1.8v1.6h-1.8zM699.6 672.3h1.8v1.6h-1.8zM732.9 627.2h1.8v1.6h-1.8zM732.9 628.7h1.8v1.6h-1.8zM766.2 646.7h1.8v1.6h-1.8zM782.8 676.9h1.8v1.6h-1.8zM799.5 642.4h1.8v1.6h-1.8zM799.5 685.9h1.8v1.6h-1.8zM816.1 675.3h1.8v1.6h-1.8zM816.1 679.8h1.8v1.6h-1.8zM816.1 690.3h1.8v1.6h-1.8zM832.8 649.9h1.8v1.6h-1.8zM832.8 652.9h1.8v1.6h-1.8zM832.8 670.9h1.8v1.6h-1.8zM849.4 648.3h1.8v1.6h-1.8zM849.4 676.8h1.8v1.6h-1.8zM849.4 705.3h1.8v1.6h-1.8zM849.4 708.3h1.8v1.6h-1.8zM866.1 683h1.8v1.6h-1.8zM866.1 695h1.8v1.6h-1.8zM866.1 698h1.8v1.6h-1.8zM866.1 702.5h1.8v1.6h-1.8zM882.7 643.9h1.8v1.6h-1.8zM899.4 636.3h1.8v1.6h-1.8zM916 640.8h1.8v1.6h-1.8zM916 642.3h1.8v1.6h-1.8zM916 648.3h1.8v1.6h-1.8zM916 649.8h1.8v1.6h-1.8zM916 651.3h1.8v1.6h-1.8zM916 696.3h1.8v1.6h-1.8z"/>
<path fill="#b4dcff" d="M207.7 263h2v1.4h-2zM219.6 268.1h2v1.4h-2zM238.8 285.2h2v1.4h-2zM286.9 280h2v1.4h-2zM292.8 280.5h2v1.4h-2zM301.8 279.6h2v1.4h-2zM303 272.3h2v1.4h-2zM303.2 269.1h2v1.4h-2zM305.2 262.3h2v1.4h-2zM343.6 233.6h2v1.4h-2zM350.4 236.3h2v1.4h-2zM361.4 242.1h2v1.4h-2zM371.5 251.2h2v1.4h-2zM372.7 252h2v1.4h-2zM373.9 252.8h2v1.4h-2zM377.6 257.9h2v1.4h-2zM408.1 271.6h2v1.4h-2zM414.5 265.4h2v1.4h-2zM585 270.2h2v1.4h-2zM597.4 271h2v1.4h-2zM599 271.4h2v1.4h-2zM614 270.4h2v1.4h-2zM248.5 305.6h2v1.4h-2zM230.1 289.1h2v1.4h-2zM171.8 315.1h2v1.4h-2zM205.8 467h2v1.4h-2zM236.5 465.3h2v1.4h-2zM269.9 474.8h2v1.4h-2zM305.9 469.4h2v1.4h-2zM310.5 459.7h2v1.4h-2zM314.5 446h2v1.4h-2zM327.6 426h2v1.4h-2zM343.1 417.3h2v1.4h-2zM393.1 445.3h2v1.4h-2zM400.3 449.3h2v1.4h-2zM410.6 457.2h2v1.4h-2zM453.4 448.4h2v1.4h-2zM480.6 453h2v1.4h-2zM501.3 452.6h2v1.4h-2zM510.1 452.4h2v1.4h-2z"/>
<path fill="#0000bf" d="M579.5 456.9h2v1.4h-2zM596.1 454.4h2v1.4h-2zM627.2 455.8h2v1.4h-2zM150.2 635h1.8v1.6h-1.8zM166.8 714.1h1.8v2.2h-1.8zM166.8 698.9h1.8v2.2h-1.8zM183.4 530.9h1.8v2.2h-1.8zM200.1 549.2h1.8v1.6h-1.8zM200.1 585.2h1.8v1.6h-1.8zM200.1 678.2h1.8v1.6h-1.8zM200.1 547h1.8v2.2h-1.8zM216.8 680.3h1.8v1.6h-1.8zM216.8 694.6h1.8v2.2h-1.8zM216.8 550.6h1.8v2.2h-1.8zM250 544.3h1.8v1.6h-1.8zM250 581.8h1.8v1.6h-1.8zM250 655.3h1.8v1.6h-1.8zM283.4 532.4h1.8v2.2h-1.8zM283.4 705.8h1.8v2.2h-1.8zM300 552.6h1.8v1.6h-1.8zM300 696.6h1.8v1.6h-1.8zM316.6 571.5h1.8v1.6h-1.8zM316.6 555.7h1.8v2.2h-1.8zM316.6 701.8h1.8v2.2h-1.8zM333.3 557.7h1.8v2.2h-1.8zM350 557.9h1.8v1.6h-1.8zM350 701.9h1.8v1.6h-1.8zM350 542.9h1.8v2.2h-1.8zM350 543.1h1.8v2.2h-1.8zM350 722.7h1.8v2.2h-1.8zM366.6 698.9h1.8v1.6h-1.8zM366.6 559.3h1.8v2.2h-1.8zM383.2 557.9h1.8v1.6h-1.8zM383.2 590.9h1.8v1.6h-1.8zM383.2 592.4h1.8v1.6h-1.8zM383.2 686.9h1.8v1.6h-1.8zM383.2 697.7h1.8v2.2h-1.8zM399.9 664.5h1.8v1.6h-1.8zM399.9 687h1.8v1.6h-1.8zM399.9 550.6h1.8v2.2h-1.8zM399.9 561.2h1.8v2.2h-1.8zM416.5 714.2h1.8v1.6h-1.8zM433.2 580.6h1.8v1.6h-1.8zM433.2 697.6h1.8v1.6h-1.8zM433.2 699.1h1.8v1.6h-1.8zM466.5 559.1h1.8v2.2h-1.8zM483.1 639.2h1.8v1.6h-1.8zM483.1 640.7h1.8v1.6h-1.8zM483.1 577.5h1.8v2.2h-1.8zM499.8 723.3h1.8v1.6h-1.8zM533.1 566.9h1.8v2.2h-1.8zM549.8 652.5h1.8v1.6h-1.8zM549.8 667.5h1.8v1.6h-1.8zM549.8 672h1.8v1.6h-1.8zM549.8 673.5h1.8v1.6h-1.8zM549.8 676.5h1.8v1.6h-1.8zM549.8 678h1.8v1.6h-1.8zM566.4 661.9h1.8v1.6h-1.8zM566.4 723.4h1.8v1.6h-1.8zM566.4 734.8h1.8v2.2h-1.8zM566.4 597.7h1.8v2.2h-1.8zM566.4 742.3h1.8v2.2h-1.8zM583 732.6h1.8v2.2h-1.8zM599.7 592.7h1.8v1.6h-1.8zM599.7 670.7h1.8v1.6h-1.8zM599.7 672.2h1.8v1.6h-1.8zM599.7 586.3h1.8v2.2h-1.8zM616.4 705.2h1.8v1.6h-1.8zM616.4 739.7h1.8v1.6h-1.8zM616.4 741.2h1.8v1.6h-1.8zM616.4 745.6h1.8v2.2h-1.8zM633 702.3h1.8v1.6h-1.8zM633 703.8h1.8v1.6h-1.8zM633 705.3h1.8v1.6h-1.8zM633 726.3h1.8v1.6h-1.8zM633 589.9h1.8v2.2h-1.8zM633 746.4h1.8v2.2h-1.8zM649.6 594.2h1.8v1.6h-1.8zM666.3 598.8h1.8v1.6h-1.8zM666.3 691.8h1.8v1.6h-1.8zM666.3 693.3h1.8v1.6h-1.8zM666.3 742.8h1.8v1.6h-1.8zM682.9 607.9h1.8v1.6h-1.8zM682.9 718.9h1.8v1.6h-1.8zM682.9 742.4h1.8v2.2h-1.8zM682.9 747.1h1.8v2.2h-1.8zM699.6 601.8h1.8v1.6h-1.8zM699.6 619.8h1.8v1.6h-1.8zM699.6 625.8h1.8v1.6h-1.8zM699.6 732.6h1.8v2.2h-1.8zM716.2 590h1.8v2.2h-1.8zM716.2 737.4h1.8v2.2h-1.8zM716.2 588.4h1.8v2.2h-1.8zM732.9 595.7h1.8v1.6h-1.8zM732.9 758.1h1.8v2.2h-1.8zM732.9 759.5h1.8v2.2h-1.8zM749.5 661.9h1.8v1.6h-1.8zM749.5 663.4h1.8v1.6h-1.8zM749.5 709.9h1.8v1.6h-1.8zM749.5 726.4h1.8v1.6h-1.8zM766.2 612.2h1.8v1.6h-1.8zM766.2 622.7h1.8v1.6h-1.8zM766.2 624.2h1.8v1.6h-1.8zM766.2 625.7h1.8v1.6h-1.8zM766.2 627.2h1.8v1.6h-1.8zM766.2 739.7h1.8v1.6h-1.8zM766.2 593.5h1.8v2.2h-1.8zM782.8 730.9h1.8v1.6h-1.8zM799.5 709.9h1.8v1.6h-1.8zM816.1 643.8h1.8v1.6h-1.8zM816.1 645.3h1.8v1.6h-1.8zM832.8 748.4h1.8v2.2h-1.8zM832.8 743.8h1.8v2.2h-1.8zM849.4 604.8h1.8v1.6h-1.8zM849.4 667.8h1.8v1.6h-1.8zM849.4 669.3h1.8v1.6h-1.8zM849.4 755.9h1.8v2.2h-1.8zM849.4 759.8h1.8v2.2h-1.8zM866.1 624.5h1.8v1.6h-1.8zM866.1 668h1.8v1.6h-1.8zM866.1 671h1.8v1.6h-1.8zM866.1 716h1.8v1.6h-1.8zM882.7 721.9h1.8v1.6h-1.8zM882.7 745.1h1.8v2.2h-1.8zM899.4 609.3h1.8v1.6h-1.8zM899.4 610.8h1.8v1.6h-1.8zM899.4 666.3h1.8v1.6h-1.8zM899.4 667.8h1.8v1.6h-1.8zM899.4 605.9h1.8v2.2h-1.8zM916 684.3h1.8v1.6h-1.8zM916 706.8h1.8v1.6h-1.8zM916 711.3h1.8v1.6h-1.8zM916 735.3h1.8v1.6h-1.8zM916 594.8h1.8v2.2h-1.8zM916 744.4h1.8v2.2h-1.8zM916 751.6h1.8v2.2h-1.8zM916 590h1.8v2.2h-1.8z"/>
<path fill="#0000ff" d="M133.5 544.5h1.8v1.6h-1.8zM150.2 539h1.8v1.6h-1.8zM150.2 657.5h1.8v1.6h-1.8zM183.4 686.5h1.8v1.6h-1.8zM200.1 550.7h1.8v1.6h-1.8zM233.4 664.3h1.8v1.6h-1.8zM250 545.8h1.8v1.6h-1.8zM266.7 552.6h1.8v1.6h-1.8zM266.7 570.6h1.8v1.6h-1.8zM266.7 671.1h1.8v1.6h-1.8zM333.3 682.5h1.8v1.6h-1.8zM350 698.9h1.8v1.6h-1.8zM416.5 588.2h1.8v1.6h-1.8zM416.5 709.7h1.8v1.6h-1.8zM516.5 576h1.8v1.6h-1.8zM533.1 579.1h1.8v1.6h-1.8zM533.1 717.1h1.8v1.6h-1.8zM566.4 609.4h1.8v1.6h-1.8zM566.4 721.9h1.8v1.6h-1.8zM599.7 667.7h1.8v1.6h-1.8zM616.4 595.7h1.8v1.6h-1.8zM616.4 706.7h1.8v1.6h-1.8zM633 604.8h1.8v1.6h-1.8zM633 621.3h1.8v1.6h-1.8zM633 712.8h1.8v1.6h-1.8zM649.6 706.7h1.8v1.6h-1.8zM649.6 723.2h1.8v1.6h-1.8zM666.3 739.8h1.8v1.6h-1.8zM682.9 733.9h1.8v1.6h-1.8zM699.6 604.8h1.8v1.6h-1.8zM716.2 633.2h1.8v1.6h-1.8zM716.2 664.7h1.8v1.6h-1.8zM732.9 741.2h1.8v1.6h-1.8zM766.2 618.2h1.8v1.6h-1.8zM782.8 613.9h1.8v1.6h-1.8zM782.8 702.4h1.8v1.6h-1.8zM816.1 606.3h1.8v1.6h-1.8zM816.1 655.8h1.8v1.6h-1.8zM832.8 727.9h1.8v1.6h-1.8zM916 606.3h1.8v1.6h-1.8z"/>
<path fill="#0020ff" d="M133.5 546h1.8v1.6h-1.8zM150.2 540.5h1.8v1.6h-1.8zM183.4 685h1.8v1.6h-1.8zM283.4 547.3h1.8v1.6h-1.8zM300 618.6h1.8v1.6h-1.8zM316.6 688.5h1.8v1.6h-1.8zM333.3 684h1.8v1.6h-1.8zM350 695.9h1.8v1.6h-1.8zM383.2 593.9h1.8v1.6h-1.8zM399.9 682.5h1.8v1.6h-1.8zM449.9 582.1h1.8v1.6h-1.8zM449.9 706.6h1.8v1.6h-1.8zM449.9 708.1h1.8v1.6h-1.8zM466.5 602.9h1.8v1.6h-1.8zM483.1 588.2h1.8v1.6h-1.8zM483.1 697.7h1.8v1.6h-1.8zM499.8 721.8h1.8v1.6h-1.8zM516.5 597h1.8v1.6h-1.8zM566.4 673.9h1.8v1.6h-1.8zM566.4 718.9h1.8v1.6h-1.8zM583 589.7h1.8v1.6h-1.8zM583 616.7h1.8v1.6h-1.8zM599.7 706.7h1.8v1.6h-1.8zM599.7 708.2h1.8v1.6h-1.8zM599.7 709.7h1.8v1.6h-1.8zM616.4 625.7h1.8v1.6h-1.8zM633 721.8h1.8v1.6h-1.8zM666.3 604.8h1.8v1.6h-1.8zM682.9 717.4h1.8v1.6h-1.8zM682.9 723.4h1.8v1.6h-1.8zM699.6 606.3h1.8v1.6h-1.8zM732.9 739.7h1.8v1.6h-1.8zM749.5 723.4h1.8v1.6h-1.8zM766.2 598.7h1.8v1.6h-1.8zM766.2 600.2h1.8v1.6h-1.8zM766.2 610.7h1.8v1.6h-1.8zM766.2 669.2h1.8v1.6h-1.8zM782.8 729.4h1.8v1.6h-1.8zM799.5 736.9h1.8v1.6h-1.8zM816.1 721.8h1.8v1.6h-1.8zM816.1 723.3h1.8v1.6h-1.8zM816.1 724.8h1.8v1.6h-1.8zM832.8 621.4h1.8v1.6h-1.8zM832.8 682.9h1.8v1.6h-1.8zM832.8 726.4h1.8v1.6h-1.8zM849.4 664.8h1.8v1.6h-1.8zM882.7 735.4h1.8v1.6h-1.8zM899.4 696.3h1.8v1.6h-1.8z"/>
<path fill="#0040ff" d="M133.5 549h1.8v1.6h-1.8zM133.5 657h1.8v1.6h-1.8zM150.2 542h1.8v1.6h-1.8zM150.2 629h1.8v1.6h-1.8zM166.8 550.3h1.8v1.6h-1.8zM166.8 644.8h1.8v1.6h-1.8zM166.8 691.3h1.8v1.6h-1.8zM183.4 542.5h1.8v1.6h-1.8zM183.4 683.5h1.8v1.6h-1.8zM216.8 567.8h1.8v1.6h-1.8zM266.7 554.1h1.8v1.6h-1.8zM316.6 576h1.8v1.6h-1.8zM333.3 693h1.8v1.6h-1.8zM350 679.4h1.8v1.6h-1.8zM366.6 673.4h1.8v1.6h-1.8zM383.2 563.9h1.8v1.6h-1.8zM449.9 586.6h1.8v1.6h-1.8zM466.5 568.4h1.8v1.6h-1.8zM516.5 579h1.8v1.6h-1.8zM533.1 580.6h1.8v1.6h-1.8zM583 636.2h1.8v1.6h-1.8zM583 658.7h1.8v1.6h-1.8zM599.7 595.7h1.8v1.6h-1.8zM599.7 612.2h1.8v1.6h-1.8zM616.4 597.2h1.8v1.6h-1.8zM616.4 700.7h1.8v1.6h-1.8zM633 640.8h1.8v1.6h-1.8zM649.6 598.7h1.8v1.6h-1.8zM649.6 721.7h1.8v1.6h-1.8zM666.3 603.3h1.8v1.6h-1.8zM682.9 610.9h1.8v1.6h-1.8zM682.9 640.9h1.8v1.6h-1.8zM682.9 642.4h1.8v1.6h-1.8zM682.9 732.4h1.8v1.6h-1.8zM699.6 607.8h1.8v1.6h-1.8zM716.2 597.2h1.8v1.6h-1.8zM716.2 637.7h1.8v1.6h-1.8zM716.2 658.7h1.8v1.6h-1.8zM716.2 720.2h1.8v1.6h-1.8zM732.9 598.7h1.8v1.6h-1.8zM732.9 690.2h1.8v1.6h-1.8zM732.9 702.2h1.8v1.6h-1.8zM749.5 628.9h1.8v1.6h-1.8zM782.8 726.4h1.8v1.6h-1.8zM816.1 720.3h1.8v1.6h-1.8zM832.8 622.9h1.8v1.6h-1.8zM832.8 633.4h1.8v1.6h-1.8zM832.8 640.9h1.8v1.6h-1.8zM832.8 724.9h1.8v1.6h-1.8zM849.4 661.8h1.8v1.6h-1.8zM849.4 738.3h1.8v1.6h-1.8zM866.1 674h1.8v1.6h-1.8zM866.1 738.5h1.8v1.6h-1.8zM882.7 622.9h1.8v1.6h-1.8zM916 732.3h1.8v1.6h-1.8z"/>
<path fill="#80ff80" d="M133.5 556.5h1.8v1.6h-1.8zM166.8 622.3h1.8v1.6h-1.8zM166.8 626.8h1.8v1.6h-1.8zM166.8 640.3h1.8v1.6h-1.8zM183.4 649h1.8v1.6h-1.8zM183.4 673h1.8v1.6h-1.8zM200.1 562.7h1.8v1.6h-1.8zM200.1 567.2h1.8v1.6h-1.8zM216.8 573.8h1.8v1.6h-1.8zM216.8 575.3h1.8v1.6h-1.8zM216.8 576.8h1.8v1.6h-1.8zM216.8 663.8h1.8v1.6h-1.8zM233.4 652.3h1.8v1.6h-1.8zM266.7 567.6h1.8v1.6h-1.8zM283.4 677.8h1.8v1.6h-1.8zM300 564.6h1.8v1.6h-1.8zM350 686.9h1.8v1.6h-1.8zM399.9 675h1.8v1.6h-1.8zM416.5 631.7h1.8v1.6h-1.8zM433.2 681.1h1.8v1.6h-1.8zM433.2 685.6h1.8v1.6h-1.8zM449.9 594.1h1.8v1.6h-1.8zM449.9 595.6h1.8v1.6h-1.8zM449.9 597.1h1.8v1.6h-1.8zM449.9 598.6h1.8v1.6h-1.8zM449.9 673.6h1.8v1.6h-1.8zM466.5 578.9h1.8v1.6h-1.8zM466.5 592.4h1.8v1.6h-1.8zM466.5 692.9h1.8v1.6h-1.8zM483.1 673.7h1.8v1.6h-1.8zM483.1 687.2h1.8v1.6h-1.8zM499.8 682.8h1.8v1.6h-1.8zM516.5 588h1.8v1.6h-1.8zM516.5 592.5h1.8v1.6h-1.8zM516.5 708h1.8v1.6h-1.8zM516.5 709.5h1.8v1.6h-1.8zM533.1 595.6h1.8v1.6h-1.8zM549.8 588h1.8v1.6h-1.8zM566.4 619.9h1.8v1.6h-1.8zM583 610.7h1.8v1.6h-1.8zM599.7 675.2h1.8v1.6h-1.8zM649.6 607.7h1.8v1.6h-1.8zM649.6 609.2h1.8v1.6h-1.8zM649.6 621.2h1.8v1.6h-1.8zM682.9 624.4h1.8v1.6h-1.8zM682.9 636.4h1.8v1.6h-1.8zM682.9 658.9h1.8v1.6h-1.8zM682.9 702.4h1.8v1.6h-1.8zM682.9 706.9h1.8v1.6h-1.8zM682.9 714.4h1.8v1.6h-1.8zM716.2 607.7h1.8v1.6h-1.8zM716.2 676.7h1.8v1.6h-1.8zM716.2 706.7h1.8v1.6h-1.8zM716.2 708.2h1.8v1.6h-1.8zM732.9 610.7h1.8v1.6h-1.8zM732.9 664.7h1.8v1.6h-1.8zM749.5 633.4h1.8v1.6h-1.8zM782.8 715.9h1.8v1.6h-1.8zM799.5 630.4h1.8v1.6h-1.8zM816.1 636.3h1.8v1.6h-1.8zM816.1 708.3h1.8v1.6h-1.8zM832.8 714.4h1.8v1.6h-1.8zM849.4 619.8h1.8v1.6h-1.8zM849.4 621.3h1.8v1.6h-1.8zM849.4 643.8h1.8v1.6h-1.8zM866.1 711.5h1.8v1.6h-1.8zM866.1 720.5h1.8v1.6h-1.8zM882.7 631.9h1.8v1.6h-1.8zM899.4 706.8h1.8v1.6h-1.8zM899.4 708.3h1.8v1.6h-1.8zM916 618.3h1.8v1.6h-1.8zM916 619.8h1.8v1.6h-1.8zM916 621.3h1.8v1.6h-1.8z"/>
<path fill="#bfff40" d="M133.5 559.5h1.8v1.6h-1.8zM150.2 555.5h1.8v1.6h-1.8zM166.8 617.8h1.8v1.6h-1.8zM166.8 673.3h1.8v1.6h-1.8zM166.8 674.8h1.8v1.6h-1.8zM166.8 676.3h1.8v1.6h-1.8zM200.1 565.7h1.8v1.6h-1.8zM200.1 663.2h1.8v1.6h-1.8zM233.4 632.8h1.8v1.6h-1.8zM233.4 650.8h1.8v1.6h-1.8zM250 559.3h1.8v1.6h-1.8zM250 632.8h1.8v1.6h-1.8zM266.7 566.1h1.8v1.6h-1.8zM266.7 615.6h1.8v1.6h-1.8zM283.4 676.3h1.8v1.6h-1.8zM300 567.6h1.8v1.6h-1.8zM333.3 588h1.8v1.6h-1.8zM333.3 645h1.8v1.6h-1.8zM333.3 675h1.8v1.6h-1.8zM333.3 676.5h1.8v1.6h-1.8zM350 578.9h1.8v1.6h-1.8zM366.6 578.9h1.8v1.6h-1.8zM399.9 580.5h1.8v1.6h-1.8zM416.5 627.2h1.8v1.6h-1.8zM416.5 697.7h1.8v1.6h-1.8zM433.2 618.1h1.8v1.6h-1.8zM449.9 672.1h1.8v1.6h-1.8zM449.9 693.1h1.8v1.6h-1.8zM449.9 694.6h1.8v1.6h-1.8zM483.1 603.2h1.8v1.6h-1.8zM483.1 633.2h1.8v1.6h-1.8zM483.1 684.2h1.8v1.6h-1.8zM499.8 706.8h1.8v1.6h-1.8zM516.5 621h1.8v1.6h-1.8zM516.5 625.5h1.8v1.6h-1.8zM533.1 600.1h1.8v1.6h-1.8zM549.8 589.5h1.8v1.6h-1.8zM549.8 681h1.8v1.6h-1.8zM549.8 693h1.8v1.6h-1.8zM566.4 628.9h1.8v1.6h-1.8zM566.4 678.4h1.8v1.6h-1.8zM566.4 709.9h1.8v1.6h-1.8zM583 679.7h1.8v1.6h-1.8zM616.4 630.2h1.8v1.6h-1.8zM666.3 616.8h1.8v1.6h-1.8zM682.9 708.4h1.8v1.6h-1.8zM716.2 621.2h1.8v1.6h-1.8zM732.9 615.2h1.8v1.6h-1.8zM749.5 658.9h1.8v1.6h-1.8zM766.2 717.2h1.8v1.6h-1.8zM799.5 723.4h1.8v1.6h-1.8zM849.4 622.8h1.8v1.6h-1.8zM849.4 627.3h1.8v1.6h-1.8zM849.4 631.8h1.8v1.6h-1.8zM849.4 655.8h1.8v1.6h-1.8zM849.4 721.8h1.8v1.6h-1.8zM866.1 663.5h1.8v1.6h-1.8zM882.7 636.4h1.8v1.6h-1.8zM882.7 696.4h1.8v1.6h-1.8zM899.4 670.8h1.8v1.6h-1.8zM899.4 684.3h1.8v1.6h-1.8zM916 622.8h1.8v1.6h-1.8z"/>
<path fill="#dfff20" d="M133.5 561h1.8v1.6h-1.8zM166.8 671.8h1.8v1.6h-1.8zM183.4 560.5h1.8v1.6h-1.8zM183.4 670h1.8v1.6h-1.8zM216.8 588.8h1.8v1.6h-1.8zM233.4 592.3h1.8v1.6h-1.8zM266.7 656.1h1.8v1.6h-1.8zM283.4 673.3h1.8v1.6h-1.8zM300 672.6h1.8v1.6h-1.8zM333.3 589.5h1.8v1.6h-1.8zM350 674.9h1.8v1.6h-1.8zM366.6 676.4h1.8v1.6h-1.8zM399.9 601.5h1.8v1.6h-1.8zM416.5 604.7h1.8v1.6h-1.8zM433.2 595.6h1.8v1.6h-1.8zM433.2 597.1h1.8v1.6h-1.8zM433.2 598.6h1.8v1.6h-1.8zM449.9 684.1h1.8v1.6h-1.8zM466.5 583.4h1.8v1.6h-1.8zM466.5 584.9h1.8v1.6h-1.8zM466.5 644.9h1.8v1.6h-1.8zM466.5 685.4h1.8v1.6h-1.8zM483.1 607.7h1.8v1.6h-1.8zM499.8 625.8h1.8v1.6h-1.8zM499.8 703.8h1.8v1.6h-1.8zM533.1 601.6h1.8v1.6h-1.8zM549.8 690h1.8v1.6h-1.8zM583 606.2h1.8v1.6h-1.8zM583 607.7h1.8v1.6h-1.8zM583 672.2h1.8v1.6h-1.8zM616.4 618.2h1.8v1.6h-1.8zM666.3 619.8h1.8v1.6h-1.8zM666.3 685.8h1.8v1.6h-1.8zM682.9 634.9h1.8v1.6h-1.8zM682.9 667.9h1.8v1.6h-1.8zM682.9 700.9h1.8v1.6h-1.8zM716.2 652.7h1.8v1.6h-1.8zM716.2 678.2h1.8v1.6h-1.8zM732.9 616.7h1.8v1.6h-1.8zM732.9 648.2h1.8v1.6h-1.8zM732.9 699.2h1.8v1.6h-1.8zM766.2 672.2h1.8v1.6h-1.8zM766.2 715.7h1.8v1.6h-1.8zM799.5 633.4h1.8v1.6h-1.8zM799.5 720.4h1.8v1.6h-1.8zM816.1 619.8h1.8v1.6h-1.8zM816.1 705.3h1.8v1.6h-1.8zM899.4 654.3h1.8v1.6h-1.8zM899.4 690.3h1.8v1.6h-1.8zM916 625.8h1.8v1.6h-1.8zM916 627.3h1.8v1.6h-1.8z"/>
<path fill="#ffbf00" d="M133.5 564h1.8v1.6h-1.8zM183.4 661h1.8v1.6h-1.8zM200.1 576.2h1.8v1.6h-1.8zM200.1 589.7h1.8v1.6h-1.8zM216.8 581.3h1.8v1.6h-1.8zM216.8 582.8h1.8v1.6h-1.8zM216.8 659.3h1.8v1.6h-1.8zM233.4 626.8h1.8v1.6h-1.8zM233.4 634.3h1.8v1.6h-1.8zM250 578.8h1.8v1.6h-1.8zM266.7 609.6h1.8v1.6h-1.8zM266.7 651.6h1.8v1.6h-1.8zM283.4 569.8h1.8v1.6h-1.8zM283.4 664.3h1.8v1.6h-1.8zM300 671.1h1.8v1.6h-1.8zM316.6 673.5h1.8v1.6h-1.8zM333.3 594h1.8v1.6h-1.8zM383.2 580.4h1.8v1.6h-1.8zM383.2 581.9h1.8v1.6h-1.8zM433.2 619.6h1.8v1.6h-1.8zM433.2 646.6h1.8v1.6h-1.8zM449.9 606.1h1.8v1.6h-1.8zM449.9 670.6h1.8v1.6h-1.8zM466.5 605.9h1.8v1.6h-1.8zM483.1 606.2h1.8v1.6h-1.8zM533.1 603.1h1.8v1.6h-1.8zM533.1 654.1h1.8v1.6h-1.8zM549.8 595.5h1.8v1.6h-1.8zM599.7 616.7h1.8v1.6h-1.8zM599.7 687.2h1.8v1.6h-1.8zM616.4 654.2h1.8v1.6h-1.8zM616.4 667.7h1.8v1.6h-1.8zM649.6 657.2h1.8v1.6h-1.8zM682.9 633.4h1.8v1.6h-1.8zM682.9 697.9h1.8v1.6h-1.8zM716.2 622.7h1.8v1.6h-1.8zM716.2 625.7h1.8v1.6h-1.8zM716.2 642.2h1.8v1.6h-1.8zM716.2 699.2h1.8v1.6h-1.8zM716.2 700.7h1.8v1.6h-1.8zM782.8 661.9h1.8v1.6h-1.8zM782.8 681.4h1.8v1.6h-1.8zM799.5 637.9h1.8v1.6h-1.8zM799.5 658.9h1.8v1.6h-1.8zM816.1 702.3h1.8v1.6h-1.8zM832.8 654.4h1.8v1.6h-1.8zM899.4 630.3h1.8v1.6h-1.8zM899.4 675.3h1.8v1.6h-1.8zM899.4 688.8h1.8v1.6h-1.8z"/>
<path fill="#ff9f00" d="M133.5 570h1.8v1.6h-1.8zM133.5 610.5h1.8v1.6h-1.8zM133.5 651h1.8v1.6h-1.8zM166.8 638.8h1.8v1.6h-1.8zM216.8 584.3h1.8v1.6h-1.8zM216.8 587.3h1.8v1.6h-1.8zM233.4 565.3h1.8v1.6h-1.8zM233.4 637.3h1.8v1.6h-1.8zM233.4 646.3h1.8v1.6h-1.8zM250 562.3h1.8v1.6h-1.8zM250 586.3h1.8v1.6h-1.8zM266.7 650.1h1.8v1.6h-1.8zM283.4 575.8h1.8v1.6h-1.8zM283.4 653.8h1.8v1.6h-1.8zM283.4 665.8h1.8v1.6h-1.8zM300 669.6h1.8v1.6h-1.8zM316.6 615h1.8v1.6h-1.8zM333.3 642h1.8v1.6h-1.8zM333.3 655.5h1.8v1.6h-1.8zM350 671.9h1.8v1.6h-1.8zM383.2 583.4h1.8v1.6h-1.8zM383.2 614.9h1.8v1.6h-1.8zM399.9 588h1.8v1.6h-1.8zM399.9 658.5h1.8v1.6h-1.8zM499.8 688.8h1.8v1.6h-1.8zM499.8 699.3h1.8v1.6h-1.8zM516.5 700.5h1.8v1.6h-1.8zM549.8 600h1.8v1.6h-1.8zM549.8 684h1.8v1.6h-1.8zM566.4 702.4h1.8v1.6h-1.8zM583 628.7h1.8v1.6h-1.8zM583 696.2h1.8v1.6h-1.8zM616.4 652.7h1.8v1.6h-1.8zM616.4 696.2h1.8v1.6h-1.8zM633 628.8h1.8v1.6h-1.8zM633 697.8h1.8v1.6h-1.8zM649.6 643.7h1.8v1.6h-1.8zM682.9 628.9h1.8v1.6h-1.8zM716.2 694.7h1.8v1.6h-1.8zM716.2 696.2h1.8v1.6h-1.8zM732.9 624.2h1.8v1.6h-1.8zM732.9 646.7h1.8v1.6h-1.8zM732.9 687.2h1.8v1.6h-1.8zM766.2 712.7h1.8v1.6h-1.8zM782.8 643.9h1.8v1.6h-1.8zM782.8 648.4h1.8v1.6h-1.8zM782.8 696.4h1.8v1.6h-1.8zM799.5 639.4h1.8v1.6h-1.8zM816.1 628.8h1.8v1.6h-1.8zM816.1 633.3h1.8v1.6h-1.8zM832.8 646.9h1.8v1.6h-1.8zM832.8 666.4h1.8v1.6h-1.8zM849.4 717.3h1.8v1.6h-1.8zM899.4 687.3h1.8v1.6h-1.8zM916 702.3h1.8v1.6h-1.8z"/>
<path fill="#ff4000" d="M133.5 571.5h1.8v1.6h-1.8zM133.5 616.5h1.8v1.6h-1.8zM133.5 630h1.8v1.6h-1.8zM133.5 648h1.8v1.6h-1.8zM150.2 561.5h1.8v1.6h-1.8zM166.8 580.3h1.8v1.6h-1.8zM200.1 652.7h1.8v1.6h-1.8zM233.4 572.8h1.8v1.6h-1.8zM250 566.8h1.8v1.6h-1.8zM250 628.3h1.8v1.6h-1.8zM266.7 576.6h1.8v1.6h-1.8zM266.7 578.1h1.8v1.6h-1.8zM266.7 617.1h1.8v1.6h-1.8zM283.4 586.3h1.8v1.6h-1.8zM300 582.6h1.8v1.6h-1.8zM300 611.1h1.8v1.6h-1.8zM316.6 666h1.8v1.6h-1.8zM350 589.4h1.8v1.6h-1.8zM350 592.4h1.8v1.6h-1.8zM383.2 610.4h1.8v1.6h-1.8zM383.2 611.9h1.8v1.6h-1.8zM383.2 628.4h1.8v1.6h-1.8zM383.2 653.9h1.8v1.6h-1.8zM416.5 613.7h1.8v1.6h-1.8zM416.5 636.2h1.8v1.6h-1.8zM416.5 654.2h1.8v1.6h-1.8zM416.5 655.7h1.8v1.6h-1.8zM433.2 640.6h1.8v1.6h-1.8zM466.5 676.4h1.8v1.6h-1.8zM483.1 630.2h1.8v1.6h-1.8zM483.1 645.2h1.8v1.6h-1.8zM516.5 691.5h1.8v1.6h-1.8zM516.5 693h1.8v1.6h-1.8zM516.5 694.5h1.8v1.6h-1.8zM549.8 606h1.8v1.6h-1.8zM549.8 610.5h1.8v1.6h-1.8zM549.8 619.5h1.8v1.6h-1.8zM549.8 640.5h1.8v1.6h-1.8zM549.8 642h1.8v1.6h-1.8zM599.7 625.7h1.8v1.6h-1.8zM599.7 640.7h1.8v1.6h-1.8zM616.4 633.2h1.8v1.6h-1.8zM616.4 640.7h1.8v1.6h-1.8zM616.4 675.2h1.8v1.6h-1.8zM616.4 679.7h1.8v1.6h-1.8zM633 652.8h1.8v1.6h-1.8zM649.6 627.2h1.8v1.6h-1.8zM649.6 634.7h1.8v1.6h-1.8zM649.6 636.2h1.8v1.6h-1.8zM649.6 642.2h1.8v1.6h-1.8zM649.6 679.7h1.8v1.6h-1.8zM649.6 684.2h1.8v1.6h-1.8zM666.3 633.3h1.8v1.6h-1.8zM682.9 694.9h1.8v1.6h-1.8zM699.6 658.8h1.8v1.6h-1.8zM699.6 670.8h1.8v1.6h-1.8zM699.6 690.3h1.8v1.6h-1.8zM716.2 645.2h1.8v1.6h-1.8zM732.9 625.7h1.8v1.6h-1.8zM766.2 633.2h1.8v1.6h-1.8zM766.2 643.7h1.8v1.6h-1.8zM766.2 645.2h1.8v1.6h-1.8zM766.2 655.7h1.8v1.6h-1.8zM766.2 703.7h1.8v1.6h-1.8zM766.2 705.2h1.8v1.6h-1.8zM782.8 646.9h1.8v1.6h-1.8zM782.8 673.9h1.8v1.6h-1.8zM782.8 675.4h1.8v1.6h-1.8zM799.5 657.4h1.8v1.6h-1.8zM816.1 678.3h1.8v1.6h-1.8zM816.1 684.3h1.8v1.6h-1.8zM816.1 696.3h1.8v1.6h-1.8zM832.8 651.4h1.8v1.6h-1.8zM832.8 667.9h1.8v1.6h-1.8zM832.8 669.4h1.8v1.6h-1.8zM832.8 702.4h1.8v1.6h-1.8zM849.4 678.3h1.8v1.6h-1.8zM849.4 706.8h1.8v1.6h-1.8zM866.1 651.5h1.8v1.6h-1.8zM866.1 653h1.8v1.6h-1.8zM866.1 654.5h1.8v1.6h-1.8zM866.1 696.5h1.8v1.6h-1.8zM866.1 707h1.8v1.6h-1.8zM882.7 645.4h1.8v1.6h-1.8zM882.7 657.4h1.8v1.6h-1.8zM882.7 658.9h1.8v1.6h-1.8zM882.7 660.4h1.8v1.6h-1.8zM882.7 661.9h1.8v1.6h-1.8zM882.7 669.4h1.8v1.6h-1.8zM899.4 633.3h1.8v1.6h-1.8zM899.4 634.8h1.8v1.6h-1.8zM916 690.3h1.8v1.6h-1.8zM916 691.8h1.8v1.6h-1.8z"/>
<path fill="#df0000" d="M133.5 573h1.8v1.6h-1.8zM133.5 583.5h1.8v1.6h-1.8zM133.5 585h1.8v1.6h-1.8zM133.5 600h1.8v1.6h-1.8zM133.5 604.5h1.8v1.6h-1.8zM133.5 619.5h1.8v1.6h-1.8zM133.5 621h1.8v1.6h-1.8zM133.5 637.5h1.8v1.6h-1.8zM133.5 646.5h1.8v1.6h-1.8zM150.2 606.5h1.8v1.6h-1.8zM166.8 593.8h1.8v1.6h-1.8zM166.8 599.8h1.8v1.6h-1.8zM166.8 601.3h1.8v1.6h-1.8zM166.8 610.3h1.8v1.6h-1.8zM166.8 614.8h1.8v1.6h-1.8zM183.4 586h1.8v1.6h-1.8zM183.4 592h1.8v1.6h-1.8zM183.4 595h1.8v1.6h-1.8zM183.4 610h1.8v1.6h-1.8zM183.4 613h1.8v1.6h-1.8zM183.4 620.5h1.8v1.6h-1.8zM183.4 622h1.8v1.6h-1.8zM183.4 628h1.8v1.6h-1.8zM183.4 638.5h1.8v1.6h-1.8zM200.1 592.7h1.8v1.6h-1.8zM200.1 603.2h1.8v1.6h-1.8zM200.1 624.2h1.8v1.6h-1.8zM216.8 611.3h1.8v1.6h-1.8zM216.8 647.3h1.8v1.6h-1.8zM233.4 596.8h1.8v1.6h-1.8zM233.4 601.3h1.8v1.6h-1.8zM233.4 607.3h1.8v1.6h-1.8zM233.4 613.3h1.8v1.6h-1.8zM233.4 614.8h1.8v1.6h-1.8zM233.4 616.3h1.8v1.6h-1.8zM250 572.8h1.8v1.6h-1.8zM250 574.3h1.8v1.6h-1.8zM250 593.8h1.8v1.6h-1.8zM250 611.8h1.8v1.6h-1.8zM250 614.8h1.8v1.6h-1.8zM250 622.3h1.8v1.6h-1.8zM250 623.8h1.8v1.6h-1.8zM266.7 591.6h1.8v1.6h-1.8zM283.4 598.3h1.8v1.6h-1.8zM283.4 607.3h1.8v1.6h-1.8zM283.4 608.8h1.8v1.6h-1.8zM300 630.6h1.8v1.6h-1.8zM300 638.1h1.8v1.6h-1.8zM316.6 627h1.8v1.6h-1.8zM316.6 639h1.8v1.6h-1.8zM316.6 642h1.8v1.6h-1.8zM333.3 598.5h1.8v1.6h-1.8zM333.3 601.5h1.8v1.6h-1.8zM333.3 624h1.8v1.6h-1.8zM350 619.4h1.8v1.6h-1.8zM350 634.4h1.8v1.6h-1.8zM350 637.4h1.8v1.6h-1.8zM350 640.4h1.8v1.6h-1.8zM350 641.9h1.8v1.6h-1.8zM350 646.4h1.8v1.6h-1.8zM350 647.9h1.8v1.6h-1.8zM366.6 634.4h1.8v1.6h-1.8zM366.6 652.4h1.8v1.6h-1.8zM366.6 653.9h1.8v1.6h-1.8zM366.6 658.4h1.8v1.6h-1.8zM366.6 664.4h1.8v1.6h-1.8zM366.6 665.9h1.8v1.6h-1.8zM383.2 601.4h1.8v1.6h-1.8zM383.2 638.9h1.8v1.6h-1.8zM399.9 594h1.8v1.6h-1.8zM399.9 628.5h1.8v1.6h-1.8zM399.9 654h1.8v1.6h-1.8zM399.9 655.5h1.8v1.6h-1.8zM416.5 616.7h1.8v1.6h-1.8zM416.5 621.2h1.8v1.6h-1.8zM416.5 643.7h1.8v1.6h-1.8zM416.5 649.7h1.8v1.6h-1.8zM416.5 681.2h1.8v1.6h-1.8zM433.2 625.6h1.8v1.6h-1.8zM433.2 655.6h1.8v1.6h-1.8zM433.2 657.1h1.8v1.6h-1.8zM433.2 658.6h1.8v1.6h-1.8zM433.2 669.1h1.8v1.6h-1.8zM449.9 627.1h1.8v1.6h-1.8zM449.9 630.1h1.8v1.6h-1.8zM449.9 660.1h1.8v1.6h-1.8zM466.5 617.9h1.8v1.6h-1.8zM466.5 629.9h1.8v1.6h-1.8zM466.5 635.9h1.8v1.6h-1.8zM466.5 655.4h1.8v1.6h-1.8zM466.5 659.9h1.8v1.6h-1.8zM466.5 668.9h1.8v1.6h-1.8zM466.5 670.4h1.8v1.6h-1.8zM483.1 621.2h1.8v1.6h-1.8zM483.1 663.2h1.8v1.6h-1.8zM499.8 648.3h1.8v1.6h-1.8zM499.8 652.8h1.8v1.6h-1.8zM499.8 660.3h1.8v1.6h-1.8zM499.8 666.3h1.8v1.6h-1.8zM499.8 667.8h1.8v1.6h-1.8zM499.8 678.3h1.8v1.6h-1.8zM516.5 634.5h1.8v1.6h-1.8zM516.5 636h1.8v1.6h-1.8zM516.5 637.5h1.8v1.6h-1.8zM516.5 648h1.8v1.6h-1.8zM516.5 669h1.8v1.6h-1.8zM516.5 673.5h1.8v1.6h-1.8zM533.1 645.1h1.8v1.6h-1.8zM533.1 648.1h1.8v1.6h-1.8zM533.1 651.1h1.8v1.6h-1.8zM533.1 664.6h1.8v1.6h-1.8zM533.1 675.1h1.8v1.6h-1.8zM583 645.2h1.8v1.6h-1.8zM583 684.2h1.8v1.6h-1.8zM599.7 636.2h1.8v1.6h-1.8zM599.7 637.7h1.8v1.6h-1.8zM616.4 649.7h1.8v1.6h-1.8zM633 670.8h1.8v1.6h-1.8zM633 682.8h1.8v1.6h-1.8zM633 691.8h1.8v1.6h-1.8zM633 693.3h1.8v1.6h-1.8zM649.6 670.7h1.8v1.6h-1.8zM666.3 639.3h1.8v1.6h-1.8zM666.3 673.8h1.8v1.6h-1.8zM682.9 649.9h1.8v1.6h-1.8zM682.9 682.9h1.8v1.6h-1.8zM699.6 639.3h1.8v1.6h-1.8zM699.6 642.3h1.8v1.6h-1.8zM699.6 645.3h1.8v1.6h-1.8zM699.6 648.3h1.8v1.6h-1.8zM699.6 664.8h1.8v1.6h-1.8zM716.2 685.7h1.8v1.6h-1.8zM732.9 634.7h1.8v1.6h-1.8zM732.9 679.7h1.8v1.6h-1.8zM732.9 684.2h1.8v1.6h-1.8zM749.5 675.4h1.8v1.6h-1.8zM749.5 676.9h1.8v1.6h-1.8zM749.5 681.4h1.8v1.6h-1.8zM749.5 690.4h1.8v1.6h-1.8zM766.2 634.7h1.8v1.6h-1.8zM766.2 636.2h1.8v1.6h-1.8zM766.2 637.7h1.8v1.6h-1.8zM766.2 652.7h1.8v1.6h-1.8zM766.2 658.7h1.8v1.6h-1.8zM766.2 678.2h1.8v1.6h-1.8zM766.2 699.2h1.8v1.6h-1.8zM782.8 666.4h1.8v1.6h-1.8zM799.5 691.9h1.8v1.6h-1.8zM799.5 693.4h1.8v1.6h-1.8zM799.5 694.9h1.8v1.6h-1.8zM799.5 699.4h1.8v1.6h-1.8zM849.4 684.3h1.8v1.6h-1.8zM849.4 690.3h1.8v1.6h-1.8zM882.7 675.4h1.8v1.6h-1.8zM882.7 679.9h1.8v1.6h-1.8zM882.7 691.9h1.8v1.6h-1.8zM882.7 706.9h1.8v1.6h-1.8zM882.7 708.4h1.8v1.6h-1.8zM916 645.3h1.8v1.6h-1.8zM916 657.3h1.8v1.6h-1.8zM916 664.8h1.8v1.6h-1.8zM916 666.3h1.8v1.6h-1.8zM916 699.3h1.8v1.6h-1.8z"/>
<path fill="#ff0000" d="M133.5 574.5h1.8v1.6h-1.8zM133.5 577.5h1.8v1.6h-1.8zM133.5 628.5h1.8v1.6h-1.8zM166.8 586.3h1.8v1.6h-1.8zM166.8 592.3h1.8v1.6h-1.8zM166.8 632.8h1.8v1.6h-1.8zM166.8 659.8h1.8v1.6h-1.8zM166.8 661.3h1.8v1.6h-1.8zM183.4 584.5h1.8v1.6h-1.8zM183.4 607h1.8v1.6h-1.8zM183.4 608.5h1.8v1.6h-1.8zM183.4 619h1.8v1.6h-1.8zM183.4 626.5h1.8v1.6h-1.8zM183.4 641.5h1.8v1.6h-1.8zM200.1 601.7h1.8v1.6h-1.8zM200.1 612.2h1.8v1.6h-1.8zM200.1 639.2h1.8v1.6h-1.8zM200.1 645.2h1.8v1.6h-1.8zM216.8 596.3h1.8v1.6h-1.8zM216.8 602.3h1.8v1.6h-1.8zM216.8 603.8h1.8v1.6h-1.8zM216.8 621.8h1.8v1.6h-1.8zM216.8 639.8h1.8v1.6h-1.8zM216.8 645.8h1.8v1.6h-1.8zM233.4 584.8h1.8v1.6h-1.8zM233.4 595.3h1.8v1.6h-1.8zM233.4 610.3h1.8v1.6h-1.8zM250 569.8h1.8v1.6h-1.8zM250 571.3h1.8v1.6h-1.8zM250 575.8h1.8v1.6h-1.8zM250 607.3h1.8v1.6h-1.8zM250 617.8h1.8v1.6h-1.8zM250 619.3h1.8v1.6h-1.8zM266.7 593.1h1.8v1.6h-1.8zM266.7 594.6h1.8v1.6h-1.8zM266.7 596.1h1.8v1.6h-1.8zM266.7 597.6h1.8v1.6h-1.8zM266.7 599.1h1.8v1.6h-1.8zM266.7 620.1h1.8v1.6h-1.8zM283.4 587.8h1.8v1.6h-1.8zM283.4 659.8h1.8v1.6h-1.8zM300 633.6h1.8v1.6h-1.8zM300 645.6h1.8v1.6h-1.8zM300 647.1h1.8v1.6h-1.8zM300 663.6h1.8v1.6h-1.8zM316.6 616.5h1.8v1.6h-1.8zM316.6 649.5h1.8v1.6h-1.8zM316.6 651h1.8v1.6h-1.8zM316.6 652.5h1.8v1.6h-1.8zM316.6 661.5h1.8v1.6h-1.8zM316.6 663h1.8v1.6h-1.8zM316.6 664.5h1.8v1.6h-1.8zM333.3 597h1.8v1.6h-1.8zM333.3 652.5h1.8v1.6h-1.8zM350 595.4h1.8v1.6h-1.8zM350 599.9h1.8v1.6h-1.8zM350 601.4h1.8v1.6h-1.8zM350 620.9h1.8v1.6h-1.8zM350 635.9h1.8v1.6h-1.8zM350 664.4h1.8v1.6h-1.8zM366.6 595.4h1.8v1.6h-1.8zM366.6 613.4h1.8v1.6h-1.8zM366.6 649.4h1.8v1.6h-1.8zM366.6 662.9h1.8v1.6h-1.8zM383.2 599.9h1.8v1.6h-1.8zM383.2 607.4h1.8v1.6h-1.8zM383.2 631.4h1.8v1.6h-1.8zM383.2 634.4h1.8v1.6h-1.8zM383.2 637.4h1.8v1.6h-1.8zM383.2 641.9h1.8v1.6h-1.8zM383.2 652.4h1.8v1.6h-1.8zM399.9 619.5h1.8v1.6h-1.8zM399.9 639h1.8v1.6h-1.8zM416.5 642.2h1.8v1.6h-1.8zM416.5 682.7h1.8v1.6h-1.8zM433.2 613.6h1.8v1.6h-1.8zM433.2 621.1h1.8v1.6h-1.8zM433.2 628.6h1.8v1.6h-1.8zM433.2 636.1h1.8v1.6h-1.8zM449.9 613.6h1.8v1.6h-1.8zM449.9 618.1h1.8v1.6h-1.8zM466.5 616.4h1.8v1.6h-1.8zM466.5 628.4h1.8v1.6h-1.8zM466.5 658.4h1.8v1.6h-1.8zM483.1 627.2h1.8v1.6h-1.8zM483.1 646.7h1.8v1.6h-1.8zM483.1 655.7h1.8v1.6h-1.8zM483.1 657.2h1.8v1.6h-1.8zM483.1 664.7h1.8v1.6h-1.8zM499.8 642.3h1.8v1.6h-1.8zM499.8 676.8h1.8v1.6h-1.8zM499.8 693.3h1.8v1.6h-1.8zM516.5 612h1.8v1.6h-1.8zM516.5 655.5h1.8v1.6h-1.8zM516.5 670.5h1.8v1.6h-1.8zM516.5 676.5h1.8v1.6h-1.8zM533.1 624.1h1.8v1.6h-1.8zM533.1 642.1h1.8v1.6h-1.8zM533.1 673.6h1.8v1.6h-1.8zM549.8 613.5h1.8v1.6h-1.8zM549.8 622.5h1.8v1.6h-1.8zM549.8 624h1.8v1.6h-1.8zM549.8 625.5h1.8v1.6h-1.8zM549.8 630h1.8v1.6h-1.8zM549.8 636h1.8v1.6h-1.8zM549.8 637.5h1.8v1.6h-1.8zM583 652.7h1.8v1.6h-1.8zM583 685.7h1.8v1.6h-1.8zM599.7 630.2h1.8v1.6h-1.8zM599.7 646.7h1.8v1.6h-1.8zM599.7 652.7h1.8v1.6h-1.8zM599.7 654.2h1.8v1.6h-1.8zM599.7 655.7h1.8v1.6h-1.8zM599.7 661.7h1.8v1.6h-1.8zM616.4 636.2h1.8v1.6h-1.8zM616.4 688.7h1.8v1.6h-1.8zM616.4 690.2h1.8v1.6h-1.8zM616.4 691.7h1.8v1.6h-1.8zM633 646.8h1.8v1.6h-1.8zM633 669.3h1.8v1.6h-1.8zM633 681.3h1.8v1.6h-1.8zM649.6 630.2h1.8v1.6h-1.8zM666.3 669.3h1.8v1.6h-1.8zM682.9 654.4h1.8v1.6h-1.8zM682.9 670.9h1.8v1.6h-1.8zM682.9 672.4h1.8v1.6h-1.8zM682.9 684.4h1.8v1.6h-1.8zM699.6 646.8h1.8v1.6h-1.8zM699.6 661.8h1.8v1.6h-1.8zM699.6 669.3h1.8v1.6h-1.8zM699.6 694.8h1.8v1.6h-1.8zM716.2 684.2h1.8v1.6h-1.8zM716.2 687.2h1.8v1.6h-1.8zM732.9 633.2h1.8v1.6h-1.8zM732.9 678.2h1.8v1.6h-1.8zM732.9 682.7h1.8v1.6h-1.8zM749.5 670.9h1.8v1.6h-1.8zM749.5 682.9h1.8v1.6h-1.8zM749.5 688.9h1.8v1.6h-1.8zM766.2 661.7h1.8v1.6h-1.8zM766.2 675.2h1.8v1.6h-1.8zM766.2 681.2h1.8v1.6h-1.8zM766.2 684.2h1.8v1.6h-1.8zM766.2 687.2h1.8v1.6h-1.8zM766.2 688.7h1.8v1.6h-1.8zM766.2 690.2h1.8v1.6h-1.8zM766.2 691.7h1.8v1.6h-1.8zM766.2 693.2h1.8v1.6h-1.8zM766.2 697.7h1.8v1.6h-1.8zM766.2 702.2h1.8v1.6h-1.8zM782.8 670.9h1.8v1.6h-1.8zM799.5 690.4h1.8v1.6h-1.8zM816.1 682.8h1.8v1.6h-1.8zM849.4 651.3h1.8v1.6h-1.8zM849.4 679.8h1.8v1.6h-1.8zM849.4 688.8h1.8v1.6h-1.8zM849.4 691.8h1.8v1.6h-1.8zM866.1 659h1.8v1.6h-1.8zM866.1 686h1.8v1.6h-1.8zM866.1 689h1.8v1.6h-1.8zM866.1 690.5h1.8v1.6h-1.8zM882.7 646.9h1.8v1.6h-1.8zM882.7 655.9h1.8v1.6h-1.8zM882.7 670.9h1.8v1.6h-1.8zM882.7 693.4h1.8v1.6h-1.8zM882.7 705.4h1.8v1.6h-1.8zM916 673.8h1.8v1.6h-1.8z"/>
<path fill="#8f0000" d="M133.5 588h1.8v1.6h-1.8zM133.5 624h1.8v1.6h-1.8zM133.5 640.5h1.8v1.6h-1.8zM133.5 642h1.8v1.6h-1.8zM133.5 643.5h1.8v1.6h-1.8zM133.5 645h1.8v1.6h-1.8zM150.2 569h1.8v1.6h-1.8zM150.2 570.5h1.8v1.6h-1.8zM150.2 572h1.8v1.6h-1.8zM150.2 573.5h1.8v1.6h-1.8zM150.2 579.5h1.8v1.6h-1.8zM150.2 581h1.8v1.6h-1.8zM150.2 582.5h1.8v1.6h-1.8zM150.2 584h1.8v1.6h-1.8zM150.2 585.5h1.8v1.6h-1.8zM150.2 600.5h1.8v1.6h-1.8zM150.2 602h1.8v1.6h-1.8zM150.2 603.5h1.8v1.6h-1.8zM150.2 609.5h1.8v1.6h-1.8zM150.2 611h1.8v1.6h-1.8zM150.2 612.5h1.8v1.6h-1.8zM150.2 621.5h1.8v1.6h-1.8zM150.2 623h1.8v1.6h-1.8zM166.8 655.3h1.8v1.6h-1.8zM200.1 615.2h1.8v1.6h-1.8zM266.7 602.1h1.8v1.6h-1.8zM266.7 603.6h1.8v1.6h-1.8zM266.7 605.1h1.8v1.6h-1.8zM266.7 623.1h1.8v1.6h-1.8zM266.7 635.1h1.8v1.6h-1.8zM283.4 613.3h1.8v1.6h-1.8zM283.4 620.8h1.8v1.6h-1.8zM283.4 622.3h1.8v1.6h-1.8zM283.4 623.8h1.8v1.6h-1.8zM283.4 628.3h1.8v1.6h-1.8zM283.4 629.8h1.8v1.6h-1.8zM283.4 632.8h1.8v1.6h-1.8zM283.4 634.3h1.8v1.6h-1.8zM283.4 635.8h1.8v1.6h-1.8zM283.4 641.8h1.8v1.6h-1.8zM283.4 643.3h1.8v1.6h-1.8zM283.4 644.8h1.8v1.6h-1.8zM300 597.6h1.8v1.6h-1.8zM300 599.1h1.8v1.6h-1.8zM300 650.1h1.8v1.6h-1.8zM333.3 606h1.8v1.6h-1.8zM333.3 607.5h1.8v1.6h-1.8zM333.3 636h1.8v1.6h-1.8zM350 656.9h1.8v1.6h-1.8zM366.6 599.9h1.8v1.6h-1.8zM399.9 610.5h1.8v1.6h-1.8zM399.9 612h1.8v1.6h-1.8zM399.9 613.5h1.8v1.6h-1.8zM399.9 615h1.8v1.6h-1.8zM399.9 643.5h1.8v1.6h-1.8zM516.5 631.5h1.8v1.6h-1.8zM516.5 658.5h1.8v1.6h-1.8z"/>
<path fill="#bf0000" d="M133.5 589.5h1.8v1.6h-1.8zM150.2 567.5h1.8v1.6h-1.8zM150.2 576.5h1.8v1.6h-1.8zM150.2 597.5h1.8v1.6h-1.8zM150.2 617h1.8v1.6h-1.8zM166.8 595.3h1.8v1.6h-1.8zM166.8 596.8h1.8v1.6h-1.8zM166.8 605.8h1.8v1.6h-1.8zM166.8 608.8h1.8v1.6h-1.8zM166.8 611.8h1.8v1.6h-1.8zM183.4 589h1.8v1.6h-1.8zM183.4 596.5h1.8v1.6h-1.8zM183.4 611.5h1.8v1.6h-1.8zM183.4 629.5h1.8v1.6h-1.8zM200.1 604.7h1.8v1.6h-1.8zM200.1 618.2h1.8v1.6h-1.8zM200.1 625.7h1.8v1.6h-1.8zM216.8 633.8h1.8v1.6h-1.8zM233.4 619.3h1.8v1.6h-1.8zM233.4 620.8h1.8v1.6h-1.8zM233.4 622.3h1.8v1.6h-1.8zM250 589.3h1.8v1.6h-1.8zM266.7 582.6h1.8v1.6h-1.8zM266.7 588.6h1.8v1.6h-1.8zM266.7 600.6h1.8v1.6h-1.8zM266.7 621.6h1.8v1.6h-1.8zM266.7 630.6h1.8v1.6h-1.8zM266.7 638.1h1.8v1.6h-1.8zM266.7 639.6h1.8v1.6h-1.8zM266.7 641.1h1.8v1.6h-1.8zM283.4 596.8h1.8v1.6h-1.8zM283.4 602.8h1.8v1.6h-1.8zM283.4 604.3h1.8v1.6h-1.8zM283.4 646.3h1.8v1.6h-1.8zM300 593.1h1.8v1.6h-1.8zM300 639.6h1.8v1.6h-1.8zM300 648.6h1.8v1.6h-1.8zM300 651.6h1.8v1.6h-1.8zM316.6 619.5h1.8v1.6h-1.8zM316.6 625.5h1.8v1.6h-1.8zM333.3 604.5h1.8v1.6h-1.8zM333.3 610.5h1.8v1.6h-1.8zM333.3 622.5h1.8v1.6h-1.8zM333.3 631.5h1.8v1.6h-1.8zM333.3 639h1.8v1.6h-1.8zM350 604.4h1.8v1.6h-1.8zM350 650.9h1.8v1.6h-1.8zM350 659.9h1.8v1.6h-1.8zM366.6 602.9h1.8v1.6h-1.8zM366.6 604.4h1.8v1.6h-1.8zM366.6 605.9h1.8v1.6h-1.8zM366.6 625.4h1.8v1.6h-1.8zM366.6 626.9h1.8v1.6h-1.8zM366.6 641.9h1.8v1.6h-1.8zM366.6 655.4h1.8v1.6h-1.8zM399.9 595.5h1.8v1.6h-1.8zM399.9 627h1.8v1.6h-1.8zM399.9 630h1.8v1.6h-1.8zM416.5 618.2h1.8v1.6h-1.8zM416.5 624.2h1.8v1.6h-1.8zM416.5 648.2h1.8v1.6h-1.8zM433.2 622.6h1.8v1.6h-1.8zM433.2 624.1h1.8v1.6h-1.8zM433.2 637.6h1.8v1.6h-1.8zM433.2 661.6h1.8v1.6h-1.8zM433.2 663.1h1.8v1.6h-1.8zM433.2 664.6h1.8v1.6h-1.8zM449.9 616.6h1.8v1.6h-1.8zM449.9 645.1h1.8v1.6h-1.8zM449.9 648.1h1.8v1.6h-1.8zM449.9 649.6h1.8v1.6h-1.8zM449.9 663.1h1.8v1.6h-1.8zM449.9 667.6h1.8v1.6h-1.8zM466.5 611.9h1.8v1.6h-1.8zM466.5 619.4h1.8v1.6h-1.8zM466.5 631.4h1.8v1.6h-1.8zM466.5 637.4h1.8v1.6h-1.8zM466.5 649.4h1.8v1.6h-1.8zM466.5 653.9h1.8v1.6h-1.8zM466.5 661.4h1.8v1.6h-1.8zM499.8 649.8h1.8v1.6h-1.8zM499.8 655.8h1.8v1.6h-1.8zM499.8 663.3h1.8v1.6h-1.8zM516.5 615h1.8v1.6h-1.8zM516.5 639h1.8v1.6h-1.8zM516.5 649.5h1.8v1.6h-1.8zM516.5 657h1.8v1.6h-1.8zM516.5 664.5h1.8v1.6h-1.8zM516.5 666h1.8v1.6h-1.8zM516.5 667.5h1.8v1.6h-1.8zM533.1 613.6h1.8v1.6h-1.8zM533.1 622.6h1.8v1.6h-1.8zM533.1 634.6h1.8v1.6h-1.8zM533.1 663.1h1.8v1.6h-1.8zM533.1 682.6h1.8v1.6h-1.8zM583 646.7h1.8v1.6h-1.8zM583 651.2h1.8v1.6h-1.8zM633 673.8h1.8v1.6h-1.8zM633 685.8h1.8v1.6h-1.8zM666.3 642.3h1.8v1.6h-1.8zM666.3 646.8h1.8v1.6h-1.8zM666.3 670.8h1.8v1.6h-1.8zM682.9 651.4h1.8v1.6h-1.8zM682.9 652.9h1.8v1.6h-1.8zM682.9 681.4h1.8v1.6h-1.8zM699.6 643.8h1.8v1.6h-1.8zM699.6 649.8h1.8v1.6h-1.8zM732.9 637.7h1.8v1.6h-1.8zM782.8 669.4h1.8v1.6h-1.8zM799.5 696.4h1.8v1.6h-1.8zM882.7 681.4h1.8v1.6h-1.8z"/>
<path fill="#9f0000" d="M133.5 594h1.8v1.6h-1.8zM133.5 639h1.8v1.6h-1.8zM150.2 575h1.8v1.6h-1.8zM150.2 587h1.8v1.6h-1.8zM150.2 591.5h1.8v1.6h-1.8zM150.2 593h1.8v1.6h-1.8zM150.2 594.5h1.8v1.6h-1.8zM150.2 605h1.8v1.6h-1.8zM150.2 614h1.8v1.6h-1.8zM166.8 583.3h1.8v1.6h-1.8zM166.8 589.3h1.8v1.6h-1.8zM166.8 607.3h1.8v1.6h-1.8zM183.4 632.5h1.8v1.6h-1.8zM183.4 634h1.8v1.6h-1.8zM200.1 606.2h1.8v1.6h-1.8zM216.8 606.8h1.8v1.6h-1.8zM216.8 636.8h1.8v1.6h-1.8zM250 595.3h1.8v1.6h-1.8zM250 601.3h1.8v1.6h-1.8zM266.7 584.1h1.8v1.6h-1.8zM266.7 624.6h1.8v1.6h-1.8zM266.7 629.1h1.8v1.6h-1.8zM266.7 636.6h1.8v1.6h-1.8zM283.4 595.3h1.8v1.6h-1.8zM283.4 619.3h1.8v1.6h-1.8zM283.4 626.8h1.8v1.6h-1.8zM283.4 631.3h1.8v1.6h-1.8zM283.4 637.3h1.8v1.6h-1.8zM283.4 638.8h1.8v1.6h-1.8zM283.4 640.3h1.8v1.6h-1.8zM300 596.1h1.8v1.6h-1.8zM300 641.1h1.8v1.6h-1.8zM300 659.1h1.8v1.6h-1.8zM316.6 622.5h1.8v1.6h-1.8zM316.6 643.5h1.8v1.6h-1.8zM333.3 609h1.8v1.6h-1.8zM333.3 633h1.8v1.6h-1.8zM333.3 634.5h1.8v1.6h-1.8zM333.3 637.5h1.8v1.6h-1.8zM350 605.9h1.8v1.6h-1.8zM350 614.9h1.8v1.6h-1.8zM350 625.4h1.8v1.6h-1.8zM350 626.9h1.8v1.6h-1.8zM350 658.4h1.8v1.6h-1.8zM366.6 601.4h1.8v1.6h-1.8zM366.6 608.9h1.8v1.6h-1.8zM366.6 610.4h1.8v1.6h-1.8zM366.6 611.9h1.8v1.6h-1.8zM366.6 629.9h1.8v1.6h-1.8zM366.6 637.4h1.8v1.6h-1.8zM366.6 638.9h1.8v1.6h-1.8zM366.6 656.9h1.8v1.6h-1.8zM399.9 607.5h1.8v1.6h-1.8zM399.9 609h1.8v1.6h-1.8zM399.9 625.5h1.8v1.6h-1.8zM399.9 631.5h1.8v1.6h-1.8zM449.9 643.6h1.8v1.6h-1.8zM449.9 664.6h1.8v1.6h-1.8zM466.5 622.4h1.8v1.6h-1.8zM466.5 623.9h1.8v1.6h-1.8zM466.5 652.4h1.8v1.6h-1.8zM499.8 661.8h1.8v1.6h-1.8zM516.5 616.5h1.8v1.6h-1.8zM533.1 619.6h1.8v1.6h-1.8zM533.1 679.6h1.8v1.6h-1.8zM583 648.2h1.8v1.6h-1.8zM682.9 679.9h1.8v1.6h-1.8z"/>
<path fill="#ff8000" d="M133.5 636h1.8v1.6h-1.8zM166.8 649.3h1.8v1.6h-1.8zM183.4 565h1.8v1.6h-1.8zM183.4 569.5h1.8v1.6h-1.8zM183.4 646h1.8v1.6h-1.8zM250 565.3h1.8v1.6h-1.8zM300 575.1h1.8v1.6h-1.8zM300 576.6h1.8v1.6h-1.8zM300 578.1h1.8v1.6h-1.8zM300 579.6h1.8v1.6h-1.8zM316.6 667.5h1.8v1.6h-1.8zM366.6 668.9h1.8v1.6h-1.8zM399.9 604.5h1.8v1.6h-1.8zM416.5 690.2h1.8v1.6h-1.8zM433.2 672.1h1.8v1.6h-1.8zM449.9 609.1h1.8v1.6h-1.8zM483.1 618.2h1.8v1.6h-1.8zM499.8 637.8h1.8v1.6h-1.8zM499.8 681.3h1.8v1.6h-1.8zM533.1 607.6h1.8v1.6h-1.8zM533.1 688.6h1.8v1.6h-1.8zM549.8 604.5h1.8v1.6h-1.8zM599.7 685.7h1.8v1.6h-1.8zM616.4 631.7h1.8v1.6h-1.8zM633 634.8h1.8v1.6h-1.8zM649.6 667.7h1.8v1.6h-1.8zM649.6 691.7h1.8v1.6h-1.8zM649.6 693.2h1.8v1.6h-1.8zM666.3 627.3h1.8v1.6h-1.8zM716.2 643.7h1.8v1.6h-1.8zM716.2 651.2h1.8v1.6h-1.8zM732.9 712.7h1.8v1.6h-1.8zM732.9 717.2h1.8v1.6h-1.8zM766.2 709.7h1.8v1.6h-1.8zM782.8 663.4h1.8v1.6h-1.8zM782.8 679.9h1.8v1.6h-1.8zM799.5 640.9h1.8v1.6h-1.8zM816.1 630.3h1.8v1.6h-1.8zM816.1 688.8h1.8v1.6h-1.8zM816.1 699.3h1.8v1.6h-1.8zM832.8 675.4h1.8v1.6h-1.8zM832.8 705.4h1.8v1.6h-1.8zM866.1 650h1.8v1.6h-1.8zM866.1 708.5h1.8v1.6h-1.8zM882.7 640.9h1.8v1.6h-1.8zM882.7 694.9h1.8v1.6h-1.8zM899.4 631.8h1.8v1.6h-1.8zM899.4 673.8h1.8v1.6h-1.8zM916 636.3h1.8v1.6h-1.8zM916 678.3h1.8v1.6h-1.8z"/>
<path fill="#ff6000" d="M133.5 649.5h1.8v1.6h-1.8zM150.2 558.5h1.8v1.6h-1.8zM166.8 574.3h1.8v1.6h-1.8zM166.8 616.3h1.8v1.6h-1.8zM183.4 568h1.8v1.6h-1.8zM183.4 644.5h1.8v1.6h-1.8zM216.8 656.3h1.8v1.6h-1.8zM233.4 569.8h1.8v1.6h-1.8zM266.7 648.6h1.8v1.6h-1.8zM283.4 572.8h1.8v1.6h-1.8zM283.4 574.3h1.8v1.6h-1.8zM300 602.1h1.8v1.6h-1.8zM333.3 595.5h1.8v1.6h-1.8zM333.3 648h1.8v1.6h-1.8zM350 590.9h1.8v1.6h-1.8zM383.2 598.4h1.8v1.6h-1.8zM383.2 613.4h1.8v1.6h-1.8zM399.9 633h1.8v1.6h-1.8zM416.5 673.7h1.8v1.6h-1.8zM416.5 685.7h1.8v1.6h-1.8zM433.2 604.6h1.8v1.6h-1.8zM449.9 610.6h1.8v1.6h-1.8zM466.5 679.4h1.8v1.6h-1.8zM516.5 603h1.8v1.6h-1.8zM516.5 627h1.8v1.6h-1.8zM533.1 604.6h1.8v1.6h-1.8zM549.8 601.5h1.8v1.6h-1.8zM566.4 642.4h1.8v1.6h-1.8zM583 640.7h1.8v1.6h-1.8zM583 667.7h1.8v1.6h-1.8zM583 690.2h1.8v1.6h-1.8zM599.7 621.2h1.8v1.6h-1.8zM599.7 649.7h1.8v1.6h-1.8zM616.4 676.7h1.8v1.6h-1.8zM616.4 694.7h1.8v1.6h-1.8zM649.6 673.7h1.8v1.6h-1.8zM649.6 675.2h1.8v1.6h-1.8zM682.9 648.4h1.8v1.6h-1.8zM699.6 696.3h1.8v1.6h-1.8zM716.2 693.2h1.8v1.6h-1.8zM732.9 673.7h1.8v1.6h-1.8zM732.9 714.2h1.8v1.6h-1.8zM732.9 715.7h1.8v1.6h-1.8zM766.2 663.2h1.8v1.6h-1.8zM766.2 673.7h1.8v1.6h-1.8zM766.2 708.2h1.8v1.6h-1.8zM782.8 693.4h1.8v1.6h-1.8zM782.8 694.9h1.8v1.6h-1.8zM816.1 672.3h1.8v1.6h-1.8zM816.1 697.8h1.8v1.6h-1.8zM832.8 672.4h1.8v1.6h-1.8zM832.8 700.9h1.8v1.6h-1.8zM849.4 715.8h1.8v1.6h-1.8zM866.1 693.5h1.8v1.6h-1.8zM866.1 701h1.8v1.6h-1.8zM882.7 642.4h1.8v1.6h-1.8zM882.7 703.9h1.8v1.6h-1.8zM899.4 642.3h1.8v1.6h-1.8zM916 637.8h1.8v1.6h-1.8zM916 639.3h1.8v1.6h-1.8zM916 660.3h1.8v1.6h-1.8zM916 693.3h1.8v1.6h-1.8zM916 694.8h1.8v1.6h-1.8z"/>
<path fill="#00dfff" d="M133.5 660h1.8v1.6h-1.8zM166.8 554.8h1.8v1.6h-1.8zM166.8 563.8h1.8v1.6h-1.8zM166.8 641.8h1.8v1.6h-1.8zM183.4 680.5h1.8v1.6h-1.8zM200.1 558.2h1.8v1.6h-1.8zM200.1 570.2h1.8v1.6h-1.8zM233.4 551.8h1.8v1.6h-1.8zM250 551.8h1.8v1.6h-1.8zM250 584.8h1.8v1.6h-1.8zM266.7 665.1h1.8v1.6h-1.8zM283.4 578.8h1.8v1.6h-1.8zM333.3 679.5h1.8v1.6h-1.8zM333.3 690h1.8v1.6h-1.8zM350 569.9h1.8v1.6h-1.8zM366.6 682.4h1.8v1.6h-1.8zM366.6 683.9h1.8v1.6h-1.8zM366.6 691.4h1.8v1.6h-1.8zM383.2 665.9h1.8v1.6h-1.8zM399.9 574.5h1.8v1.6h-1.8zM416.5 594.2h1.8v1.6h-1.8zM416.5 702.2h1.8v1.6h-1.8zM449.9 702.1h1.8v1.6h-1.8zM466.5 571.4h1.8v1.6h-1.8zM466.5 590.9h1.8v1.6h-1.8zM483.1 642.2h1.8v1.6h-1.8zM516.5 712.5h1.8v1.6h-1.8zM516.5 714h1.8v1.6h-1.8zM516.5 715.5h1.8v1.6h-1.8zM533.1 588.1h1.8v1.6h-1.8zM549.8 582h1.8v1.6h-1.8zM566.4 615.4h1.8v1.6h-1.8zM566.4 652.9h1.8v1.6h-1.8zM566.4 712.9h1.8v1.6h-1.8zM599.7 703.7h1.8v1.6h-1.8zM616.4 658.7h1.8v1.6h-1.8zM633 612.3h1.8v1.6h-1.8zM682.9 715.9h1.8v1.6h-1.8zM699.6 715.8h1.8v1.6h-1.8zM716.2 601.7h1.8v1.6h-1.8zM716.2 612.2h1.8v1.6h-1.8zM732.9 732.2h1.8v1.6h-1.8zM749.5 631.9h1.8v1.6h-1.8zM766.2 730.7h1.8v1.6h-1.8zM782.8 619.9h1.8v1.6h-1.8zM782.8 657.4h1.8v1.6h-1.8zM782.8 703.9h1.8v1.6h-1.8zM799.5 712.9h1.8v1.6h-1.8zM799.5 729.4h1.8v1.6h-1.8zM816.1 637.8h1.8v1.6h-1.8zM816.1 715.8h1.8v1.6h-1.8zM832.8 720.4h1.8v1.6h-1.8zM849.4 735.3h1.8v1.6h-1.8zM882.7 699.4h1.8v1.6h-1.8zM899.4 657.3h1.8v1.6h-1.8z"/>
<path fill="#9fff60" d="M133.5 663h1.8v1.6h-1.8zM200.1 564.2h1.8v1.6h-1.8zM200.1 661.7h1.8v1.6h-1.8zM216.8 665.3h1.8v1.6h-1.8zM216.8 666.8h1.8v1.6h-1.8zM233.4 562.3h1.8v1.6h-1.8zM250 557.8h1.8v1.6h-1.8zM266.7 564.6h1.8v1.6h-1.8zM300 566.1h1.8v1.6h-1.8zM333.3 657h1.8v1.6h-1.8zM383.2 574.4h1.8v1.6h-1.8zM399.9 579h1.8v1.6h-1.8zM399.9 634.5h1.8v1.6h-1.8zM416.5 603.2h1.8v1.6h-1.8zM416.5 699.2h1.8v1.6h-1.8zM449.9 675.1h1.8v1.6h-1.8zM466.5 586.4h1.8v1.6h-1.8zM466.5 691.4h1.8v1.6h-1.8zM483.1 601.7h1.8v1.6h-1.8zM483.1 685.7h1.8v1.6h-1.8zM499.8 708.3h1.8v1.6h-1.8zM516.5 591h1.8v1.6h-1.8zM516.5 705h1.8v1.6h-1.8zM533.1 598.6h1.8v1.6h-1.8zM533.1 700.6h1.8v1.6h-1.8zM549.8 658.5h1.8v1.6h-1.8zM549.8 691.5h1.8v1.6h-1.8zM549.8 697.5h1.8v1.6h-1.8zM566.4 622.9h1.8v1.6h-1.8zM583 604.7h1.8v1.6h-1.8zM583 700.7h1.8v1.6h-1.8zM616.4 619.7h1.8v1.6h-1.8zM666.3 613.8h1.8v1.6h-1.8zM716.2 628.7h1.8v1.6h-1.8zM732.9 726.2h1.8v1.6h-1.8zM782.8 651.4h1.8v1.6h-1.8zM782.8 690.4h1.8v1.6h-1.8zM782.8 714.4h1.8v1.6h-1.8zM799.5 631.9h1.8v1.6h-1.8zM799.5 721.9h1.8v1.6h-1.8zM832.8 712.9h1.8v1.6h-1.8zM849.4 723.3h1.8v1.6h-1.8zM866.1 641h1.8v1.6h-1.8zM899.4 655.8h1.8v1.6h-1.8zM899.4 676.8h1.8v1.6h-1.8zM916 679.8h1.8v1.6h-1.8z"/>
<path fill="#60ff9f" d="M133.5 666h1.8v1.6h-1.8zM150.2 551h1.8v1.6h-1.8zM150.2 627.5h1.8v1.6h-1.8zM150.2 639.5h1.8v1.6h-1.8zM150.2 648.5h1.8v1.6h-1.8zM166.8 557.8h1.8v1.6h-1.8zM183.4 656.5h1.8v1.6h-1.8zM233.4 556.3h1.8v1.6h-1.8zM233.4 653.8h1.8v1.6h-1.8zM250 641.8h1.8v1.6h-1.8zM266.7 660.6h1.8v1.6h-1.8zM266.7 662.1h1.8v1.6h-1.8zM283.4 557.8h1.8v1.6h-1.8zM283.4 583.3h1.8v1.6h-1.8zM283.4 649.3h1.8v1.6h-1.8zM300 563.1h1.8v1.6h-1.8zM300 683.1h1.8v1.6h-1.8zM316.6 583.5h1.8v1.6h-1.8zM316.6 585h1.8v1.6h-1.8zM316.6 600h1.8v1.6h-1.8zM333.3 583.5h1.8v1.6h-1.8zM333.3 585h1.8v1.6h-1.8zM333.3 673.5h1.8v1.6h-1.8zM333.3 678h1.8v1.6h-1.8zM350 575.9h1.8v1.6h-1.8zM366.6 577.4h1.8v1.6h-1.8zM433.2 678.1h1.8v1.6h-1.8zM433.2 679.6h1.8v1.6h-1.8zM449.9 682.6h1.8v1.6h-1.8zM483.1 597.2h1.8v1.6h-1.8zM483.1 688.7h1.8v1.6h-1.8zM533.1 702.1h1.8v1.6h-1.8zM566.4 618.4h1.8v1.6h-1.8zM583 601.7h1.8v1.6h-1.8zM583 657.2h1.8v1.6h-1.8zM583 675.2h1.8v1.6h-1.8zM583 678.2h1.8v1.6h-1.8zM616.4 613.7h1.8v1.6h-1.8zM616.4 721.7h1.8v1.6h-1.8zM616.4 723.2h1.8v1.6h-1.8zM616.4 724.7h1.8v1.6h-1.8zM649.6 612.2h1.8v1.6h-1.8zM666.3 664.8h1.8v1.6h-1.8zM682.9 622.9h1.8v1.6h-1.8zM699.6 678.3h1.8v1.6h-1.8zM716.2 711.2h1.8v1.6h-1.8zM749.5 622.9h1.8v1.6h-1.8zM749.5 624.4h1.8v1.6h-1.8zM766.2 723.2h1.8v1.6h-1.8zM766.2 724.7h1.8v1.6h-1.8zM782.8 684.4h1.8v1.6h-1.8zM782.8 718.9h1.8v1.6h-1.8zM799.5 628.9h1.8v1.6h-1.8zM799.5 660.4h1.8v1.6h-1.8zM799.5 726.4h1.8v1.6h-1.8zM816.1 613.8h1.8v1.6h-1.8zM816.1 709.8h1.8v1.6h-1.8zM832.8 679.9h1.8v1.6h-1.8zM849.4 657.3h1.8v1.6h-1.8zM866.1 726.5h1.8v1.6h-1.8zM882.7 700.9h1.8v1.6h-1.8zM899.4 682.8h1.8v1.6h-1.8zM916 616.8h1.8v1.6h-1.8z"/>
<path fill="#0080ff" d="M133.5 673.5h1.8v1.6h-1.8zM166.8 686.8h1.8v1.6h-1.8zM183.4 544h1.8v1.6h-1.8zM183.4 556h1.8v1.6h-1.8zM183.4 652h1.8v1.6h-1.8zM250 548.8h1.8v1.6h-1.8zM266.7 555.6h1.8v1.6h-1.8zM283.4 550.3h1.8v1.6h-1.8zM283.4 688.3h1.8v1.6h-1.8zM300 678.6h1.8v1.6h-1.8zM300 690.6h1.8v1.6h-1.8zM316.6 577.5h1.8v1.6h-1.8zM333.3 577.5h1.8v1.6h-1.8zM350 566.9h1.8v1.6h-1.8zM350 694.4h1.8v1.6h-1.8zM366.6 572.9h1.8v1.6h-1.8zM366.6 694.4h1.8v1.6h-1.8zM383.2 667.4h1.8v1.6h-1.8zM466.5 697.4h1.8v1.6h-1.8zM466.5 698.9h1.8v1.6h-1.8zM466.5 700.4h1.8v1.6h-1.8zM483.1 591.2h1.8v1.6h-1.8zM549.8 579h1.8v1.6h-1.8zM566.4 613.9h1.8v1.6h-1.8zM566.4 664.9h1.8v1.6h-1.8zM566.4 669.4h1.8v1.6h-1.8zM583 613.7h1.8v1.6h-1.8zM583 709.7h1.8v1.6h-1.8zM599.7 600.2h1.8v1.6h-1.8zM599.7 705.2h1.8v1.6h-1.8zM616.4 733.7h1.8v1.6h-1.8zM633 616.8h1.8v1.6h-1.8zM633 622.8h1.8v1.6h-1.8zM649.6 663.2h1.8v1.6h-1.8zM682.9 639.4h1.8v1.6h-1.8zM682.9 726.4h1.8v1.6h-1.8zM682.9 729.4h1.8v1.6h-1.8zM682.9 730.9h1.8v1.6h-1.8zM699.6 717.3h1.8v1.6h-1.8zM716.2 615.2h1.8v1.6h-1.8zM732.9 603.2h1.8v1.6h-1.8zM799.5 624.4h1.8v1.6h-1.8zM832.8 624.4h1.8v1.6h-1.8zM832.8 721.9h1.8v1.6h-1.8zM882.7 729.4h1.8v1.6h-1.8zM899.4 718.8h1.8v1.6h-1.8zM916 715.8h1.8v1.6h-1.8zM916 729.3h1.8v1.6h-1.8z"/>
<path fill="#0000df" d="M133.5 696.4h1.8v2.2h-1.8zM150.2 533h1.8v2.2h-1.8zM150.2 529h1.8v2.2h-1.8zM166.8 547.3h1.8v1.6h-1.8zM166.8 542h1.8v2.2h-1.8zM200.1 582.2h1.8v1.6h-1.8zM200.1 675.2h1.8v1.6h-1.8zM216.8 563.3h1.8v1.6h-1.8zM216.8 564.8h1.8v1.6h-1.8zM233.4 667.3h1.8v1.6h-1.8zM250 653.8h1.8v1.6h-1.8zM266.7 678.3h1.8v2.2h-1.8zM283.4 532.7h1.8v2.2h-1.8zM300 554.1h1.8v1.6h-1.8zM300 695.1h1.8v1.6h-1.8zM316.6 710.2h1.8v2.2h-1.8zM333.3 571.5h1.8v1.6h-1.8zM333.3 696h1.8v1.6h-1.8zM333.3 697.5h1.8v1.6h-1.8zM333.3 699h1.8v1.6h-1.8zM366.6 697.4h1.8v1.6h-1.8zM366.6 553.4h1.8v2.2h-1.8zM383.2 685.4h1.8v1.6h-1.8zM399.9 568.5h1.8v1.6h-1.8zM399.9 684h1.8v1.6h-1.8zM399.9 701.1h1.8v2.2h-1.8zM416.5 586.7h1.8v1.6h-1.8zM416.5 728h1.8v2.2h-1.8zM433.2 582.1h1.8v1.6h-1.8zM433.2 574.8h1.8v2.2h-1.8zM433.2 573.9h1.8v2.2h-1.8zM449.9 725.2h1.8v2.2h-1.8zM466.5 565.4h1.8v1.6h-1.8zM466.5 716.5h1.8v2.2h-1.8zM499.8 604.8h1.8v1.6h-1.8zM499.8 606.3h1.8v1.6h-1.8zM499.8 607.8h1.8v1.6h-1.8zM499.8 598.8h1.8v2.2h-1.8zM499.8 743.5h1.8v2.2h-1.8zM516.5 571.5h1.8v1.6h-1.8zM549.8 574.5h1.8v1.6h-1.8zM549.8 719.5h1.8v2.2h-1.8zM549.8 724.6h1.8v2.2h-1.8zM549.8 729.3h1.8v2.2h-1.8zM566.4 663.4h1.8v1.6h-1.8zM566.4 728.1h1.8v2.2h-1.8zM616.4 594.2h1.8v1.6h-1.8zM616.4 736.7h1.8v1.6h-1.8zM616.4 756.5h1.8v2.2h-1.8zM616.4 755.9h1.8v2.2h-1.8zM633 723.3h1.8v1.6h-1.8zM649.6 578.1h1.8v2.2h-1.8zM649.6 740.2h1.8v2.2h-1.8zM666.3 600.3h1.8v1.6h-1.8zM666.3 690.3h1.8v1.6h-1.8zM666.3 703.8h1.8v1.6h-1.8zM682.9 609.4h1.8v1.6h-1.8zM682.9 753.1h1.8v2.2h-1.8zM682.9 594.6h1.8v2.2h-1.8zM699.6 592.3h1.8v2.2h-1.8zM699.6 594.3h1.8v2.2h-1.8zM716.2 592.7h1.8v1.6h-1.8zM716.2 594.2h1.8v1.6h-1.8zM716.2 576.8h1.8v2.2h-1.8zM732.9 703.7h1.8v1.6h-1.8zM732.9 580.4h1.8v2.2h-1.8zM749.5 743.6h1.8v2.2h-1.8zM749.5 742.3h1.8v2.2h-1.8zM766.2 616.7h1.8v1.6h-1.8zM816.1 726.3h1.8v1.6h-1.8zM832.8 616.9h1.8v1.6h-1.8zM832.8 605.8h1.8v2.2h-1.8zM849.4 741.3h1.8v1.6h-1.8zM866.1 626h1.8v1.6h-1.8zM866.1 717.5h1.8v1.6h-1.8zM866.1 740h1.8v1.6h-1.8zM882.7 621.4h1.8v1.6h-1.8zM882.7 724.9h1.8v1.6h-1.8zM882.7 604.1h1.8v2.2h-1.8zM899.4 597.5h1.8v2.2h-1.8zM899.4 734.8h1.8v2.2h-1.8zM899.4 742.4h1.8v2.2h-1.8zM899.4 731.8h1.8v2.2h-1.8zM916 604.8h1.8v1.6h-1.8z"/>
<path fill="#0060ff" d="M150.2 543.5h1.8v1.6h-1.8zM166.8 643.3h1.8v1.6h-1.8zM166.8 688.3h1.8v1.6h-1.8zM183.4 653.5h1.8v1.6h-1.8zM200.1 580.7h1.8v1.6h-1.8zM250 635.8h1.8v1.6h-1.8zM250 649.3h1.8v1.6h-1.8zM316.6 687h1.8v1.6h-1.8zM333.3 687h1.8v1.6h-1.8zM383.2 560.9h1.8v1.6h-1.8zM383.2 682.4h1.8v1.6h-1.8zM416.5 591.2h1.8v1.6h-1.8zM416.5 630.2h1.8v1.6h-1.8zM416.5 706.7h1.8v1.6h-1.8zM433.2 693.1h1.8v1.6h-1.8zM449.9 583.6h1.8v1.6h-1.8zM449.9 705.1h1.8v1.6h-1.8zM499.8 609.3h1.8v1.6h-1.8zM533.1 715.6h1.8v1.6h-1.8zM549.8 664.5h1.8v1.6h-1.8zM566.4 612.4h1.8v1.6h-1.8zM566.4 717.4h1.8v1.6h-1.8zM583 591.2h1.8v1.6h-1.8zM583 592.7h1.8v1.6h-1.8zM583 594.2h1.8v1.6h-1.8zM583 663.2h1.8v1.6h-1.8zM599.7 597.2h1.8v1.6h-1.8zM633 715.8h1.8v1.6h-1.8zM633 720.3h1.8v1.6h-1.8zM666.3 606.3h1.8v1.6h-1.8zM666.3 705.3h1.8v1.6h-1.8zM716.2 616.7h1.8v1.6h-1.8zM716.2 631.7h1.8v1.6h-1.8zM716.2 675.2h1.8v1.6h-1.8zM716.2 718.7h1.8v1.6h-1.8zM732.9 601.7h1.8v1.6h-1.8zM732.9 738.2h1.8v1.6h-1.8zM749.5 721.9h1.8v1.6h-1.8zM782.8 615.4h1.8v1.6h-1.8zM799.5 706.9h1.8v1.6h-1.8zM816.1 718.8h1.8v1.6h-1.8zM832.8 723.4h1.8v1.6h-1.8zM849.4 609.3h1.8v1.6h-1.8zM866.1 629h1.8v1.6h-1.8zM866.1 666.5h1.8v1.6h-1.8zM882.7 730.9h1.8v1.6h-1.8zM899.4 613.8h1.8v1.6h-1.8zM899.4 661.8h1.8v1.6h-1.8zM916 730.8h1.8v1.6h-1.8z"/>
<path fill="#00ffff" d="M150.2 548h1.8v1.6h-1.8zM166.8 562.3h1.8v1.6h-1.8zM216.8 671.3h1.8v1.6h-1.8zM216.8 672.8h1.8v1.6h-1.8zM233.4 656.8h1.8v1.6h-1.8zM250 553.3h1.8v1.6h-1.8zM283.4 553.3h1.8v1.6h-1.8zM316.6 592.5h1.8v1.6h-1.8zM316.6 595.5h1.8v1.6h-1.8zM316.6 610.5h1.8v1.6h-1.8zM366.6 575.9h1.8v1.6h-1.8zM366.6 688.4h1.8v1.6h-1.8zM383.2 568.4h1.8v1.6h-1.8zM383.2 671.9h1.8v1.6h-1.8zM383.2 673.4h1.8v1.6h-1.8zM399.9 678h1.8v1.6h-1.8zM416.5 597.2h1.8v1.6h-1.8zM433.2 688.6h1.8v1.6h-1.8zM466.5 572.9h1.8v1.6h-1.8zM499.8 684.3h1.8v1.6h-1.8zM516.5 583.5h1.8v1.6h-1.8zM533.1 655.6h1.8v1.6h-1.8zM533.1 708.1h1.8v1.6h-1.8zM549.8 700.5h1.8v1.6h-1.8zM566.4 654.4h1.8v1.6h-1.8zM566.4 657.4h1.8v1.6h-1.8zM583 612.2h1.8v1.6h-1.8zM583 706.7h1.8v1.6h-1.8zM616.4 603.2h1.8v1.6h-1.8zM633 610.8h1.8v1.6h-1.8zM633 624.3h1.8v1.6h-1.8zM649.6 604.7h1.8v1.6h-1.8zM649.6 619.7h1.8v1.6h-1.8zM649.6 660.2h1.8v1.6h-1.8zM666.3 718.8h1.8v1.6h-1.8zM666.3 732.3h1.8v1.6h-1.8zM682.9 616.9h1.8v1.6h-1.8zM682.9 618.4h1.8v1.6h-1.8zM682.9 619.9h1.8v1.6h-1.8zM682.9 637.9h1.8v1.6h-1.8zM699.6 714.3h1.8v1.6h-1.8zM716.2 630.2h1.8v1.6h-1.8zM716.2 639.2h1.8v1.6h-1.8zM749.5 649.9h1.8v1.6h-1.8zM749.5 717.4h1.8v1.6h-1.8zM749.5 718.9h1.8v1.6h-1.8zM766.2 729.2h1.8v1.6h-1.8zM782.8 687.4h1.8v1.6h-1.8zM799.5 627.4h1.8v1.6h-1.8zM816.1 610.8h1.8v1.6h-1.8zM816.1 712.8h1.8v1.6h-1.8zM832.8 642.4h1.8v1.6h-1.8zM849.4 615.3h1.8v1.6h-1.8zM882.7 714.4h1.8v1.6h-1.8zM899.4 621.3h1.8v1.6h-1.8z"/>
<path fill="#00bfff" d="M150.2 642.5h1.8v1.6h-1.8zM183.4 545.5h1.8v1.6h-1.8zM183.4 547h1.8v1.6h-1.8zM183.4 580h1.8v1.6h-1.8zM183.4 655h1.8v1.6h-1.8zM200.1 669.2h1.8v1.6h-1.8zM200.1 670.7h1.8v1.6h-1.8zM200.1 672.2h1.8v1.6h-1.8zM233.4 550.3h1.8v1.6h-1.8zM233.4 658.3h1.8v1.6h-1.8zM250 638.8h1.8v1.6h-1.8zM250 647.8h1.8v1.6h-1.8zM266.7 558.6h1.8v1.6h-1.8zM266.7 560.1h1.8v1.6h-1.8zM266.7 614.1h1.8v1.6h-1.8zM283.4 551.8h1.8v1.6h-1.8zM316.6 598.5h1.8v1.6h-1.8zM333.3 660h1.8v1.6h-1.8zM333.3 688.5h1.8v1.6h-1.8zM366.6 574.4h1.8v1.6h-1.8zM366.6 692.9h1.8v1.6h-1.8zM383.2 670.4h1.8v1.6h-1.8zM383.2 676.4h1.8v1.6h-1.8zM383.2 680.9h1.8v1.6h-1.8zM399.9 571.5h1.8v1.6h-1.8zM416.5 703.7h1.8v1.6h-1.8zM433.2 690.1h1.8v1.6h-1.8zM466.5 589.4h1.8v1.6h-1.8zM483.1 694.7h1.8v1.6h-1.8zM499.8 715.8h1.8v1.6h-1.8zM516.5 622.5h1.8v1.6h-1.8zM533.1 657.1h1.8v1.6h-1.8zM549.8 580.5h1.8v1.6h-1.8zM649.6 646.7h1.8v1.6h-1.8zM649.6 715.7h1.8v1.6h-1.8zM666.3 688.8h1.8v1.6h-1.8zM666.3 720.3h1.8v1.6h-1.8zM716.2 600.2h1.8v1.6h-1.8zM716.2 613.7h1.8v1.6h-1.8zM749.5 712.9h1.8v1.6h-1.8zM782.8 618.4h1.8v1.6h-1.8zM832.8 627.4h1.8v1.6h-1.8zM832.8 628.9h1.8v1.6h-1.8zM832.8 660.4h1.8v1.6h-1.8zM849.4 670.8h1.8v1.6h-1.8zM866.1 719h1.8v1.6h-1.8zM866.1 732.5h1.8v1.6h-1.8zM882.7 627.4h1.8v1.6h-1.8zM899.4 615.3h1.8v1.6h-1.8zM899.4 700.8h1.8v1.6h-1.8z"/>
<path fill="#40ffbf" d="M150.2 645.5h1.8v1.6h-1.8zM183.4 553h1.8v1.6h-1.8zM183.4 674.5h1.8v1.6h-1.8zM200.1 579.2h1.8v1.6h-1.8zM233.4 559.3h1.8v1.6h-1.8zM233.4 655.3h1.8v1.6h-1.8zM250 640.3h1.8v1.6h-1.8zM250 644.8h1.8v1.6h-1.8zM283.4 556.3h1.8v1.6h-1.8zM283.4 679.3h1.8v1.6h-1.8zM316.6 582h1.8v1.6h-1.8zM316.6 609h1.8v1.6h-1.8zM333.3 661.5h1.8v1.6h-1.8zM333.3 672h1.8v1.6h-1.8zM350 572.9h1.8v1.6h-1.8zM399.9 676.5h1.8v1.6h-1.8zM416.5 600.2h1.8v1.6h-1.8zM416.5 670.7h1.8v1.6h-1.8zM416.5 700.7h1.8v1.6h-1.8zM433.2 592.6h1.8v1.6h-1.8zM433.2 687.1h1.8v1.6h-1.8zM449.9 679.6h1.8v1.6h-1.8zM466.5 575.9h1.8v1.6h-1.8zM483.1 595.7h1.8v1.6h-1.8zM483.1 613.7h1.8v1.6h-1.8zM483.1 690.2h1.8v1.6h-1.8zM516.5 585h1.8v1.6h-1.8zM549.8 646.5h1.8v1.6h-1.8zM549.8 657h1.8v1.6h-1.8zM549.8 661.5h1.8v1.6h-1.8zM566.4 633.4h1.8v1.6h-1.8zM566.4 637.9h1.8v1.6h-1.8zM566.4 655.9h1.8v1.6h-1.8zM583 622.7h1.8v1.6h-1.8zM583 676.7h1.8v1.6h-1.8zM599.7 606.2h1.8v1.6h-1.8zM599.7 700.7h1.8v1.6h-1.8zM616.4 612.2h1.8v1.6h-1.8zM649.6 606.2h1.8v1.6h-1.8zM649.6 613.7h1.8v1.6h-1.8zM666.3 610.8h1.8v1.6h-1.8zM666.3 717.3h1.8v1.6h-1.8zM682.9 703.9h1.8v1.6h-1.8zM699.6 684.3h1.8v1.6h-1.8zM716.2 606.2h1.8v1.6h-1.8zM716.2 609.2h1.8v1.6h-1.8zM732.9 609.2h1.8v1.6h-1.8zM749.5 654.4h1.8v1.6h-1.8zM749.5 697.9h1.8v1.6h-1.8zM766.2 726.2h1.8v1.6h-1.8zM782.8 720.4h1.8v1.6h-1.8zM799.5 682.9h1.8v1.6h-1.8zM816.1 616.8h1.8v1.6h-1.8zM832.8 717.4h1.8v1.6h-1.8zM832.8 718.9h1.8v1.6h-1.8zM849.4 616.8h1.8v1.6h-1.8zM866.1 639.5h1.8v1.6h-1.8zM899.4 703.8h1.8v1.6h-1.8zM899.4 712.8h1.8v1.6h-1.8zM916 718.8h1.8v1.6h-1.8z"/>
<path fill="#0000cf" d="M150.2 675.1h1.8v2.2h-1.8zM183.4 530.7h1.8v2.2h-1.8zM183.4 708.9h1.8v2.2h-1.8zM200.1 676.7h1.8v1.6h-1.8zM200.1 533.5h1.8v2.2h-1.8zM216.8 678.8h1.8v1.6h-1.8zM216.8 691.4h1.8v2.2h-1.8zM216.8 690.9h1.8v2.2h-1.8zM283.4 710h1.8v2.2h-1.8zM300 705.3h1.8v2.2h-1.8zM333.3 707.9h1.8v2.2h-1.8zM383.2 548.2h1.8v2.2h-1.8zM399.9 699.2h1.8v2.2h-1.8zM433.2 568.9h1.8v2.2h-1.8zM433.2 715.7h1.8v2.2h-1.8zM449.9 711.1h1.8v1.6h-1.8zM483.1 586.7h1.8v1.6h-1.8zM483.1 700.7h1.8v1.6h-1.8zM499.8 592h1.8v2.2h-1.8zM499.8 735h1.8v2.2h-1.8zM533.1 729.9h1.8v2.2h-1.8zM549.8 733.6h1.8v2.2h-1.8zM566.4 670.9h1.8v1.6h-1.8zM566.4 672.4h1.8v1.6h-1.8zM566.4 601.1h1.8v2.2h-1.8zM616.4 702.2h1.8v1.6h-1.8zM633 603.3h1.8v1.6h-1.8zM633 619.8h1.8v1.6h-1.8zM633 591.5h1.8v2.2h-1.8zM649.6 586.9h1.8v2.2h-1.8zM682.9 601.1h1.8v2.2h-1.8zM699.6 723.3h1.8v1.6h-1.8zM716.2 595.7h1.8v1.6h-1.8zM732.9 597.2h1.8v1.6h-1.8zM732.9 756.9h1.8v2.2h-1.8zM732.9 580.5h1.8v2.2h-1.8zM749.5 743h1.8v2.2h-1.8zM749.5 607.4h1.8v2.2h-1.8zM799.5 616.9h1.8v1.6h-1.8zM816.1 603.3h1.8v1.6h-1.8zM816.1 604.8h1.8v1.6h-1.8zM832.8 612.1h1.8v2.2h-1.8zM832.8 740h1.8v2.2h-1.8zM882.7 718.9h1.8v1.6h-1.8zM882.7 723.4h1.8v1.6h-1.8zM882.7 612.8h1.8v2.2h-1.8zM882.7 745.2h1.8v2.2h-1.8zM899.4 605.3h1.8v2.2h-1.8zM899.4 607.3h1.8v2.2h-1.8z"/>
<path fill="#20ffdf" d="M166.8 569.8h1.8v1.6h-1.8zM183.4 676h1.8v1.6h-1.8zM200.1 559.7h1.8v1.6h-1.8zM200.1 666.2h1.8v1.6h-1.8zM266.7 611.1h1.8v1.6h-1.8zM266.7 663.6h1.8v1.6h-1.8zM283.4 554.8h1.8v1.6h-1.8zM283.4 652.3h1.8v1.6h-1.8zM300 561.6h1.8v1.6h-1.8zM300 684.6h1.8v1.6h-1.8zM316.6 594h1.8v1.6h-1.8zM316.6 612h1.8v1.6h-1.8zM316.6 681h1.8v1.6h-1.8zM383.2 595.4h1.8v1.6h-1.8zM399.9 660h1.8v1.6h-1.8zM416.5 598.7h1.8v1.6h-1.8zM433.2 591.1h1.8v1.6h-1.8zM449.9 697.6h1.8v1.6h-1.8zM449.9 699.1h1.8v1.6h-1.8zM466.5 574.4h1.8v1.6h-1.8zM483.1 634.7h1.8v1.6h-1.8zM499.8 616.8h1.8v1.6h-1.8zM499.8 628.8h1.8v1.6h-1.8zM533.1 591.1h1.8v1.6h-1.8zM533.1 592.6h1.8v1.6h-1.8zM549.8 585h1.8v1.6h-1.8zM566.4 634.9h1.8v1.6h-1.8zM583 637.7h1.8v1.6h-1.8zM616.4 604.7h1.8v1.6h-1.8zM616.4 606.2h1.8v1.6h-1.8zM616.4 609.2h1.8v1.6h-1.8zM616.4 726.2h1.8v1.6h-1.8zM649.6 615.2h1.8v1.6h-1.8zM649.6 711.2h1.8v1.6h-1.8zM666.3 727.8h1.8v1.6h-1.8zM699.6 679.8h1.8v1.6h-1.8zM699.6 702.3h1.8v1.6h-1.8zM699.6 706.8h1.8v1.6h-1.8zM699.6 709.8h1.8v1.6h-1.8zM699.6 711.3h1.8v1.6h-1.8zM732.9 654.2h1.8v1.6h-1.8zM732.9 667.7h1.8v1.6h-1.8zM732.9 708.2h1.8v1.6h-1.8zM782.8 721.9h1.8v1.6h-1.8zM799.5 664.9h1.8v1.6h-1.8zM816.1 649.8h1.8v1.6h-1.8zM832.8 657.4h1.8v1.6h-1.8zM832.8 661.9h1.8v1.6h-1.8zM866.1 636.5h1.8v1.6h-1.8zM866.1 665h1.8v1.6h-1.8zM899.4 646.8h1.8v1.6h-1.8zM899.4 651.3h1.8v1.6h-1.8z"/>
<path fill="#ffdf00" d="M166.8 572.8h1.8v1.6h-1.8zM183.4 562h1.8v1.6h-1.8zM183.4 647.5h1.8v1.6h-1.8zM183.4 659.5h1.8v1.6h-1.8zM216.8 593.3h1.8v1.6h-1.8zM266.7 653.1h1.8v1.6h-1.8zM283.4 668.8h1.8v1.6h-1.8zM300 609.6h1.8v1.6h-1.8zM316.6 601.5h1.8v1.6h-1.8zM316.6 670.5h1.8v1.6h-1.8zM316.6 675h1.8v1.6h-1.8zM333.3 592.5h1.8v1.6h-1.8zM366.6 670.4h1.8v1.6h-1.8zM383.2 577.4h1.8v1.6h-1.8zM383.2 623.9h1.8v1.6h-1.8zM399.9 583.5h1.8v1.6h-1.8zM399.9 603h1.8v1.6h-1.8zM416.5 606.2h1.8v1.6h-1.8zM416.5 607.7h1.8v1.6h-1.8zM416.5 609.2h1.8v1.6h-1.8zM416.5 666.2h1.8v1.6h-1.8zM416.5 691.7h1.8v1.6h-1.8zM449.9 601.6h1.8v1.6h-1.8zM449.9 603.1h1.8v1.6h-1.8zM449.9 604.6h1.8v1.6h-1.8zM449.9 685.6h1.8v1.6h-1.8zM483.1 616.7h1.8v1.6h-1.8zM483.1 643.7h1.8v1.6h-1.8zM483.1 679.7h1.8v1.6h-1.8zM516.5 601.5h1.8v1.6h-1.8zM533.1 696.1h1.8v1.6h-1.8zM549.8 598.5h1.8v1.6h-1.8zM549.8 688.5h1.8v1.6h-1.8zM566.4 679.9h1.8v1.6h-1.8zM566.4 705.4h1.8v1.6h-1.8zM583 655.7h1.8v1.6h-1.8zM583 681.2h1.8v1.6h-1.8zM599.7 676.7h1.8v1.6h-1.8zM633 636.3h1.8v1.6h-1.8zM666.3 624.3h1.8v1.6h-1.8zM682.9 657.4h1.8v1.6h-1.8zM699.6 697.8h1.8v1.6h-1.8zM716.2 679.7h1.8v1.6h-1.8zM732.9 720.2h1.8v1.6h-1.8zM749.5 646.9h1.8v1.6h-1.8zM766.2 714.2h1.8v1.6h-1.8zM799.5 684.4h1.8v1.6h-1.8zM799.5 718.9h1.8v1.6h-1.8zM816.1 669.3h1.8v1.6h-1.8zM816.1 703.8h1.8v1.6h-1.8zM832.8 645.4h1.8v1.6h-1.8zM832.8 706.9h1.8v1.6h-1.8zM849.4 718.8h1.8v1.6h-1.8zM866.1 710h1.8v1.6h-1.8zM899.4 628.8h1.8v1.6h-1.8zM899.4 685.8h1.8v1.6h-1.8zM916 630.3h1.8v1.6h-1.8z"/>
<path fill="#ff2000" d="M166.8 578.8h1.8v1.6h-1.8zM166.8 662.8h1.8v1.6h-1.8zM183.4 617.5h1.8v1.6h-1.8zM183.4 643h1.8v1.6h-1.8zM200.1 591.2h1.8v1.6h-1.8zM200.1 598.7h1.8v1.6h-1.8zM200.1 600.2h1.8v1.6h-1.8zM216.8 597.8h1.8v1.6h-1.8zM216.8 612.8h1.8v1.6h-1.8zM216.8 626.3h1.8v1.6h-1.8zM216.8 627.8h1.8v1.6h-1.8zM233.4 574.3h1.8v1.6h-1.8zM233.4 578.8h1.8v1.6h-1.8zM233.4 593.8h1.8v1.6h-1.8zM233.4 623.8h1.8v1.6h-1.8zM233.4 640.3h1.8v1.6h-1.8zM250 610.3h1.8v1.6h-1.8zM266.7 579.6h1.8v1.6h-1.8zM283.4 661.3h1.8v1.6h-1.8zM300 587.1h1.8v1.6h-1.8zM316.6 640.5h1.8v1.6h-1.8zM333.3 640.5h1.8v1.6h-1.8zM333.3 654h1.8v1.6h-1.8zM333.3 664.5h1.8v1.6h-1.8zM350 587.9h1.8v1.6h-1.8zM350 593.9h1.8v1.6h-1.8zM350 667.4h1.8v1.6h-1.8zM366.6 644.9h1.8v1.6h-1.8zM366.6 646.4h1.8v1.6h-1.8zM366.6 647.9h1.8v1.6h-1.8zM366.6 659.9h1.8v1.6h-1.8zM366.6 667.4h1.8v1.6h-1.8zM383.2 629.9h1.8v1.6h-1.8zM399.9 592.5h1.8v1.6h-1.8zM416.5 639.2h1.8v1.6h-1.8zM416.5 675.2h1.8v1.6h-1.8zM416.5 684.2h1.8v1.6h-1.8zM433.2 633.1h1.8v1.6h-1.8zM449.9 622.6h1.8v1.6h-1.8zM449.9 652.6h1.8v1.6h-1.8zM449.9 654.1h1.8v1.6h-1.8zM449.9 655.6h1.8v1.6h-1.8zM449.9 669.1h1.8v1.6h-1.8zM466.5 634.4h1.8v1.6h-1.8zM466.5 638.9h1.8v1.6h-1.8zM466.5 646.4h1.8v1.6h-1.8zM466.5 664.4h1.8v1.6h-1.8zM466.5 674.9h1.8v1.6h-1.8zM483.1 619.7h1.8v1.6h-1.8zM499.8 639.3h1.8v1.6h-1.8zM499.8 643.8h1.8v1.6h-1.8zM499.8 658.8h1.8v1.6h-1.8zM516.5 609h1.8v1.6h-1.8zM516.5 610.5h1.8v1.6h-1.8zM516.5 652.5h1.8v1.6h-1.8zM516.5 685.5h1.8v1.6h-1.8zM516.5 690h1.8v1.6h-1.8zM533.1 640.6h1.8v1.6h-1.8zM533.1 670.6h1.8v1.6h-1.8zM533.1 685.6h1.8v1.6h-1.8zM549.8 609h1.8v1.6h-1.8zM549.8 612h1.8v1.6h-1.8zM549.8 621h1.8v1.6h-1.8zM549.8 633h1.8v1.6h-1.8zM549.8 639h1.8v1.6h-1.8zM566.4 645.4h1.8v1.6h-1.8zM566.4 646.9h1.8v1.6h-1.8zM566.4 684.4h1.8v1.6h-1.8zM566.4 693.4h1.8v1.6h-1.8zM566.4 694.9h1.8v1.6h-1.8zM566.4 696.4h1.8v1.6h-1.8zM566.4 697.9h1.8v1.6h-1.8zM599.7 681.2h1.8v1.6h-1.8zM616.4 634.7h1.8v1.6h-1.8zM616.4 639.2h1.8v1.6h-1.8zM616.4 642.2h1.8v1.6h-1.8zM616.4 648.2h1.8v1.6h-1.8zM616.4 684.2h1.8v1.6h-1.8zM633 631.8h1.8v1.6h-1.8zM633 655.8h1.8v1.6h-1.8zM633 667.8h1.8v1.6h-1.8zM633 679.8h1.8v1.6h-1.8zM649.6 628.7h1.8v1.6h-1.8zM649.6 633.2h1.8v1.6h-1.8zM649.6 640.7h1.8v1.6h-1.8zM649.6 672.2h1.8v1.6h-1.8zM649.6 687.2h1.8v1.6h-1.8zM666.3 628.8h1.8v1.6h-1.8zM666.3 636.3h1.8v1.6h-1.8zM666.3 651.3h1.8v1.6h-1.8zM682.9 673.9h1.8v1.6h-1.8zM682.9 685.9h1.8v1.6h-1.8zM682.9 687.4h1.8v1.6h-1.8zM682.9 688.9h1.8v1.6h-1.8zM682.9 690.4h1.8v1.6h-1.8zM682.9 691.9h1.8v1.6h-1.8zM682.9 693.4h1.8v1.6h-1.8zM699.6 633.3h1.8v1.6h-1.8zM699.6 634.8h1.8v1.6h-1.8zM699.6 660.3h1.8v1.6h-1.8zM716.2 682.7h1.8v1.6h-1.8zM716.2 691.7h1.8v1.6h-1.8zM732.9 645.2h1.8v1.6h-1.8zM732.9 676.7h1.8v1.6h-1.8zM749.5 637.9h1.8v1.6h-1.8zM749.5 640.9h1.8v1.6h-1.8zM749.5 642.4h1.8v1.6h-1.8zM749.5 643.9h1.8v1.6h-1.8zM749.5 669.4h1.8v1.6h-1.8zM749.5 685.9h1.8v1.6h-1.8zM782.8 664.9h1.8v1.6h-1.8zM799.5 643.9h1.8v1.6h-1.8zM799.5 645.4h1.8v1.6h-1.8zM799.5 646.9h1.8v1.6h-1.8zM799.5 687.4h1.8v1.6h-1.8zM799.5 688.9h1.8v1.6h-1.8zM816.1 691.8h1.8v1.6h-1.8zM832.8 694.9h1.8v1.6h-1.8zM832.8 696.4h1.8v1.6h-1.8zM832.8 697.9h1.8v1.6h-1.8zM849.4 694.8h1.8v1.6h-1.8zM849.4 703.8h1.8v1.6h-1.8zM849.4 711.3h1.8v1.6h-1.8zM849.4 712.8h1.8v1.6h-1.8zM866.1 660.5h1.8v1.6h-1.8zM866.1 705.5h1.8v1.6h-1.8zM882.7 664.9h1.8v1.6h-1.8zM882.7 667.9h1.8v1.6h-1.8zM882.7 685.9h1.8v1.6h-1.8zM899.4 639.3h1.8v1.6h-1.8zM916 652.8h1.8v1.6h-1.8zM916 658.8h1.8v1.6h-1.8zM916 661.8h1.8v1.6h-1.8zM916 700.8h1.8v1.6h-1.8z"/>
<path fill="#ffff00" d="M166.8 670.3h1.8v1.6h-1.8zM183.4 668.5h1.8v1.6h-1.8zM200.1 657.2h1.8v1.6h-1.8zM233.4 563.8h1.8v1.6h-1.8zM266.7 654.6h1.8v1.6h-1.8zM283.4 568.3h1.8v1.6h-1.8zM350 584.9h1.8v1.6h-1.8zM383.2 596.9h1.8v1.6h-1.8zM383.2 616.4h1.8v1.6h-1.8zM399.9 586.5h1.8v1.6h-1.8zM399.9 598.5h1.8v1.6h-1.8zM416.5 672.2h1.8v1.6h-1.8zM433.2 673.6h1.8v1.6h-1.8zM449.9 676.6h1.8v1.6h-1.8zM449.9 690.1h1.8v1.6h-1.8zM499.8 624.3h1.8v1.6h-1.8zM549.8 594h1.8v1.6h-1.8zM566.4 625.9h1.8v1.6h-1.8zM583 627.2h1.8v1.6h-1.8zM583 639.2h1.8v1.6h-1.8zM583 699.2h1.8v1.6h-1.8zM599.7 688.7h1.8v1.6h-1.8zM616.4 655.7h1.8v1.6h-1.8zM616.4 697.7h1.8v1.6h-1.8zM616.4 712.7h1.8v1.6h-1.8zM633 627.3h1.8v1.6h-1.8zM649.6 666.2h1.8v1.6h-1.8zM666.3 621.3h1.8v1.6h-1.8zM682.9 627.4h1.8v1.6h-1.8zM682.9 711.4h1.8v1.6h-1.8zM699.6 630.3h1.8v1.6h-1.8zM732.9 619.7h1.8v1.6h-1.8zM732.9 621.2h1.8v1.6h-1.8zM732.9 655.7h1.8v1.6h-1.8zM732.9 663.2h1.8v1.6h-1.8zM766.2 631.7h1.8v1.6h-1.8zM782.8 697.9h1.8v1.6h-1.8zM816.1 634.8h1.8v1.6h-1.8zM832.8 678.4h1.8v1.6h-1.8zM832.8 709.9h1.8v1.6h-1.8zM849.4 645.3h1.8v1.6h-1.8zM849.4 654.3h1.8v1.6h-1.8zM882.7 702.4h1.8v1.6h-1.8zM916 628.8h1.8v1.6h-1.8zM916 687.3h1.8v1.6h-1.8z"/>
<path fill="#009fff" d="M216.8 570.8h1.8v1.6h-1.8zM233.4 659.8h1.8v1.6h-1.8zM266.7 666.6h1.8v1.6h-1.8zM283.4 682.3h1.8v1.6h-1.8zM283.4 683.8h1.8v1.6h-1.8zM300 558.6h1.8v1.6h-1.8zM350 682.4h1.8v1.6h-1.8zM383.2 677.9h1.8v1.6h-1.8zM416.5 592.7h1.8v1.6h-1.8zM433.2 588.1h1.8v1.6h-1.8zM449.9 589.6h1.8v1.6h-1.8zM466.5 641.9h1.8v1.6h-1.8zM466.5 643.4h1.8v1.6h-1.8zM533.1 583.6h1.8v1.6h-1.8zM549.8 706.5h1.8v1.6h-1.8zM583 708.2h1.8v1.6h-1.8zM599.7 601.7h1.8v1.6h-1.8zM616.4 600.2h1.8v1.6h-1.8zM616.4 622.7h1.8v1.6h-1.8zM616.4 661.7h1.8v1.6h-1.8zM616.4 708.2h1.8v1.6h-1.8zM633 642.3h1.8v1.6h-1.8zM649.6 601.7h1.8v1.6h-1.8zM649.6 700.7h1.8v1.6h-1.8zM666.3 607.8h1.8v1.6h-1.8zM666.3 661.8h1.8v1.6h-1.8zM666.3 697.8h1.8v1.6h-1.8zM666.3 735.3h1.8v1.6h-1.8zM682.9 643.9h1.8v1.6h-1.8zM699.6 610.8h1.8v1.6h-1.8zM716.2 598.7h1.8v1.6h-1.8zM732.9 604.7h1.8v1.6h-1.8zM732.9 651.2h1.8v1.6h-1.8zM732.9 735.2h1.8v1.6h-1.8zM732.9 736.7h1.8v1.6h-1.8zM749.5 660.4h1.8v1.6h-1.8zM749.5 699.4h1.8v1.6h-1.8zM766.2 606.2h1.8v1.6h-1.8zM766.2 607.7h1.8v1.6h-1.8zM782.8 640.9h1.8v1.6h-1.8zM782.8 655.9h1.8v1.6h-1.8zM782.8 724.9h1.8v1.6h-1.8zM799.5 625.9h1.8v1.6h-1.8zM799.5 661.9h1.8v1.6h-1.8zM799.5 673.9h1.8v1.6h-1.8zM799.5 732.4h1.8v1.6h-1.8zM816.1 717.3h1.8v1.6h-1.8zM832.8 625.9h1.8v1.6h-1.8zM882.7 624.4h1.8v1.6h-1.8zM882.7 715.9h1.8v1.6h-1.8zM899.4 618.3h1.8v1.6h-1.8zM899.4 669.3h1.8v1.6h-1.8zM899.4 717.3h1.8v1.6h-1.8zM916 612.3h1.8v1.6h-1.8z"/>
<path fill="#ef0000" d="M133.3 671.9h2v1.4h-2zM136.9 677.7h2v1.4h-2zM140.6 679h2v1.4h-2zM143.1 677.9h2v1.4h-2zM158.6 679.7h2v1.4h-2zM161.1 678.5h2v1.4h-2zM163.7 681.2h2v1.4h-2zM182 679.2h2v1.4h-2zM186.4 666.5h2v1.4h-2zM210.7 671.8h2v1.4h-2zM213.5 673.6h2v1.4h-2zM215.3 665.6h2v1.4h-2zM244.7 673.7h2v1.4h-2zM263.1 678.4h2v1.4h-2zM269.5 685.1h2v1.4h-2zM269.5 686.5h2v1.4h-2zM274.7 681.1h2v1.4h-2zM285 677.6h2v1.4h-2zM288.8 676h2v1.4h-2zM290.1 676.9h2v1.4h-2zM303 666.9h2v1.4h-2zM305.5 663.1h2v1.4h-2zM309.3 654.8h2v1.4h-2zM196.4 664.1h2v1.4h-2zM216.4 659.8h2v1.4h-2zM221 658.5h2v1.4h-2zM230.1 662.5h2v1.4h-2zM277.8 671.9h2v1.4h-2zM302.1 671.4h2v1.4h-2zM139.3 678.9h2v1.4h-2zM179.1 694.9h2v1.4h-2zM181.5 678.9h2v1.4h-2zM187.8 665.4h2v1.4h-2zM218.1 655.9h2v1.4h-2zM223.7 652.1h2v1.4h-2zM259.2 674.7h2v1.4h-2zM277.8 669.7h2v1.4h-2zM136.3 675.7h2v1.4h-2zM137.8 672.7h2v1.4h-2zM142.7 679.6h2v1.4h-2zM158.1 675.1h2v1.4h-2zM170.1 692.1h2v1.4h-2zM179.6 693.9h2v1.4h-2zM180.8 683.4h2v1.4h-2zM335.7 630h2v1.4h-2zM353.8 632.4h2v1.4h-2zM359.9 635.8h2v1.4h-2zM366 633.1h2v1.4h-2zM367.5 635.1h2v1.4h-2zM386.1 654.5h2v1.4h-2zM402.3 656.3h2v1.4h-2zM408.4 657.3h2v1.4h-2zM414.5 660.5h2v1.4h-2zM425.1 656.3h2v1.4h-2zM428.1 658.3h2v1.4h-2zM467.5 656.9h2v1.4h-2zM479.6 657.8h2v1.4h-2zM531.1 660.9h2v1.4h-2z"/>
<path fill="#00efff" d="M133.3 673.3h2v1.4h-2zM144.4 680.1h2v1.4h-2zM150.9 680.5h2v1.4h-2zM174 690.2h2v1.4h-2zM174 691.6h2v1.4h-2zM180 687.7h2v1.4h-2zM182.6 673h2v1.4h-2zM184.1 666.8h2v1.4h-2zM185.3 666h2v1.4h-2zM200.6 666.8h2v1.4h-2zM213.7 672.5h2v1.4h-2zM216.2 660.3h2v1.4h-2zM226.3 659.7h2v1.4h-2zM228.4 661.4h2v1.4h-2zM232.3 664.7h2v1.4h-2zM242.5 672.8h2v1.4h-2zM265.7 683.5h2v1.4h-2zM274.2 679h2v1.4h-2zM275.5 678.4h2v1.4h-2zM276.4 675.5h2v1.4h-2zM277.5 671.9h2v1.4h-2zM277.5 674.7h2v1.4h-2zM280.7 668.8h2v1.4h-2zM282.8 670.2h2v1.4h-2zM294.8 675.5h2v1.4h-2zM305.5 664.5h2v1.4h-2zM309.3 656.2h2v1.4h-2zM316.7 641.8h2v1.4h-2zM317.5 642.6h2v1.4h-2zM173.6 692.4h2v1.4h-2zM207.8 674h2v1.4h-2zM214.9 665.9h2v1.4h-2zM215.5 663.4h2v1.4h-2zM259.2 675.3h2v1.4h-2zM267.8 683.6h2v1.4h-2zM275.8 673.6h2v1.4h-2zM307.2 662.3h2v1.4h-2zM149.6 681.4h2v1.4h-2zM178.7 697.3h2v1.4h-2zM213.3 677.2h2v1.4h-2zM214.1 669.1h2v1.4h-2zM214.8 667.4h2v1.4h-2zM250.3 683.1h2v1.4h-2zM274.7 675.9h2v1.4h-2zM293.5 673.4h2v1.4h-2zM147.9 679.4h2v1.4h-2zM161.6 682.7h2v1.4h-2zM181.7 676.2h2v1.4h-2zM182.6 672.8h2v1.4h-2zM328.1 629h2v1.4h-2zM331.1 629.2h2v1.4h-2zM355.4 632.4h2v1.4h-2zM362.9 633.4h2v1.4h-2zM400.8 656h2v1.4h-2zM406.9 656.7h2v1.4h-2zM411.4 658.2h2v1.4h-2zM446.3 657.2h2v1.4h-2zM450.8 657.3h2v1.4h-2zM469 657.1h2v1.4h-2zM473.5 656.6h2v1.4h-2zM482.6 659h2v1.4h-2zM525.1 662.8h2v1.4h-2zM526.6 663.1h2v1.4h-2zM532.6 660.5h2v1.4h-2zM537.4 659.4h2v1.4h-2zM648.7 662.1h2v1.4h-2zM147.2 700.3h2v1.4h-2zM188.7 689.4h2v1.4h-2zM173.6 682.9h2v1.4h-2zM168.8 676.9h2v1.4h-2zM157.3 687.6h2v1.4h-2zM193.6 681.7h2v1.4h-2zM160.8 679.8h2v1.4h-2zM161.8 680.9h2v1.4h-2zM168.5 691.3h2v1.4h-2zM185.6 693.9h2v1.4h-2zM185.7 687.4h2v1.4h-2zM150.8 686.6h2v1.4h-2zM153.8 675.7h2v1.4h-2zM151.7 676.7h2v1.4h-2zM160.4 694.2h2v1.4h-2zM161.2 680.8h2v1.4h-2zM181 675.9h2v1.4h-2zM137.9 684.6h2v1.4h-2zM139.7 703.9h2v1.4h-2zM225.8 692.7h2v1.4h-2zM237.3 704.6h2v1.4h-2zM195.1 696.3h2v1.4h-2zM258.4 684.7h2v1.4h-2zM256.7 692.4h2v1.4h-2zM324.6 567.6h2v1.4h-2zM310.3 643.9h2v1.4h-2zM308.8 619.4h2v1.4h-2zM335.7 594.3h2v1.4h-2zM338.7 593h2v1.4h-2zM500.8 519.3h2v1.4h-2z"/>
<path fill="#0000ef" d="M133 670.5h0.3v1.4h-0.3zM180.9 687.7h2v1.4h-2zM195 659.5h2v1.4h-2zM213.8 671.4h2v1.4h-2zM215.5 660.4h2v1.4h-2zM236.1 666.1h2v1.4h-2zM242.5 677h2v1.4h-2zM309.3 660.4h2v1.4h-2zM314.2 646.5h2v1.4h-2zM181 668.9h2v1.4h-2zM215.9 672.9h2v1.4h-2zM229.8 662.3h2v1.4h-2zM257.2 673.9h2v1.4h-2zM310.4 648.4h2v1.4h-2zM137.3 680.3h2v1.4h-2zM146.4 679.3h2v1.4h-2zM146.1 679.9h2v1.4h-2zM214.1 671.9h2v1.4h-2zM271.2 683.5h2v1.4h-2zM272.7 677.3h2v1.4h-2zM372.5 643.7h2v1.4h-2zM391.2 652.7h2v1.4h-2zM468 658.2h2v1.4h-2zM475.5 659.4h2v1.4h-2zM479.6 655h2v1.4h-2zM487.2 660.5h2v1.4h-2zM410.1 654h2v1.4h-2zM686.6 664.1h2v1.4h-2zM162.8 720.5h2v1.4h-2zM202.1 690.9h2v1.4h-2zM207.2 699.9h2v1.4h-2zM244.9 706.3h2v1.4h-2zM161.5 705.2h2v1.4h-2zM220 700.2h2v1.4h-2zM165.5 722.7h2v1.4h-2zM326.7 758.8h2v1.4h-2zM699.1 521.5h2v1.4h-2zM883 542.3h2v1.4h-2zM566 515.3h2v1.4h-2zM732 522.3h2v1.4h-2zM179.5 766.3h2v1.4h-2zM928.4 770.4h2v1.4h-2zM144.4 772h2v1.4h-2zM921.5 755.7h2v1.4h-2zM780.6 763.2h2v1.4h-2zM796.6 773.5h2v1.4h-2z"/>
<path fill="#cfff30" d="M134.5 673.1h2v1.4h-2zM147 679.6h2v1.4h-2zM158.6 676.9h2v1.4h-2zM171.4 687h2v1.4h-2zM176.4 690.8h2v1.4h-2zM179 692.6h2v1.4h-2zM179 694h2v1.4h-2zM181.6 679.7h2v1.4h-2zM182.3 675.3h2v1.4h-2zM191.8 668.7h2v1.4h-2zM192.8 666.8h2v1.4h-2zM195 663.7h2v1.4h-2zM197.1 663.1h2v1.4h-2zM211.8 675.6h2v1.4h-2zM211.8 677h2v1.4h-2zM213.7 673.9h2v1.4h-2zM214 671.3h2v1.4h-2zM222.4 652.2h2v1.4h-2zM223.7 654.3h2v1.4h-2zM232.3 667.5h2v1.4h-2zM240 669.9h2v1.4h-2zM252.2 680.6h2v1.4h-2zM273.8 680h2v1.4h-2zM273.8 681.4h2v1.4h-2zM275.1 675.8h2v1.4h-2zM287.5 678.3h2v1.4h-2zM294.8 672.7h2v1.4h-2zM299.8 673.1h2v1.4h-2zM304.7 664.3h2v1.4h-2zM307.9 659h2v1.4h-2zM307.9 661.8h2v1.4h-2zM308.6 657.6h2v1.4h-2zM308.6 659h2v1.4h-2zM314.2 647.9h2v1.4h-2zM317.5 644h2v1.4h-2zM147.9 681.7h2v1.4h-2zM180.8 687.1h2v1.4h-2zM187.8 665.3h2v1.4h-2zM204.4 669h2v1.4h-2zM213.9 671.5h2v1.4h-2zM219.5 655.4h2v1.4h-2zM279.2 673h2v1.4h-2zM279.2 675.8h2v1.4h-2zM304.1 669h2v1.4h-2zM180 688h2v1.4h-2zM181.7 683.7h2v1.4h-2zM217.3 661.2h2v1.4h-2zM219.5 655.2h2v1.4h-2zM227.5 658.9h2v1.4h-2zM231.8 668.4h2v1.4h-2zM252.4 682.8h2v1.4h-2zM136.3 674.3h2v1.4h-2zM142.7 678.2h2v1.4h-2zM334.2 630.3h2v1.4h-2zM343.2 628.8h2v1.4h-2zM366 631.7h2v1.4h-2zM429.6 659.7h2v1.4h-2zM475.1 656.7h2v1.4h-2zM487.2 659.1h2v1.4h-2zM502.3 658.5h2v1.4h-2zM523.5 662.9h2v1.4h-2zM421.7 656.7h2v1.4h-2zM541.1 659.4h2v1.4h-2zM556.3 661.7h2v1.4h-2zM557.8 661.6h2v1.4h-2zM572.9 663h2v1.4h-2zM577.5 661.5h2v1.4h-2zM579 661.6h2v1.4h-2z"/>
<path fill="#ffcf00" d="M134.5 674.5h2v1.4h-2zM138.1 676.6h2v1.4h-2zM154.7 679.4h2v1.4h-2zM159.8 676.5h2v1.4h-2zM176.4 693.6h2v1.4h-2zM195 662.3h2v1.4h-2zM198.2 667.1h2v1.4h-2zM208.3 675.1h2v1.4h-2zM213.7 669.7h2v1.4h-2zM215 666.2h2v1.4h-2zM216.8 660.7h2v1.4h-2zM218.1 657.5h2v1.4h-2zM227 661.2h2v1.4h-2zM229.7 666h2v1.4h-2zM232.3 666.1h2v1.4h-2zM237.4 670.7h2v1.4h-2zM245.5 678.2h2v1.4h-2zM271.8 685.9h2v1.4h-2zM273.4 681.9h2v1.4h-2zM274.7 679.7h2v1.4h-2zM275.1 674.4h2v1.4h-2zM296.1 676h2v1.4h-2zM310 654.3h2v1.4h-2zM312.1 650.8h2v1.4h-2zM146.1 681.2h2v1.4h-2zM181.5 679h2v1.4h-2zM184.7 666.5h2v1.4h-2zM190.7 669.3h2v1.4h-2zM213 678.9h2v1.4h-2zM305.2 662.7h2v1.4h-2zM312.4 651.2h2v1.4h-2zM335.7 632.8h2v1.4h-2zM340.2 630.2h2v1.4h-2zM347.8 627.1h2v1.4h-2zM352.3 632.5h2v1.4h-2zM355.4 633.8h2v1.4h-2zM361.4 634h2v1.4h-2zM361.4 635.4h2v1.4h-2zM364.5 633.1h2v1.4h-2zM382.2 654.5h2v1.4h-2zM586.6 661.6h2v1.4h-2z"/>
<path fill="#0050ff" d="M133 675.9h1.5v1.4h-1.5zM181.3 686.4h2v1.4h-2zM231 669.4h2v1.4h-2zM244.4 676.9h2v1.4h-2zM261.2 680.6h2v1.4h-2zM211.6 668.3h2v1.4h-2zM254.2 681.1h2v1.4h-2zM290.1 680.1h2v1.4h-2zM271.5 687h2v1.4h-2zM337.7 627.2h2v1.4h-2zM371.2 637.6h2v1.4h-2zM386.9 652.7h2v1.4h-2zM457.4 658.4h2v1.4h-2zM533.1 662.3h2v1.4h-2zM458.8 660h2v1.4h-2zM179.6 705h2v1.4h-2zM146.5 727.5h2v1.4h-2zM194.4 709.9h2v1.4h-2zM203.9 690.3h2v1.4h-2zM231.6 699.3h2v1.4h-2zM193.1 691.4h2v1.4h-2zM253.1 691.5h2v1.4h-2zM163.1 760.9h2v1.4h-2z"/>
<path fill="#af0000" d="M135.7 673.3h2v1.4h-2zM140.6 676.2h2v1.4h-2zM148.3 678.3h2v1.4h-2zM149.6 680.7h2v1.4h-2zM152.1 677.4h2v1.4h-2zM156 677.8h2v1.4h-2zM156 679.2h2v1.4h-2zM170.1 687.5h2v1.4h-2zM172.7 688.5h2v1.4h-2zM180.9 682.1h2v1.4h-2zM181.6 682.5h2v1.4h-2zM182.1 678.8h2v1.4h-2zM182.5 674h2v1.4h-2zM199.3 665.6h2v1.4h-2zM200.6 668.2h2v1.4h-2zM203.1 671.7h2v1.4h-2zM204.4 670.7h2v1.4h-2zM208.3 670.9h2v1.4h-2zM209.5 676.1h2v1.4h-2zM211.8 672.8h2v1.4h-2zM214.5 668.8h2v1.4h-2zM215 667.6h2v1.4h-2zM217.5 658.8h2v1.4h-2zM218.1 658.9h2v1.4h-2zM218.1 660.3h2v1.4h-2zM225.7 658.4h2v1.4h-2zM228.4 664.2h2v1.4h-2zM241.3 671.4h2v1.4h-2zM241.3 674.2h2v1.4h-2zM250.3 684h2v1.4h-2zM252.8 680.4h2v1.4h-2zM259.2 677.8h2v1.4h-2zM268.2 682.3h2v1.4h-2zM268.2 683.7h2v1.4h-2zM269.5 687.9h2v1.4h-2zM292.4 677.8h2v1.4h-2zM296.1 674.6h2v1.4h-2zM299.8 671.7h2v1.4h-2zM310.7 653h2v1.4h-2zM147.9 683.1h2v1.4h-2zM170.1 685.3h2v1.4h-2zM182.6 672.1h2v1.4h-2zM186.4 667.6h2v1.4h-2zM192.1 666.7h2v1.4h-2zM197.8 668h2v1.4h-2zM274.7 677h2v1.4h-2zM325.1 629.4h2v1.4h-2zM349.3 627.9h2v1.4h-2zM361.4 636.8h2v1.4h-2z"/>
<path fill="#ff5000" d="M135.7 674.7h2v1.4h-2zM147 678.2h2v1.4h-2zM166.3 680.3h2v1.4h-2zM167.6 683.5h2v1.4h-2zM167.6 684.9h2v1.4h-2zM168.8 686.8h2v1.4h-2zM185.3 667.4h2v1.4h-2zM185.3 670.2h2v1.4h-2zM193.9 664.6h2v1.4h-2zM204.4 672.1h2v1.4h-2zM207 672.6h2v1.4h-2zM214.8 668.7h2v1.4h-2zM229.7 663.2h2v1.4h-2zM256.7 674.7h2v1.4h-2zM265.7 680.7h2v1.4h-2zM301 670.4h2v1.4h-2zM302.1 671h2v1.4h-2zM307.2 663.5h2v1.4h-2zM314.9 647.1h2v1.4h-2zM316.7 644.6h2v1.4h-2zM319.2 640.3h2v1.4h-2zM180.4 689.2h2v1.4h-2zM213.6 671.1h2v1.4h-2zM214.9 667.3h2v1.4h-2zM215.5 662h2v1.4h-2zM218.1 658.6h2v1.4h-2zM238.7 671.8h2v1.4h-2zM253.5 679.8h2v1.4h-2zM269.5 683.6h2v1.4h-2zM307.2 660.9h2v1.4h-2zM319 634.2h2v1.4h-2zM320.5 633h2v1.4h-2zM335.7 631.4h2v1.4h-2zM346.3 628.6h2v1.4h-2zM356.9 633.1h2v1.4h-2zM381.2 650.6h2v1.4h-2zM383.2 653.6h2v1.4h-2z"/>
<path fill="#30ffcf" d="M135.7 676.1h2v1.4h-2zM138.1 678h2v1.4h-2zM143.1 680.7h2v1.4h-2zM154.7 676.6h2v1.4h-2zM163.7 682.6h2v1.4h-2zM165 683.2h2v1.4h-2zM178.7 692.9h2v1.4h-2zM181.3 682.2h2v1.4h-2zM181.6 678.3h2v1.4h-2zM183 668.8h2v1.4h-2zM184.1 668.2h2v1.4h-2zM186.4 667.9h2v1.4h-2zM201.8 667.4h2v1.4h-2zM203.1 668.9h2v1.4h-2zM208.3 672.3h2v1.4h-2zM209.5 673.3h2v1.4h-2zM209.5 674.7h2v1.4h-2zM213.2 673.3h2v1.4h-2zM220.3 655.6h2v1.4h-2zM241.3 672.8h2v1.4h-2zM244.7 677.9h2v1.4h-2zM249 683h2v1.4h-2zM256.7 676.1h2v1.4h-2zM258 677.3h2v1.4h-2zM268.2 685.1h2v1.4h-2zM273.4 684.7h2v1.4h-2zM275.1 678.6h2v1.4h-2zM283.9 672.6h2v1.4h-2zM285 676.2h2v1.4h-2zM316.7 643.2h2v1.4h-2zM318.4 640.9h2v1.4h-2zM156.4 679.5h2v1.4h-2zM165 684.6h2v1.4h-2zM166.7 683.1h2v1.4h-2zM242.1 672.2h2v1.4h-2zM254.1 676.1h2v1.4h-2zM267.8 685h2v1.4h-2zM290.1 677.3h2v1.4h-2zM308.9 655.6h2v1.4h-2zM165 681.4h2v1.4h-2zM166.7 685.2h2v1.4h-2zM168.4 683h2v1.4h-2zM179.6 693.2h2v1.4h-2zM190.7 664.2h2v1.4h-2zM207.8 669h2v1.4h-2zM254.1 675.7h2v1.4h-2zM271.2 682.1h2v1.4h-2zM286.7 676.8h2v1.4h-2zM181.7 677.6h2v1.4h-2zM344.8 628.9h2v1.4h-2zM356.9 634.5h2v1.4h-2zM359.9 637.2h2v1.4h-2zM373.2 639h2v1.4h-2zM412.9 659.5h2v1.4h-2zM440.2 658.3h2v1.4h-2zM453.8 656.2h2v1.4h-2zM459.9 656.1h2v1.4h-2zM503.8 658.7h2v1.4h-2zM529.6 661.7h2v1.4h-2zM419.8 658.9h2v1.4h-2zM559.3 661.8h2v1.4h-2zM568.4 662.4h2v1.4h-2zM662.3 660.6h2v1.4h-2zM149.6 703.1h2v1.4h-2zM196.1 682.2h2v1.4h-2zM172.1 684.5h2v1.4h-2zM172.2 676h2v1.4h-2zM182.5 689.8h2v1.4h-2zM170.4 689.2h2v1.4h-2zM185.1 692.4h2v1.4h-2zM146.1 676.5h2v1.4h-2zM137.1 679.6h2v1.4h-2zM169.1 690.8h2v1.4h-2zM191.8 682.9h2v1.4h-2zM164.1 689.8h2v1.4h-2zM148.6 693.1h2v1.4h-2zM145.1 693.2h2v1.4h-2zM146.5 687.4h2v1.4h-2zM146.3 694.8h2v1.4h-2zM181.1 679.1h2v1.4h-2zM176.6 680.5h2v1.4h-2zM184.4 679.9h2v1.4h-2zM180.5 690h2v1.4h-2zM152.4 678.4h2v1.4h-2zM227.8 694.1h2v1.4h-2zM226.4 691h2v1.4h-2zM183 695.3h2v1.4h-2zM251.1 691.7h2v1.4h-2zM176.1 713.9h2v1.4h-2zM326.5 564h2v1.4h-2zM327.8 562.6h2v1.4h-2zM322.7 573.5h2v1.4h-2z"/>
<path fill="#ff3000" d="M136.9 674.9h2v1.4h-2zM138.1 675.2h2v1.4h-2zM139.3 674.9h2v1.4h-2zM147 681h2v1.4h-2zM159.8 677.9h2v1.4h-2zM159.8 680.7h2v1.4h-2zM162.4 679.2h2v1.4h-2zM177.6 692.5h2v1.4h-2zM179.3 691h2v1.4h-2zM179.3 693.8h2v1.4h-2zM179.7 689.2h2v1.4h-2zM180.6 683.9h2v1.4h-2zM181.3 683.6h2v1.4h-2zM181.6 681.1h2v1.4h-2zM181.8 680h2v1.4h-2zM182 680.6h2v1.4h-2zM182.1 676h2v1.4h-2zM185.3 668.8h2v1.4h-2zM204.4 667.9h2v1.4h-2zM207 671.2h2v1.4h-2zM207 674h2v1.4h-2zM213.7 671.1h2v1.4h-2zM214 672.7h2v1.4h-2zM214.8 667.3h2v1.4h-2zM220.3 657h2v1.4h-2zM225.7 655.6h2v1.4h-2zM227.7 661.8h2v1.4h-2zM236.1 668.9h2v1.4h-2zM238.7 671.7h2v1.4h-2zM245.5 675.4h2v1.4h-2zM258 675.9h2v1.4h-2zM260.5 677.6h2v1.4h-2zM270.7 683.5h2v1.4h-2zM281.7 672h2v1.4h-2zM281.7 673.4h2v1.4h-2zM297.4 671.5h2v1.4h-2zM307.2 662.1h2v1.4h-2zM309.3 657.6h2v1.4h-2zM310.7 654.4h2v1.4h-2zM315.8 643.3h2v1.4h-2zM136.3 676.7h2v1.4h-2zM144.4 680.5h2v1.4h-2zM171.8 687.5h2v1.4h-2zM178.7 692.6h2v1.4h-2zM183 670.3h2v1.4h-2zM206.1 670.1h2v1.4h-2zM209.5 675h2v1.4h-2zM213 676.1h2v1.4h-2zM219.5 654h2v1.4h-2zM230.1 661.1h2v1.4h-2zM230.1 663.9h2v1.4h-2zM262.7 679.7h2v1.4h-2zM318.2 638.5h2v1.4h-2zM154.7 677.1h2v1.4h-2zM240.4 674.3h2v1.4h-2zM251.5 685.9h2v1.4h-2zM146.1 681h2v1.4h-2zM146.1 682.4h2v1.4h-2zM158.1 676.5h2v1.4h-2zM183 665.8h2v1.4h-2zM338.7 631h2v1.4h-2zM376.9 645.6h2v1.4h-2zM380.2 649.4h2v1.4h-2zM388.9 654.1h2v1.4h-2zM390.3 654.4h2v1.4h-2zM405.4 656.6h2v1.4h-2zM420.5 657.9h2v1.4h-2zM435.7 659.4h2v1.4h-2zM437.2 658.5h2v1.4h-2zM455.4 655.6h2v1.4h-2zM458.4 655.5h2v1.4h-2zM476.6 656.7h2v1.4h-2zM512.9 659.8h2v1.4h-2zM469.9 656.6h2v1.4h-2zM547.2 660.9h2v1.4h-2zM580.5 660.7h2v1.4h-2z"/>
<path fill="#cf0000" d="M136.9 676.3h2v1.4h-2zM139.3 676.3h2v1.4h-2zM140.6 677.6h2v1.4h-2zM159.8 679.3h2v1.4h-2zM167.6 682.1h2v1.4h-2zM175.3 690.7h2v1.4h-2zM177.6 691.1h2v1.4h-2zM178.7 691.5h2v1.4h-2zM178.7 694.3h2v1.4h-2zM180 686.3h2v1.4h-2zM180.3 685.1h2v1.4h-2zM180.6 686.7h2v1.4h-2zM181.8 681.4h2v1.4h-2zM182.5 676.8h2v1.4h-2zM189.6 666.9h2v1.4h-2zM205.7 670.4h2v1.4h-2zM210.7 673.2h2v1.4h-2zM213 675.4h2v1.4h-2zM216.2 661.7h2v1.4h-2zM226.3 658.3h2v1.4h-2zM233.5 667.2h2v1.4h-2zM236.1 667.5h2v1.4h-2zM240 671.3h2v1.4h-2zM245.5 676.8h2v1.4h-2zM247.3 678.6h2v1.4h-2zM251.5 684.5h2v1.4h-2zM255.4 678h2v1.4h-2zM260.5 676.2h2v1.4h-2zM277.5 673.3h2v1.4h-2zM283.9 674h2v1.4h-2zM290.1 681.1h2v1.4h-2zM293.5 676.5h2v1.4h-2zM304.7 665.7h2v1.4h-2zM307.2 660.7h2v1.4h-2zM312.1 652.2h2v1.4h-2zM319.2 637.5h2v1.4h-2zM153 678.2h2v1.4h-2zM193.6 667.3h2v1.4h-2zM197.8 669.4h2v1.4h-2zM199.3 666.3h2v1.4h-2zM209.5 673.6h2v1.4h-2zM215.5 664.8h2v1.4h-2zM216.4 661.2h2v1.4h-2zM221 657.1h2v1.4h-2zM226.7 659.7h2v1.4h-2zM231.8 665.1h2v1.4h-2zM243.8 673.1h2v1.4h-2zM271.2 682.9h2v1.4h-2zM274.7 679.8h2v1.4h-2zM276.4 673.1h2v1.4h-2zM288.4 678.9h2v1.4h-2zM144.4 676.5h2v1.4h-2zM151.3 680.1h2v1.4h-2zM180.8 688.6h2v1.4h-2zM183 671.4h2v1.4h-2zM202.7 665.5h2v1.4h-2zM253.3 676.9h2v1.4h-2zM275.8 677.1h2v1.4h-2zM297 676.3h2v1.4h-2zM151.3 678.6h2v1.4h-2zM163.3 680.3h2v1.4h-2zM179.6 692.5h2v1.4h-2zM180.8 684.8h2v1.4h-2zM326.6 628.2h2v1.4h-2zM332.6 631.1h2v1.4h-2zM341.7 629.6h2v1.4h-2zM370.5 637.2h2v1.4h-2zM372 638.7h2v1.4h-2zM373.2 640.4h2v1.4h-2zM379.1 648.7h2v1.4h-2zM383.2 654.3h2v1.4h-2zM397.8 655.4h2v1.4h-2zM409.9 657.5h2v1.4h-2zM423.5 655.7h2v1.4h-2zM490.2 660.4h2v1.4h-2zM509.9 658.7h2v1.4h-2zM534.2 659h2v1.4h-2z"/>
<path fill="#00afff" d="M139.3 677.7h2v1.4h-2zM149.6 679.3h2v1.4h-2zM150.9 679.1h2v1.4h-2zM153.4 678h2v1.4h-2zM165 681.8h2v1.4h-2zM170.1 688.9h2v1.4h-2zM171.4 689.8h2v1.4h-2zM172.7 687.1h2v1.4h-2zM182.8 671.7h2v1.4h-2zM190.7 667.4h2v1.4h-2zM190.7 668.8h2v1.4h-2zM196.1 665h2v1.4h-2zM201.8 670.2h2v1.4h-2zM204.4 669.3h2v1.4h-2zM205.7 671.8h2v1.4h-2zM208.3 673.7h2v1.4h-2zM211.8 674.2h2v1.4h-2zM213 676.8h2v1.4h-2zM214.8 665.9h2v1.4h-2zM221.3 657.2h2v1.4h-2zM234.8 665.5h2v1.4h-2zM234.8 666.9h2v1.4h-2zM248.1 683h2v1.4h-2zM252.2 682h2v1.4h-2zM252.8 679h2v1.4h-2zM276 674.9h2v1.4h-2zM292.4 676.4h2v1.4h-2zM304.7 667.1h2v1.4h-2zM190.7 670.7h2v1.4h-2zM226.7 661.1h2v1.4h-2zM285 675.5h2v1.4h-2zM285 676.9h2v1.4h-2zM286.7 676.8h2v1.4h-2zM137.8 673.6h2v1.4h-2zM147.9 680.6h2v1.4h-2zM173.6 692.2h2v1.4h-2zM189.3 668.4h2v1.4h-2zM230.1 663.4h2v1.4h-2zM245.1 674.5h2v1.4h-2zM247.7 682.1h2v1.4h-2zM257.5 678.7h2v1.4h-2zM319 635.6h2v1.4h-2zM352.3 631.1h2v1.4h-2zM367.5 633.7h2v1.4h-2zM391.7 654h2v1.4h-2zM444.8 658.3h2v1.4h-2zM466 656.8h2v1.4h-2zM485.7 659.1h2v1.4h-2zM499.3 658.5h2v1.4h-2zM505.4 657.9h2v1.4h-2zM569.9 663.2h2v1.4h-2zM589.6 661.9h2v1.4h-2zM601.7 661.3h2v1.4h-2zM619.9 662.5h2v1.4h-2zM162.8 682.6h2v1.4h-2zM145.1 686h2v1.4h-2zM153.5 693h2v1.4h-2zM143.3 688.8h2v1.4h-2zM146.1 675.5h2v1.4h-2zM179 695.9h2v1.4h-2zM135.2 688.5h2v1.4h-2zM192.9 693.6h2v1.4h-2zM199.4 692.6h2v1.4h-2zM189.6 683h2v1.4h-2zM166.4 682h2v1.4h-2zM163.1 675.2h2v1.4h-2zM188.4 683h2v1.4h-2zM199.4 684.8h2v1.4h-2zM136.9 695h2v1.4h-2zM155.9 683.3h2v1.4h-2zM143 680.2h2v1.4h-2zM195.6 692.9h2v1.4h-2zM172 696.9h2v1.4h-2zM177.8 677.6h2v1.4h-2zM175.7 691.1h2v1.4h-2zM182.3 692.4h2v1.4h-2zM253.7 696.1h2v1.4h-2zM274.7 690.7h2v1.4h-2zM142.7 724.1h2v1.4h-2z"/>
<path fill="#efff10" d="M141.9 678.4h2v1.4h-2zM144.4 681.5h2v1.4h-2zM168.8 685.4h2v1.4h-2zM179.7 693.4h2v1.4h-2zM180 689.1h2v1.4h-2zM180.3 686.5h2v1.4h-2zM182.1 677.4h2v1.4h-2zM199.3 667h2v1.4h-2zM213 678.2h2v1.4h-2zM222.4 655h2v1.4h-2zM231 665.2h2v1.4h-2zM237.4 669.3h2v1.4h-2zM238.7 670.3h2v1.4h-2zM249 678.8h2v1.4h-2zM253.5 678.8h2v1.4h-2zM254.1 675.8h2v1.4h-2zM254.1 677.2h2v1.4h-2zM269.5 683.7h2v1.4h-2zM271.8 683.1h2v1.4h-2zM274.2 680.4h2v1.4h-2zM274.7 678.3h2v1.4h-2zM278.5 674.3h2v1.4h-2zM291.2 675.5h2v1.4h-2zM297.4 675.7h2v1.4h-2zM298.7 674h2v1.4h-2zM313.5 648.9h2v1.4h-2zM314.2 649.3h2v1.4h-2zM314.9 644.3h2v1.4h-2zM168.4 682.8h2v1.4h-2zM171.8 688.9h2v1.4h-2zM183 671.7h2v1.4h-2zM193.6 665.9h2v1.4h-2zM202.7 670.7h2v1.4h-2zM252.2 679.7h2v1.4h-2zM271.2 684.3h2v1.4h-2zM309.8 655.4h2v1.4h-2zM312.4 649.8h2v1.4h-2zM322 631.1h2v1.4h-2zM329.6 628.7h2v1.4h-2zM334.2 631.7h2v1.4h-2zM358.4 634.7h2v1.4h-2z"/>
<path fill="#ff1000" d="M141.9 679.8h2v1.4h-2zM152.1 678.8h2v1.4h-2zM157.3 678.1h2v1.4h-2zM163.7 679.8h2v1.4h-2zM171.4 691.2h2v1.4h-2zM175.3 692.1h2v1.4h-2zM179.3 692.4h2v1.4h-2zM180.9 683.5h2v1.4h-2zM186.4 663.7h2v1.4h-2zM187.5 668.7h2v1.4h-2zM188.6 667.5h2v1.4h-2zM193.9 663.2h2v1.4h-2zM213.2 674.7h2v1.4h-2zM218.1 656.1h2v1.4h-2zM219.2 657.1h2v1.4h-2zM225.7 657h2v1.4h-2zM226.3 661.1h2v1.4h-2zM231 663.8h2v1.4h-2zM243.8 674.9h2v1.4h-2zM244.7 676.5h2v1.4h-2zM246.4 678.3h2v1.4h-2zM248.1 681.6h2v1.4h-2zM252.2 679.2h2v1.4h-2zM255.4 676.6h2v1.4h-2zM273.4 683.3h2v1.4h-2zM275.5 677h2v1.4h-2zM276 673.5h2v1.4h-2zM290.1 678.3h2v1.4h-2zM291.2 676.9h2v1.4h-2zM293.5 675.1h2v1.4h-2zM302.1 669.6h2v1.4h-2zM303.8 664.7h2v1.4h-2zM303.8 666.1h2v1.4h-2zM306.4 662.5h2v1.4h-2zM310 657.1h2v1.4h-2zM315.8 646.1h2v1.4h-2zM154.7 678.5h2v1.4h-2zM177 695.1h2v1.4h-2zM178.7 694h2v1.4h-2zM195 663.3h2v1.4h-2zM202.7 672.1h2v1.4h-2zM217.3 661.3h2v1.4h-2zM218.1 657.2h2v1.4h-2zM245.9 675.6h2v1.4h-2zM261 675.6h2v1.4h-2zM273 681.6h2v1.4h-2zM279.2 674.4h2v1.4h-2zM293.5 676.2h2v1.4h-2zM325.1 628h2v1.4h-2zM337.2 632.6h2v1.4h-2zM352.3 629.7h2v1.4h-2zM374.5 640.9h2v1.4h-2zM374.5 642.3h2v1.4h-2zM376.9 644.2h2v1.4h-2zM378.1 646.4h2v1.4h-2z"/>
<path fill="#ff7000" d="M143.1 679.3h2v1.4h-2zM150.9 677.7h2v1.4h-2zM158.6 678.3h2v1.4h-2zM165 680.4h2v1.4h-2zM166.3 681.7h2v1.4h-2zM166.3 683.1h2v1.4h-2zM172.7 691.3h2v1.4h-2zM180.6 685.3h2v1.4h-2zM181.3 685h2v1.4h-2zM182 677.8h2v1.4h-2zM187.5 667.3h2v1.4h-2zM189.6 665.5h2v1.4h-2zM190.7 670.2h2v1.4h-2zM195 666.5h2v1.4h-2zM197.1 667.3h2v1.4h-2zM198.2 665.7h2v1.4h-2zM201.8 668.8h2v1.4h-2zM217.5 660.2h2v1.4h-2zM227 659.8h2v1.4h-2zM228.4 662.8h2v1.4h-2zM253.5 680.2h2v1.4h-2zM263.1 679.8h2v1.4h-2zM267 683h2v1.4h-2zM273 683.1h2v1.4h-2zM274.2 681.8h2v1.4h-2zM275.5 675.6h2v1.4h-2zM276.4 672.7h2v1.4h-2zM278.5 672.9h2v1.4h-2zM282.8 671.6h2v1.4h-2zM291.2 678.3h2v1.4h-2zM305.5 665.9h2v1.4h-2zM307.9 660.4h2v1.4h-2zM313.5 650.3h2v1.4h-2zM314.9 645.7h2v1.4h-2zM318.4 639.5h2v1.4h-2zM137.8 675.6h2v1.4h-2zM139.3 678.5h2v1.4h-2zM181.3 683.3h2v1.4h-2zM182.6 670.7h2v1.4h-2zM214.6 667.3h2v1.4h-2zM219.5 656.8h2v1.4h-2zM225 658.5h2v1.4h-2zM244.9 675.7h2v1.4h-2zM253.5 678.4h2v1.4h-2zM274.7 678.4h2v1.4h-2zM291.8 677.7h2v1.4h-2zM302.1 672.8h2v1.4h-2zM303.1 667.5h2v1.4h-2zM306.2 660.4h2v1.4h-2zM309.8 654h2v1.4h-2zM136.3 673h2v1.4h-2zM146.1 681.3h2v1.4h-2zM180.4 688.1h2v1.4h-2zM182.8 673.1h2v1.4h-2zM216.4 663.1h2v1.4h-2zM243.8 675.8h2v1.4h-2zM280.7 674.5h2v1.4h-2zM136.3 672.9h2v1.4h-2zM147.9 678h2v1.4h-2zM158.1 677.9h2v1.4h-2zM159.8 680.7h2v1.4h-2zM170.1 690.7h2v1.4h-2zM175.3 692.8h2v1.4h-2zM175.3 694.2h2v1.4h-2zM181.3 681h2v1.4h-2zM182.6 671.4h2v1.4h-2zM182.8 667.8h2v1.4h-2zM331.1 630.6h2v1.4h-2zM337.2 631.2h2v1.4h-2zM346.3 627.2h2v1.4h-2zM372 640.1h2v1.4h-2zM375.7 642.5h2v1.4h-2zM382.2 651.7h2v1.4h-2zM382.2 653.1h2v1.4h-2zM383.2 655h2v1.4h-2zM384.7 654.2h2v1.4h-2zM396.3 655.2h2v1.4h-2zM399.3 654.9h2v1.4h-2zM422 657.3h2v1.4h-2zM434.2 659.2h2v1.4h-2zM447.8 656.9h2v1.4h-2zM470.5 656.5h2v1.4h-2zM488.7 659.5h2v1.4h-2zM493.2 659.7h2v1.4h-2zM508.4 658h2v1.4h-2zM516 660.3h2v1.4h-2z"/>
<path fill="#70ff8f" d="M144.4 678.7h2v1.4h-2zM157.3 679.5h2v1.4h-2zM157.3 680.9h2v1.4h-2zM162.4 682h2v1.4h-2zM171.4 688.4h2v1.4h-2zM176.4 692.2h2v1.4h-2zM180.9 684.9h2v1.4h-2zM186.4 665.1h2v1.4h-2zM192.8 665.4h2v1.4h-2zM195 665.1h2v1.4h-2zM199.3 664.2h2v1.4h-2zM205.7 669h2v1.4h-2zM213.5 672.2h2v1.4h-2zM214 669.9h2v1.4h-2zM214.3 669.2h2v1.4h-2zM214.5 670.2h2v1.4h-2zM215.3 664.2h2v1.4h-2zM223.7 655.7h2v1.4h-2zM233.5 664.4h2v1.4h-2zM234.8 668.3h2v1.4h-2zM250.3 682.6h2v1.4h-2zM256.7 677.5h2v1.4h-2zM259.2 675h2v1.4h-2zM259.2 676.4h2v1.4h-2zM261.8 679.4h2v1.4h-2zM264.4 680.4h2v1.4h-2zM264.4 681.8h2v1.4h-2zM265.7 682.1h2v1.4h-2zM267 681.6h2v1.4h-2zM271.8 684.5h2v1.4h-2zM287.5 676.9h2v1.4h-2zM294.8 674.1h2v1.4h-2zM304.7 662.9h2v1.4h-2zM306.4 661.1h2v1.4h-2zM310 655.7h2v1.4h-2zM311.4 652.8h2v1.4h-2zM136.3 675.3h2v1.4h-2zM161.6 679.9h2v1.4h-2zM163.3 682h2v1.4h-2zM168.4 684.2h2v1.4h-2zM170.1 683.9h2v1.4h-2zM170.1 686.7h2v1.4h-2zM180.8 685.7h2v1.4h-2zM238.7 670.4h2v1.4h-2zM252.2 678.3h2v1.4h-2zM293.5 677.6h2v1.4h-2zM304.1 667.6h2v1.4h-2zM310.7 652.2h2v1.4h-2zM161.6 676.6h2v1.4h-2zM195 667.5h2v1.4h-2zM214.4 670.5h2v1.4h-2zM221 656.3h2v1.4h-2zM262.7 680.2h2v1.4h-2zM298.7 670.3h2v1.4h-2zM302.1 670.6h2v1.4h-2zM181.3 682.4h2v1.4h-2zM329.6 630.1h2v1.4h-2zM332.6 629.7h2v1.4h-2zM362.9 634.8h2v1.4h-2zM369 636.8h2v1.4h-2zM416 661.2h2v1.4h-2zM481.1 658.2h2v1.4h-2zM491.7 660.5h2v1.4h-2zM659.3 661h2v1.4h-2zM193.3 689.8h2v1.4h-2zM166.1 677.1h2v1.4h-2zM188.7 691.1h2v1.4h-2zM152.8 675.8h2v1.4h-2zM152.9 675.1h2v1.4h-2zM166.1 682.9h2v1.4h-2zM160.3 685.2h2v1.4h-2zM136.7 696.6h2v1.4h-2zM141.1 677h2v1.4h-2zM141.9 679.5h2v1.4h-2zM151.9 688.1h2v1.4h-2zM181.7 676.9h2v1.4h-2zM189.5 688.2h2v1.4h-2zM190.1 694.8h2v1.4h-2zM150.5 684.9h2v1.4h-2zM170.9 683.7h2v1.4h-2zM134.8 695.2h2v1.4h-2zM181.7 675.2h2v1.4h-2zM139.6 686h2v1.4h-2zM177.7 680h2v1.4h-2zM160.8 696.4h2v1.4h-2zM149.7 680.4h2v1.4h-2zM142.8 680.8h2v1.4h-2zM143.6 689h2v1.4h-2zM196.2 700.9h2v1.4h-2zM320.4 577.7h2v1.4h-2zM307.8 616.5h2v1.4h-2zM337.2 594.3h2v1.4h-2zM393.2 642.6h2v1.4h-2zM402.3 643.7h2v1.4h-2zM405.4 644.7h2v1.4h-2z"/>
<path fill="#ff8f00" d="M145.7 679.7h2v1.4h-2zM149.6 682.1h2v1.4h-2zM154.7 678h2v1.4h-2zM162.4 680.6h2v1.4h-2zM172.7 689.9h2v1.4h-2zM175.3 693.5h2v1.4h-2zM177.6 693.9h2v1.4h-2zM179.7 692h2v1.4h-2zM180.3 687.9h2v1.4h-2zM181.4 682.4h2v1.4h-2zM182.8 670.3h2v1.4h-2zM191.8 664.5h2v1.4h-2zM191.8 667.3h2v1.4h-2zM196.1 663.6h2v1.4h-2zM196.1 666.4h2v1.4h-2zM197.1 665.9h2v1.4h-2zM215.5 664.6h2v1.4h-2zM219.2 655.7h2v1.4h-2zM221.3 654.4h2v1.4h-2zM222.4 653.6h2v1.4h-2zM225 657.4h2v1.4h-2zM233.5 665.8h2v1.4h-2zM248.1 680.2h2v1.4h-2zM261.8 676.6h2v1.4h-2zM270.7 682.1h2v1.4h-2zM273.8 678.6h2v1.4h-2zM274.2 683.2h2v1.4h-2zM279.6 671.2h2v1.4h-2zM279.6 672.6h2v1.4h-2zM286.2 673.8h2v1.4h-2zM286.2 675.2h2v1.4h-2zM288.8 677.4h2v1.4h-2zM292.4 675h2v1.4h-2zM297.4 674.3h2v1.4h-2zM298.7 672.6h2v1.4h-2zM312.8 651.2h2v1.4h-2zM317.5 641.2h2v1.4h-2zM147.9 680.3h2v1.4h-2zM187.8 666.7h2v1.4h-2zM213.3 676.4h2v1.4h-2zM242.1 673.6h2v1.4h-2zM244.9 674.3h2v1.4h-2zM245.9 677h2v1.4h-2zM252.8 677.6h2v1.4h-2zM277.8 670.5h2v1.4h-2zM290.1 678.7h2v1.4h-2zM291.8 679.1h2v1.4h-2zM310.7 653.6h2v1.4h-2zM323.5 631h2v1.4h-2zM542.6 659.7h2v1.4h-2zM560.8 661.8h2v1.4h-2zM562.3 661.4h2v1.4h-2z"/>
<path fill="#d4f4c4" d="M145.7 681.1h2v1.4h-2zM152.1 676h2v1.4h-2zM161.1 679.9h2v1.4h-2zM166.3 684.5h2v1.4h-2zM184.1 669.6h2v1.4h-2zM191.8 665.9h2v1.4h-2zM193.9 666h2v1.4h-2zM198.2 664.3h2v1.4h-2zM210.7 674.6h2v1.4h-2zM221.3 655.8h2v1.4h-2zM229.7 664.6h2v1.4h-2zM231 666.6h2v1.4h-2zM242.5 674.2h2v1.4h-2zM243.8 676.3h2v1.4h-2zM251.5 683.1h2v1.4h-2zM261.8 678h2v1.4h-2zM270.7 684.9h2v1.4h-2zM282.8 673h2v1.4h-2zM303 668.3h2v1.4h-2zM306.4 663.9h2v1.4h-2zM308.6 660.4h2v1.4h-2zM312.8 652.6h2v1.4h-2zM139.3 677.1h2v1.4h-2zM146.1 682.6h2v1.4h-2zM154.7 677.1h2v1.4h-2zM181.5 680.4h2v1.4h-2zM213 677.5h2v1.4h-2zM226.7 662.5h2v1.4h-2zM250.3 681h2v1.4h-2zM252.8 679h2v1.4h-2zM288.4 680.3h2v1.4h-2zM290.1 675.9h2v1.4h-2zM306.2 661.8h2v1.4h-2zM158.1 679.9h2v1.4h-2zM182.1 675.7h2v1.4h-2zM211.3 672.6h2v1.4h-2zM264.4 678.2h2v1.4h-2zM273.5 684.2h2v1.4h-2zM276.4 673.1h2v1.4h-2zM304.1 664.7h2v1.4h-2zM313.2 652.3h2v1.4h-2zM319.2 636.3h2v1.4h-2zM133.3 673.1h2v1.4h-2zM153 676.1h2v1.4h-2zM159.8 682.1h2v1.4h-2zM320.5 631.6h2v1.4h-2zM353.8 631h2v1.4h-2zM369 635.4h2v1.4h-2zM393.2 654.1h2v1.4h-2zM432.6 659h2v1.4h-2zM438.7 658.4h2v1.4h-2zM441.7 658.1h2v1.4h-2zM443.2 658.6h2v1.4h-2zM484.2 658.7h2v1.4h-2zM494.8 660.1h2v1.4h-2zM500.8 658.5h2v1.4h-2zM506.9 657.8h2v1.4h-2zM514.5 660.2h2v1.4h-2zM528.1 662.4h2v1.4h-2zM383.2 653.2h2v1.4h-2zM462.6 656.9h2v1.4h-2zM591.1 661.9h2v1.4h-2zM622.9 662.7h2v1.4h-2zM627.5 663.2h2v1.4h-2zM635.1 663h2v1.4h-2zM641.1 662.4h2v1.4h-2zM187.6 679h2v1.4h-2zM194.2 699.5h2v1.4h-2zM161.2 685.8h2v1.4h-2zM157.1 685.6h2v1.4h-2zM147.2 681.9h2v1.4h-2zM182 686.4h2v1.4h-2zM150.4 691.3h2v1.4h-2zM199.9 692.6h2v1.4h-2zM155.8 680.8h2v1.4h-2zM196 689.8h2v1.4h-2zM198.3 702.3h2v1.4h-2zM173.1 678.6h2v1.4h-2zM182.8 692.8h2v1.4h-2zM166.9 689.8h2v1.4h-2zM196.4 678.7h2v1.4h-2zM192.9 675.2h2v1.4h-2zM194.7 686.9h2v1.4h-2zM194.6 693.4h2v1.4h-2zM174.4 677.1h2v1.4h-2zM242.6 695.7h2v1.4h-2zM217.3 761.8h2v1.4h-2zM133.3 771.3h2v1.4h-2zM312.7 636.4h2v1.4h-2zM344.8 592.7h2v1.4h-2z"/>
<path fill="#ffef00" d="M148.3 679.7h2v1.4h-2zM152.1 680.2h2v1.4h-2zM153.4 676.6h2v1.4h-2zM156 676.4h2v1.4h-2zM163.7 678.4h2v1.4h-2zM168.8 684h2v1.4h-2zM179.7 690.6h2v1.4h-2zM180 690.5h2v1.4h-2zM180.9 686.3h2v1.4h-2zM182.3 676.7h2v1.4h-2zM182.3 678.1h2v1.4h-2zM182.5 675.4h2v1.4h-2zM182.8 668.9h2v1.4h-2zM183 670.2h2v1.4h-2zM197.1 664.5h2v1.4h-2zM214.3 670.6h2v1.4h-2zM214.3 672h2v1.4h-2zM214.5 667.4h2v1.4h-2zM215.5 663.2h2v1.4h-2zM217.5 661.6h2v1.4h-2zM223.7 652.9h2v1.4h-2zM246.4 679.7h2v1.4h-2zM249 680.2h2v1.4h-2zM249 681.6h2v1.4h-2zM258 674.5h2v1.4h-2zM260.5 679h2v1.4h-2zM264.4 679h2v1.4h-2zM273 684.5h2v1.4h-2zM275.1 677.2h2v1.4h-2zM276.4 674.1h2v1.4h-2zM280.7 670.2h2v1.4h-2zM280.7 671.6h2v1.4h-2zM282.8 674.4h2v1.4h-2zM285 674.8h2v1.4h-2zM292.4 679.2h2v1.4h-2zM293.5 677.9h2v1.4h-2zM298.7 675.4h2v1.4h-2zM303 669.7h2v1.4h-2zM311.4 654.2h2v1.4h-2zM312.8 649.8h2v1.4h-2zM315.8 644.7h2v1.4h-2zM319.2 638.9h2v1.4h-2zM141 675.9h2v1.4h-2zM151.3 678.1h2v1.4h-2zM153 679.6h2v1.4h-2zM175.3 693.1h2v1.4h-2zM182.3 677.3h2v1.4h-2zM182.8 671.7h2v1.4h-2zM204.4 670.4h2v1.4h-2zM213.6 672.5h2v1.4h-2zM214.3 667.6h2v1.4h-2zM214.6 665.9h2v1.4h-2zM286.7 678.2h2v1.4h-2zM181.9 677.4h2v1.4h-2zM186.4 665.6h2v1.4h-2zM225 660h2v1.4h-2zM233.5 664.4h2v1.4h-2zM238.7 669.5h2v1.4h-2zM266.1 678.6h2v1.4h-2zM274.1 680.8h2v1.4h-2zM159.8 679.3h2v1.4h-2zM323.5 629.6h2v1.4h-2zM344.8 627.5h2v1.4h-2zM364.5 634.5h2v1.4h-2zM373.2 641.8h2v1.4h-2zM375.7 643.9h2v1.4h-2zM394.8 654.4h2v1.4h-2zM464.5 657.2h2v1.4h-2zM472 656.8h2v1.4h-2zM478.1 657.4h2v1.4h-2zM497.8 658.9h2v1.4h-2zM520.5 661.9h2v1.4h-2zM522 662.1h2v1.4h-2zM535.8 659.3h2v1.4h-2zM387.5 654.4h2v1.4h-2zM458.8 657.2h2v1.4h-2zM539.6 659.5h2v1.4h-2zM544.2 660.6h2v1.4h-2zM550.2 660.5h2v1.4h-2zM576 662h2v1.4h-2zM181 688.3h2v1.4h-2zM198.4 681.3h2v1.4h-2zM190.6 685h2v1.4h-2zM149.3 678h2v1.4h-2zM158.2 681.3h2v1.4h-2zM135.8 685.6h2v1.4h-2zM182.3 681.6h2v1.4h-2zM197.6 676.4h2v1.4h-2zM193.5 680h2v1.4h-2zM181.7 685.1h2v1.4h-2z"/>
<path fill="#008fff" d="M149.6 684.9h2v1.4h-2zM157.8 683.5h2v1.4h-2zM177.7 686.4h2v1.4h-2zM262.4 683.2h2v1.4h-2zM273.4 680.5h2v1.4h-2zM304.4 666.7h2v1.4h-2zM207.5 670.8h2v1.4h-2zM304.1 675.6h2v1.4h-2zM307.2 664.1h2v1.4h-2zM159.6 679.4h2v1.4h-2zM212.4 667.7h2v1.4h-2zM236.7 666.7h2v1.4h-2zM250.4 681.4h2v1.4h-2zM313.2 653.7h2v1.4h-2zM160.1 673.7h2v1.4h-2zM361.9 634.4h2v1.4h-2zM466.5 660h2v1.4h-2zM531.6 663.1h2v1.4h-2zM469.9 659.4h2v1.4h-2zM592.6 661.3h2v1.4h-2zM606.3 661.9h2v1.4h-2zM613.8 661.8h2v1.4h-2zM626 662.4h2v1.4h-2zM186.7 692.3h2v1.4h-2zM150.5 689.2h2v1.4h-2zM199.4 678.7h2v1.4h-2zM147.3 677.5h2v1.4h-2zM165.7 681.9h2v1.4h-2zM141.3 687.2h2v1.4h-2zM151.5 711.9h2v1.4h-2zM172.1 690.6h2v1.4h-2zM152.5 683.4h2v1.4h-2zM166.1 692.5h2v1.4h-2zM193.1 680.3h2v1.4h-2zM170.9 694.9h2v1.4h-2zM158.1 675.6h2v1.4h-2zM146.5 689h2v1.4h-2zM177.1 686.3h2v1.4h-2zM135.8 675.7h2v1.4h-2zM208.8 695.3h2v1.4h-2zM184.3 697.6h2v1.4h-2zM244 693.5h2v1.4h-2zM203.3 697.3h2v1.4h-2zM231.2 690.8h2v1.4h-2zM196.6 709.6h2v1.4h-2zM222.8 759.9h2v1.4h-2zM272.1 700.1h2v1.4h-2zM274.7 703.6h2v1.4h-2zM323.4 597.5h2v1.4h-2zM343.2 592.5h2v1.4h-2zM458.4 642h2v1.4h-2z"/>
<path fill="#0010ff" d="M161.7 675.6h2v1.4h-2zM170.1 683.3h2v1.4h-2zM179.4 679.6h2v1.4h-2zM183.8 682.8h2v1.4h-2zM184.5 679.6h2v1.4h-2zM216 667.1h2v1.4h-2zM218.8 657.9h2v1.4h-2zM229.7 668.8h2v1.4h-2zM258.7 673.3h2v1.4h-2zM282.7 674.4h2v1.4h-2zM296.1 671.8h2v1.4h-2zM310.6 656.2h2v1.4h-2zM316.9 648.5h2v1.4h-2zM155 682.4h2v1.4h-2zM173.6 691h2v1.4h-2zM176.7 689.8h2v1.4h-2zM179.5 683.2h2v1.4h-2zM197 666.1h2v1.4h-2zM213.3 677.8h2v1.4h-2zM217.5 659.2h2v1.4h-2zM232.1 658.3h2v1.4h-2zM310.7 650.8h2v1.4h-2zM181.1 692.1h2v1.4h-2zM202.7 666.9h2v1.4h-2zM213.3 675.4h2v1.4h-2zM227 658.6h2v1.4h-2zM277.8 674.3h2v1.4h-2zM134.3 670.1h2v1.4h-2zM161.8 683.5h2v1.4h-2zM324 628.3h2v1.4h-2zM352.3 628.3h2v1.4h-2zM355.8 629.6h2v1.4h-2zM382.2 646.6h2v1.4h-2zM386.7 655.6h2v1.4h-2zM393.7 655.4h2v1.4h-2zM483.1 655.4h2v1.4h-2zM488.2 657.6h2v1.4h-2zM497.8 656.1h2v1.4h-2zM506.9 660.6h2v1.4h-2zM453.1 659h2v1.4h-2zM168.9 707.4h2v1.4h-2zM159.2 706.3h2v1.4h-2zM185.5 709.2h2v1.4h-2zM177.1 709.5h2v1.4h-2zM204.6 695.4h2v1.4h-2zM259.7 692.5h2v1.4h-2zM160.6 715.1h2v1.4h-2zM174 766.7h2v1.4h-2zM184.9 726h2v1.4h-2zM301.5 770.7h2v1.4h-2zM264.7 764.9h2v1.4h-2zM326.1 759h2v1.4h-2zM138.3 752h2v1.4h-2zM333.3 496.2h2v1.4h-2zM582.4 517.6h2v1.4h-2zM599.9 505.9h2v1.4h-2zM437.2 772h2v1.4h-2zM213.5 775.1h2v1.4h-2zM288.5 766.2h2v1.4h-2z"/>
<path fill="#b4dcff" d="M170.1 686.1h2v1.4h-2zM175.3 689.3h2v1.4h-2zM179 695.4h2v1.4h-2zM181.4 681h2v1.4h-2zM182.6 674.4h2v1.4h-2zM188.6 666.1h2v1.4h-2zM200.6 665.4h2v1.4h-2zM203.1 670.3h2v1.4h-2zM216.8 662.1h2v1.4h-2zM225 656h2v1.4h-2zM227.7 660.4h2v1.4h-2zM244.7 675.1h2v1.4h-2zM247.3 680h2v1.4h-2zM252.8 677.6h2v1.4h-2zM263.1 677h2v1.4h-2zM270.7 686.3h2v1.4h-2zM279.6 674h2v1.4h-2zM286.2 676.6h2v1.4h-2zM290.1 679.7h2v1.4h-2zM297.4 672.9h2v1.4h-2zM301 671.8h2v1.4h-2zM303.8 667.5h2v1.4h-2zM309.3 659h2v1.4h-2zM161.6 681.3h2v1.4h-2zM163.3 683.4h2v1.4h-2zM180.4 687.8h2v1.4h-2zM196.4 665.5h2v1.4h-2zM206.1 671.5h2v1.4h-2zM250.3 682.4h2v1.4h-2zM251.5 680.9h2v1.4h-2zM291.8 680.5h2v1.4h-2zM311.5 653.5h2v1.4h-2zM347.8 628.5h2v1.4h-2zM350.8 629.3h2v1.4h-2zM639.6 663h2v1.4h-2zM650.2 662.3h2v1.4h-2zM193 697.7h2v1.4h-2zM147.3 696.7h2v1.4h-2zM183.9 696.3h2v1.4h-2zM137.3 697.8h2v1.4h-2zM203.9 706.3h2v1.4h-2zM214.2 693.7h2v1.4h-2zM207.8 691.8h2v1.4h-2zM325.3 597.6h2v1.4h-2zM394.8 642.5h2v1.4h-2z"/>
<path fill="#0030ff" d="M177.3 689.6h2v1.4h-2zM184 683.4h2v1.4h-2zM216.2 664.5h2v1.4h-2zM226.4 660h2v1.4h-2zM276 672.1h2v1.4h-2zM308.7 657.2h2v1.4h-2zM156.4 680.9h2v1.4h-2zM212.8 670.2h2v1.4h-2zM319 637h2v1.4h-2zM336.7 633.8h2v1.4h-2zM344.8 631.7h2v1.4h-2zM370 637.3h2v1.4h-2zM399.8 656.8h2v1.4h-2zM433.1 656h2v1.4h-2zM435.7 662.2h2v1.4h-2zM448.3 655.8h2v1.4h-2zM471 659.9h2v1.4h-2zM166.9 705.4h2v1.4h-2zM237.2 692.1h2v1.4h-2zM239 693.4h2v1.4h-2zM232.5 695.9h2v1.4h-2zM244.5 693.4h2v1.4h-2zM225 752.4h2v1.4h-2zM162.3 777.2h2v1.4h-2z"/>
<path fill="#0070ff" d="M182.6 689.5h2v1.4h-2zM185.5 665.9h2v1.4h-2zM212.5 664.6h2v1.4h-2zM216.1 653.3h2v1.4h-2zM218.3 658.4h2v1.4h-2zM272.7 689.1h2v1.4h-2zM302.1 673.8h2v1.4h-2zM311.4 651.4h2v1.4h-2zM315.5 651.7h2v1.4h-2zM141.3 675.7h2v1.4h-2zM223 654.3h2v1.4h-2zM228.7 656.9h2v1.4h-2zM260.7 678.3h2v1.4h-2zM178.4 689.5h2v1.4h-2zM181.5 681.7h2v1.4h-2zM252.3 684.5h2v1.4h-2zM149.3 675.8h2v1.4h-2zM414.5 659.1h2v1.4h-2zM420 660.1h2v1.4h-2zM668.4 663.2h2v1.4h-2zM707.8 665.4h2v1.4h-2zM176.1 695.9h2v1.4h-2zM139.8 699.7h2v1.4h-2zM170.1 705.1h2v1.4h-2zM156.5 694.7h2v1.4h-2zM142.9 713.2h2v1.4h-2zM196.9 694h2v1.4h-2zM254.7 702.8h2v1.4h-2zM217.1 692.9h2v1.4h-2zM196.9 703.1h2v1.4h-2zM230.6 773.5h2v1.4h-2zM321.8 574.7h2v1.4h-2zM325.3 566.3h2v1.4h-2zM326.6 596.2h2v1.4h-2zM397.8 642.6h2v1.4h-2zM400.8 644h2v1.4h-2zM375.1 619.3h2v1.4h-2zM437.2 652.6h2v1.4h-2z"/>
<path fill="#ffaf00" d="M213.7 672.2h2v1.4h-2zM228.4 661.4h2v1.4h-2zM246.4 678h2v1.4h-2zM255.8 678h2v1.4h-2zM267.8 681.5h2v1.4h-2zM305.2 665.9h2v1.4h-2zM308.1 659.9h2v1.4h-2zM171.8 689.2h2v1.4h-2zM387.5 653.8h2v1.4h-2zM403.8 656.3h2v1.4h-2zM419 659.3h2v1.4h-2zM426.6 657.5h2v1.4h-2zM431.1 658.8h2v1.4h-2zM449.3 657h2v1.4h-2zM452.3 656.7h2v1.4h-2zM461.4 656.8h2v1.4h-2zM462.9 656.9h2v1.4h-2zM511.4 659.1h2v1.4h-2zM517.5 660.6h2v1.4h-2zM519 661.5h2v1.4h-2z"/>
<path fill="#10ffef" d="M385.4 654.5h2v1.4h-2zM408.1 656.8h2v1.4h-2zM431.7 658.6h2v1.4h-2zM566.9 662.9h2v1.4h-2zM588.1 661.5h2v1.4h-2zM630.5 663.2h2v1.4h-2zM632 663.5h2v1.4h-2zM193.2 679.6h2v1.4h-2zM164 684.4h2v1.4h-2zM142.9 697.8h2v1.4h-2zM182.6 690.2h2v1.4h-2zM157.3 687.8h2v1.4h-2zM182.6 700.7h2v1.4h-2zM186.1 683h2v1.4h-2zM151.3 691.2h2v1.4h-2zM175.4 680.3h2v1.4h-2zM183.2 703.1h2v1.4h-2zM160.6 675.8h2v1.4h-2zM148.2 678.8h2v1.4h-2zM158.5 682.8h2v1.4h-2zM146.2 680.9h2v1.4h-2zM137 701.2h2v1.4h-2zM153.8 685.5h2v1.4h-2zM151.6 689.5h2v1.4h-2zM171 682.6h2v1.4h-2zM172.2 691.6h2v1.4h-2zM145.8 684.2h2v1.4h-2zM145.3 689.5h2v1.4h-2zM139.2 700.1h2v1.4h-2zM157.6 697.7h2v1.4h-2zM148.1 687.2h2v1.4h-2zM195.5 675.7h2v1.4h-2zM142.3 694.6h2v1.4h-2zM184.2 685.1h2v1.4h-2zM198.9 690.6h2v1.4h-2zM161.9 685.1h2v1.4h-2zM146.1 681.5h2v1.4h-2zM199 692.3h2v1.4h-2zM248.9 692.2h2v1.4h-2zM191.5 694.6h2v1.4h-2zM198.4 700.3h2v1.4h-2zM221.6 696.7h2v1.4h-2zM249.8 746.4h2v1.4h-2zM326.6 563.2h2v1.4h-2zM329.6 595.1h2v1.4h-2zM347.8 592h2v1.4h-2zM409.9 644.8h2v1.4h-2zM425.1 652h2v1.4h-2z"/>
<path fill="#00cfff" d="M440.2 657.6h2v1.4h-2zM464.5 657.6h2v1.4h-2zM636.6 662.6h2v1.4h-2zM644.2 662.6h2v1.4h-2zM148.5 691.1h2v1.4h-2zM158.8 683.1h2v1.4h-2zM182 687h2v1.4h-2zM181.3 687.8h2v1.4h-2zM178.3 682.8h2v1.4h-2zM181.2 682.2h2v1.4h-2zM137.6 683.6h2v1.4h-2zM197.5 676.9h2v1.4h-2zM151.1 679.4h2v1.4h-2zM164.7 681.3h2v1.4h-2zM196.2 675.4h2v1.4h-2zM172.9 680.1h2v1.4h-2zM186.6 684.9h2v1.4h-2zM166 688.4h2v1.4h-2zM176.3 682h2v1.4h-2zM185.9 688.2h2v1.4h-2zM152.9 704.1h2v1.4h-2zM171.4 699h2v1.4h-2zM185.2 696.8h2v1.4h-2zM183.8 740.4h2v1.4h-2zM327.3 595.6h2v1.4h-2zM309.8 645.5h2v1.4h-2zM323.5 597.1h2v1.4h-2zM396.3 643.1h2v1.4h-2zM378.1 623.8h2v1.4h-2zM473.5 648.1h2v1.4h-2z"/>
<path fill="#50ffaf" d="M447.5 658.2h2v1.4h-2zM453.1 656.2h2v1.4h-2zM455 655.9h2v1.4h-2zM538.1 659.6h2v1.4h-2zM565.4 662.4h2v1.4h-2zM571.4 663.4h2v1.4h-2zM582 661h2v1.4h-2zM600.2 660.9h2v1.4h-2zM135.7 698.6h2v1.4h-2zM142.9 682.8h2v1.4h-2zM199.6 676.8h2v1.4h-2zM181 689.5h2v1.4h-2zM138.1 679.6h2v1.4h-2zM181.4 680.4h2v1.4h-2zM135.3 685.7h2v1.4h-2zM197.1 704.7h2v1.4h-2zM198.8 688.3h2v1.4h-2zM152.1 678.9h2v1.4h-2zM149.6 682.6h2v1.4h-2zM167 684.8h2v1.4h-2zM188.3 690.7h2v1.4h-2zM156.6 675.1h2v1.4h-2zM169.4 682.9h2v1.4h-2zM190.7 682.1h2v1.4h-2zM241.1 692.8h2v1.4h-2zM211.6 705.2h2v1.4h-2zM231.8 698.5h2v1.4h-2zM233.5 753.3h2v1.4h-2zM183.8 761.8h2v1.4h-2zM323.2 570.8h2v1.4h-2zM323.9 569.7h2v1.4h-2zM331.1 595h2v1.4h-2z"/>
<path fill="#8fff70" d="M548.7 660.3h2v1.4h-2zM563.8 662h2v1.4h-2zM574.5 662.7h2v1.4h-2zM583.5 660.9h2v1.4h-2zM585.1 661.3h2v1.4h-2z"/>
<path fill="#afff50" d="M185.3 681.5h2v1.4h-2zM187.7 691.7h2v1.4h-2zM193 684.1h2v1.4h-2zM148.7 681.6h2v1.4h-2zM179.2 686.8h2v1.4h-2zM142 688.9h2v1.4h-2zM178.7 677.8h2v1.4h-2zM185.4 678.3h2v1.4h-2zM152.4 678.5h2v1.4h-2zM194.4 676.8h2v1.4h-2zM148.6 681.2h2v1.4h-2zM163.6 675.7h2v1.4h-2zM173.3 679.2h2v1.4h-2zM150.3 680.8h2v1.4h-2zM173.1 683.8h2v1.4h-2zM159.6 675.8h2v1.4h-2zM197.7 686.6h2v1.4h-2z"/>
<path fill="#0000bf" d="M285.6 739.7h2v1.4h-2zM185.8 763.1h2v1.4h-2zM243.3 734.4h2v1.4h-2zM221.7 759.2h2v1.4h-2zM349.4 504.9h2v1.4h-2zM500 522.4h2v1.4h-2zM497 518.3h2v1.4h-2zM247.7 753.9h2v1.4h-2z"/>
<path fill="#0000cf" d="M317 720.1h2v1.4h-2zM240.9 728.7h2v1.4h-2zM294.2 702.5h2v1.4h-2zM182.4 723.1h2v1.4h-2zM349.4 501.1h2v1.4h-2zM399.9 481.6h2v1.4h-2zM449.5 504h2v1.4h-2zM715.6 524.4h2v1.4h-2zM714 522.3h2v1.4h-2zM560.7 777.2h2v1.4h-2zM354.2 752.8h2v1.4h-2zM398.6 764.5h2v1.4h-2zM870.7 764.8h2v1.4h-2zM231.5 769.7h2v1.4h-2z"/>
<path fill="#0000df" d="M210.4 717.7h2v1.4h-2zM242.3 707h2v1.4h-2zM325.2 758.1h2v1.4h-2zM292.6 733.6h2v1.4h-2zM300.6 706.7h2v1.4h-2zM135.6 761.4h2v1.4h-2zM383.4 482.6h2v1.4h-2zM500 517.6h2v1.4h-2zM449.5 507.9h2v1.4h-2zM383.4 556.5h2v1.4h-2zM565.9 517.6h2v1.4h-2zM867.4 757.8h2v1.4h-2zM319 771.5h2v1.4h-2zM708.7 768.7h2v1.4h-2z"/>
</g>
<rect x="133.5" y="66.5" width="797" height="712" fill="none" stroke="#000040" stroke-opacity="0.55" stroke-width="1"/>
<rect x="969" y="767.83" width="45" height="11.67" fill="#00008f"/>
<rect x="969" y="756.66" width="45" height="11.67" fill="#00009f"/>
<rect x="969" y="745.48" width="45" height="11.67" fill="#0000af"/>
<rect x="969" y="734.31" width="45" height="11.67" fill="#0000bf"/>
<rect x="969" y="723.14" width="45" height="11.67" fill="#0000cf"/>
<rect x="969" y="711.97" width="45" height="11.67" fill="#0000df"/>
<rect x="969" y="700.80" width="45" height="11.67" fill="#0000ef"/>
<rect x="969" y="689.62" width="45" height="11.67" fill="#0000ff"/>
<rect x="969" y="678.45" width="45" height="11.67" fill="#0010ff"/>
<rect x="969" y="667.28" width="45" height="11.67" fill="#0020ff"/>
<rect x="969" y="656.11" width="45" height="11.67" fill="#0030ff"/>
<rect x="969" y="644.94" width="45" height="11.67" fill="#0040ff"/>
<rect x="969" y="633.77" width="45" height="11.67" fill="#0050ff"/>
<rect x="969" y="622.59" width="45" height="11.67" fill="#0060ff"/>
<rect x="969" y="611.42" width="45" height="11.67" fill="#0070ff"/>
<rect x="969" y="600.25" width="45" height="11.67" fill="#0080ff"/>
<rect x="969" y="589.08" width="45" height="11.67" fill="#008fff"/>
<rect x="969" y="577.91" width="45" height="11.67" fill="#009fff"/>
<rect x="969" y="566.73" width="45" height="11.67" fill="#00afff"/>
<rect x="969" y="555.56" width="45" height="11.67" fill="#00bfff"/>
<rect x="969" y="544.39" width="45" height="11.67" fill="#00cfff"/>
<rect x="969" y="533.22" width="45" height="11.67" fill="#00dfff"/>
<rect x="969" y="522.05" width="45" height="11.67" fill="#00efff"/>
<rect x="969" y="510.88" width="45" height="11.67" fill="#00ffff"/>
<rect x="969" y="499.70" width="45" height="11.67" fill="#10ffef"/>
<rect x="969" y="488.53" width="45" height="11.67" fill="#20ffdf"/>
<rect x="969" y="477.36" width="45" height="11.67" fill="#30ffcf"/>
<rect x="969" y="466.19" width="45" height="11.67" fill="#40ffbf"/>
<rect x="969" y="455.02" width="45" height="11.67" fill="#50ffaf"/>
<rect x="969" y="443.84" width="45" height="11.67" fill="#60ff9f"/>
<rect x="969" y="432.67" width="45" height="11.67" fill="#70ff8f"/>
<rect x="969" y="421.50" width="45" height="11.67" fill="#80ff80"/>
<rect x="969" y="410.33" width="45" height="11.67" fill="#8fff70"/>
<rect x="969" y="399.16" width="45" height="11.67" fill="#9fff60"/>
<rect x="969" y="387.98" width="45" height="11.67" fill="#afff50"/>
<rect x="969" y="376.81" width="45" height="11.67" fill="#bfff40"/>
<rect x="969" y="365.64" width="45" height="11.67" fill="#cfff30"/>
<rect x="969" y="354.47" width="45" height="11.67" fill="#dfff20"/>
<rect x="969" y="343.30" width="45" height="11.67" fill="#efff10"/>
<rect x="969" y="332.12" width="45" height="11.67" fill="#ffff00"/>
<rect x="969" y="320.95" width="45" height="11.67" fill="#ffef00"/>
<rect x="969" y="309.78" width="45" height="11.67" fill="#ffdf00"/>
<rect x="969" y="298.61" width="45" height="11.67" fill="#ffcf00"/>
<rect x="969" y="287.44" width="45" height="11.67" fill="#ffbf00"/>
<rect x="969" y="276.27" width="45" height="11.67" fill="#ffaf00"/>
<rect x="969" y="265.09" width="45" height="11.67" fill="#ff9f00"/>
<rect x="969" y="253.92" width="45" height="11.67" fill="#ff8f00"/>
<rect x="969" y="242.75" width="45" height="11.67" fill="#ff8000"/>
<rect x="969" y="231.58" width="45" height="11.67" fill="#ff7000"/>
<rect x="969" y="220.41" width="45" height="11.67" fill="#ff6000"/>
<rect x="969" y="209.23" width="45" height="11.67" fill="#ff5000"/>
<rect x="969" y="198.06" width="45" height="11.67" fill="#ff4000"/>
<rect x="969" y="186.89" width="45" height="11.67" fill="#ff3000"/>
<rect x="969" y="175.72" width="45" height="11.67" fill="#ff2000"/>
<rect x="969" y="164.55" width="45" height="11.67" fill="#ff1000"/>
<rect x="969" y="153.38" width="45" height="11.67" fill="#ff0000"/>
<rect x="969" y="142.20" width="45" height="11.67" fill="#ef0000"/>
<rect x="969" y="131.03" width="45" height="11.67" fill="#df0000"/>
<rect x="969" y="119.86" width="45" height="11.67" fill="#cf0000"/>
<rect x="969" y="108.69" width="45" height="11.67" fill="#bf0000"/>
<rect x="969" y="97.52" width="45" height="11.67" fill="#af0000"/>
<rect x="969" y="86.34" width="45" height="11.67" fill="#9f0000"/>
<rect x="969" y="75.17" width="45" height="11.67" fill="#8f0000"/>
<rect x="969" y="64.00" width="45" height="11.67" fill="#800000"/>
<rect x="969.5" y="64.5" width="44" height="714" fill="none" stroke="#262626" stroke-width="1"/>
<rect x="1006" y="124" width="7" height="1" fill="#262626"/>
<rect x="1006" y="242" width="7" height="1" fill="#262626"/>
<rect x="1006" y="361" width="7" height="1" fill="#262626"/>
<rect x="1006" y="480" width="7" height="1" fill="#262626"/>
<rect x="1006" y="599" width="7" height="1" fill="#262626"/>
<rect x="1006" y="718" width="7" height="1" fill="#262626"/>
</svg>
</body></html>
